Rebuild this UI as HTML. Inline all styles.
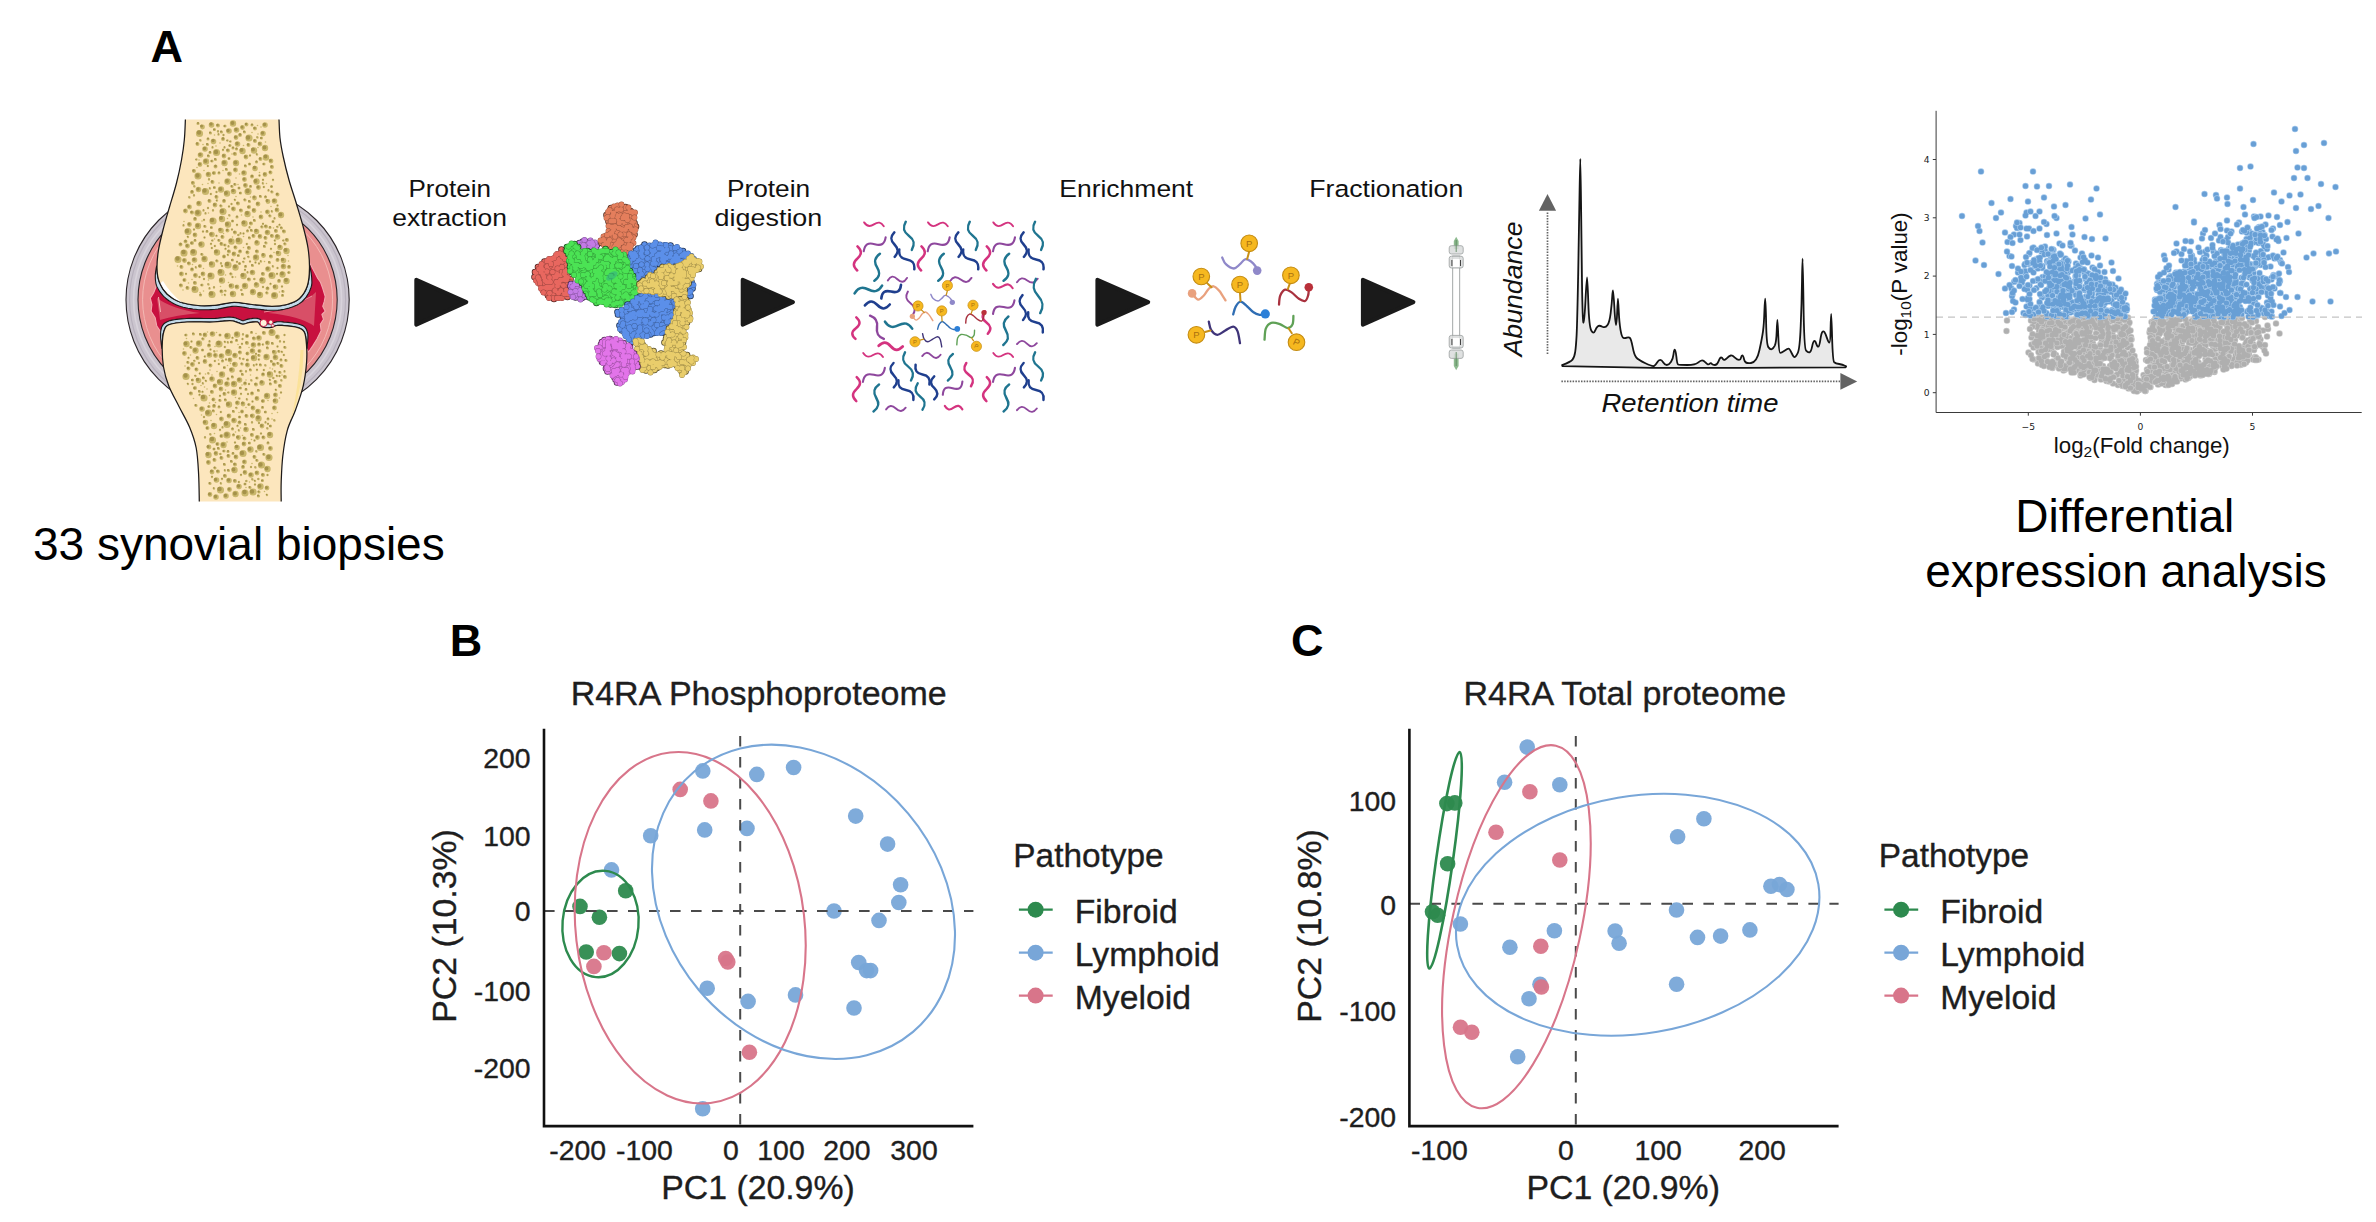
<!DOCTYPE html>
<html lang="en"><head><meta charset="utf-8"><title>Figure</title>
<style>
html,body{margin:0;padding:0;background:#fff;}
body{width:2376px;height:1222px;overflow:hidden;}
svg{display:block;}
svg text{font-family:"Liberation Sans",sans-serif;}
</style></head><body>
<svg width="2376" height="1222" viewBox="0 0 2376 1222">
<rect width="2376" height="1222" fill="#fff"/>
<g id="joint">
<ellipse cx="237.6" cy="299.8" rx="111.6" ry="112.5" fill="#cbc5cf" stroke="#2a2428" stroke-width="1.1"/>
<ellipse cx="237.6" cy="299.8" rx="108" ry="109" fill="none" stroke="#b9b2be" stroke-width="1.2"/>
<ellipse cx="237.6" cy="299.8" rx="104" ry="105" fill="none" stroke="#d8d3db" stroke-width="1.6"/>
<ellipse cx="237.6" cy="299.8" rx="99.6" ry="100.5" fill="#e98f8f" stroke="#2a2428" stroke-width="1.1"/>
<ellipse cx="237.6" cy="299.8" rx="95" ry="96" fill="none" stroke="#f3b9b4" stroke-width="1.0"/>
<path d="M160,281 L158,283 L156.8,285 L153.5,293.2 L150.3,298.1 L151.9,304.7 L151.1,311.2 L155.2,317.8 L156.8,326 L160,330.8 L161.7,339 L163,343 L170,330 L300,330 L306,346 L308,352 L309.6,350.5 L312.9,345.6 L317,339 L321.1,330.8 L320.3,324.3 L323.5,319.4 L321.9,314.5 L325.2,311.2 L322.7,306.3 L324.3,301.4 L325.2,296.5 L322.7,288.3 L320.3,281.8 L317.8,278.5 L314.5,272 L308,259.7 L306,258 L300,282 L170,282 Z" fill="#c8113f" stroke="#f3a9ae" stroke-width="1.1" stroke-linejoin="round"/>
<path d="M157,298 Q172,309 200,313 Q176,315 160,320 Z" fill="#d9566b" opacity="0.9"/>
<path d="M316,292 Q300,308 268,313 Q300,316 314,326 Z" fill="#d9566b" opacity="0.9"/>
<path d="M158.5,297 L160.5,312" fill="none" stroke="#f4b4b4" stroke-width="1.0"/>
<path d="M264,312 Q290,309 312,296" fill="none" stroke="#f0a0a8" stroke-width="0.9"/>
<path d="M157.0,266.0 L157.0,268.0 L157.1,270.0 L157.2,271.8 L157.3,273.6 L157.6,275.4 L157.9,277.1 L158.3,278.7 L158.7,280.4 L159.3,282.0 L160.0,283.6 L160.7,285.2 L161.6,286.8 L162.5,288.4 L163.5,289.9 L164.6,291.3 L165.7,292.7 L167.0,294.0 L168.3,295.2 L169.8,296.4 L171.3,297.5 L172.9,298.5 L174.5,299.5 L176.3,300.4 L178.1,301.2 L180.0,302.0 L182.0,302.7 L184.2,303.3 L186.4,303.8 L188.8,304.3 L191.1,304.7 L193.5,305.0 L195.8,305.3 L198.0,305.5 L200.2,305.7 L202.3,305.8 L204.4,305.8 L206.4,305.8 L208.5,305.7 L210.6,305.6 L212.8,305.5 L215.0,305.3 L217.3,305.0 L219.6,304.6 L222.0,304.2 L224.4,303.6 L226.9,303.2 L229.3,302.8 L231.7,302.4 L234.0,302.3 L236.3,302.3 L238.5,302.5 L240.7,302.8 L242.9,303.1 L245.1,303.5 L247.4,303.9 L249.7,304.2 L252.0,304.5 L254.4,304.8 L257.0,305.1 L259.6,305.4 L262.2,305.7 L264.8,305.9 L267.3,306.1 L269.7,306.2 L272.0,306.3 L274.1,306.3 L276.2,306.2 L278.1,306.1 L280.0,305.9 L281.8,305.6 L283.5,305.3 L285.3,305.0 L287.0,304.5 L288.7,304.0 L290.4,303.4 L292.1,302.8 L293.7,302.2 L295.3,301.4 L296.8,300.6 L298.2,299.6 L299.5,298.5 L300.7,297.3 L301.9,296.0 L303.0,294.5 L304.0,293.0 L305.0,291.4 L305.9,289.7 L306.6,287.9 L307.3,286.0 L307.9,284.0 L308.3,281.9 L308.7,279.7 L309.0,277.5 L309.2,275.1 L309.3,272.8 L309.4,270.4 L309.5,268.0 L309.5,265.6 L309.8,265.6 L310.3,268.0 L310.7,270.4 L311.1,272.9 L311.4,275.3 L311.7,277.8 L311.8,280.2 L311.9,282.6 L311.7,285.0 L311.1,287.2 L310.3,289.3 L309.5,291.4 L308.5,293.3 L307.4,295.1 L306.3,296.9 L305.0,298.5 L303.6,300.0 L302.2,301.5 L300.6,302.8 L298.9,303.9 L297.1,305.0 L295.3,305.8 L293.5,306.6 L291.7,307.2 L289.9,307.8 L288.1,308.4 L286.2,308.8 L284.3,309.3 L282.4,309.6 L280.4,309.9 L278.4,310.1 L276.4,310.2 L274.2,310.3 L272.0,310.3 L269.6,310.2 L267.0,310.1 L264.4,309.9 L261.8,309.6 L259.1,309.3 L256.5,309.0 L254.0,308.7 L251.5,308.5 L249.1,308.2 L246.7,307.8 L244.5,307.4 L242.3,307.0 L240.2,306.7 L238.1,306.5 L236.1,306.3 L234.1,306.3 L232.0,306.4 L229.9,306.7 L227.6,307.1 L225.2,307.6 L222.8,308.1 L220.4,308.6 L217.9,309.0 L215.4,309.3 L213.1,309.5 L210.9,309.6 L208.7,309.7 L206.5,309.8 L204.3,309.8 L202.1,309.8 L199.9,309.7 L197.6,309.5 L195.3,309.2 L192.9,309.0 L190.5,308.6 L188.0,308.2 L185.6,307.7 L183.2,307.2 L180.8,306.5 L178.6,305.8 L176.5,304.9 L174.5,304.0 L172.6,303.0 L170.8,301.9 L169.0,300.8 L167.3,299.5 L165.7,298.2 L164.2,296.9 L162.8,295.4 L161.5,293.8 L160.2,292.2 L159.1,290.5 L158.1,288.8 L157.1,287.0 L156.4,285.2 L155.9,283.3 L155.6,281.4 L155.4,279.5 L155.3,277.6 L155.3,275.7 L155.4,273.8 L155.6,271.9 L155.9,270.0 L156.2,268.0 L156.6,266.0 Z" fill="#c3dbea" stroke="#1d1a1a" stroke-width="1.1" stroke-linejoin="round"/>
<path d="M162.2,348.4 L162.2,346.0 L162.3,343.8 L162.3,341.6 L162.5,339.6 L162.7,337.6 L162.9,335.7 L163.2,334.0 L163.6,332.4 L164.0,331.0 L164.4,329.8 L164.8,328.7 L165.3,327.8 L165.8,327.0 L166.4,326.3 L167.2,325.6 L168.2,325.1 L169.5,324.5 L171.1,324.0 L172.8,323.5 L174.8,323.2 L177.0,322.8 L179.3,322.6 L181.7,322.4 L184.3,322.2 L187.0,322.0 L189.9,321.9 L193.1,321.9 L196.5,321.9 L200.0,321.9 L203.5,322.0 L206.9,322.0 L210.1,322.0 L213.0,322.0 L215.6,321.9 L218.1,321.7 L220.4,321.4 L222.6,321.2 L224.7,320.9 L226.6,320.7 L228.4,320.6 L230.0,320.6 L231.5,320.7 L232.7,320.9 L233.8,321.1 L234.8,321.4 L235.6,321.7 L236.4,322.0 L237.2,322.3 L238.0,322.6 L238.8,322.8 L239.4,323.1 L240.0,323.4 L240.6,323.6 L241.1,323.9 L241.7,324.1 L242.3,324.2 L243.0,324.2 L243.8,324.1 L244.6,323.9 L245.5,323.7 L246.3,323.4 L247.3,323.0 L248.2,322.7 L249.1,322.5 L250.0,322.3 L250.9,322.2 L251.9,322.0 L253.0,321.9 L254.0,321.8 L255.0,321.8 L255.9,321.8 L256.8,321.8 L257.5,322.0 L258.1,322.3 L258.6,322.6 L258.9,323.1 L259.2,323.6 L259.5,324.1 L259.8,324.7 L260.1,325.1 L260.5,325.5 L260.9,325.8 L261.2,326.1 L261.6,326.4 L262.0,326.6 L262.4,326.8 L262.8,327.0 L263.4,327.2 L264.0,327.3 L264.8,327.4 L265.7,327.5 L266.7,327.5 L267.7,327.5 L268.7,327.5 L269.7,327.5 L270.7,327.4 L271.5,327.3 L272.2,327.2 L272.8,327.0 L273.3,326.7 L273.8,326.5 L274.3,326.2 L274.8,326.0 L275.4,325.8 L276.0,325.6 L276.6,325.5 L277.2,325.4 L277.7,325.3 L278.3,325.3 L279.0,325.2 L279.8,325.2 L280.8,325.3 L282.0,325.4 L283.6,325.5 L285.5,325.7 L287.7,325.9 L290.0,326.2 L292.3,326.5 L294.4,326.8 L296.4,327.2 L298.0,327.6 L299.3,328.0 L300.4,328.5 L301.3,328.9 L302.1,329.4 L302.8,330.0 L303.4,330.7 L304.0,331.5 L304.5,332.5 L305.0,333.7 L305.4,335.0 L305.7,336.4 L305.9,338.0 L306.1,339.6 L306.2,341.4 L306.4,343.2 L306.5,345.0 L306.6,346.9 L306.7,348.8 L306.9,348.8 L307.1,346.8 L307.3,344.9 L307.5,343.1 L307.7,341.3 L307.8,339.5 L307.9,337.7 L307.9,336.0 L307.8,334.4 L307.6,332.8 L307.1,331.3 L306.6,329.9 L306.0,328.7 L305.2,327.6 L304.2,326.6 L303.0,325.8 L301.8,325.2 L300.5,324.7 L299.0,324.2 L297.1,323.8 L295.0,323.4 L292.7,323.0 L290.4,322.7 L288.0,322.4 L285.9,322.2 L283.9,322.1 L282.3,321.9 L281.0,321.8 L279.9,321.7 L278.9,321.7 L278.1,321.8 L277.3,321.8 L276.6,321.9 L276.0,322.0 L275.3,322.2 L274.4,322.4 L273.5,322.7 L272.8,323.1 L272.2,323.4 L271.8,323.6 L271.6,323.7 L271.3,323.8 L271.0,323.8 L270.4,323.9 L269.5,324.0 L268.6,324.0 L267.7,324.0 L266.7,324.0 L265.9,324.0 L265.1,323.9 L264.6,323.8 L264.2,323.8 L264.0,323.7 L263.8,323.7 L263.7,323.6 L263.6,323.5 L263.4,323.4 L263.1,323.1 L262.9,322.9 L262.9,322.9 L262.8,322.8 L262.6,322.5 L262.3,321.9 L261.8,321.1 L261.0,320.2 L259.9,319.3 L258.6,318.7 L257.3,318.4 L256.1,318.3 L254.9,318.3 L253.8,318.3 L252.6,318.4 L251.5,318.6 L250.5,318.7 L249.4,318.9 L248.3,319.1 L247.1,319.4 L246.1,319.7 L245.2,320.1 L244.4,320.3 L243.7,320.6 L243.2,320.7 L242.9,320.7 L242.7,320.7 L242.5,320.7 L242.3,320.6 L242.0,320.4 L241.5,320.2 L240.8,319.9 L239.9,319.6 L239.1,319.3 L238.4,319.0 L237.7,318.8 L236.9,318.5 L235.9,318.1 L234.7,317.7 L233.3,317.4 L231.8,317.2 L230.1,317.1 L228.2,317.1 L226.3,317.3 L224.3,317.5 L222.2,317.7 L220.1,317.9 L217.8,318.2 L215.4,318.4 L212.9,318.5 L210.1,318.5 L207.0,318.5 L203.6,318.5 L200.1,318.4 L196.6,318.4 L193.1,318.4 L189.8,318.4 L186.8,318.5 L184.1,318.7 L181.5,318.9 L178.9,319.1 L176.5,319.4 L174.2,319.7 L172.1,320.1 L170.1,320.6 L168.3,321.2 L166.7,321.9 L165.3,322.7 L164.0,323.7 L163.0,324.9 L162.2,326.1 L161.6,327.3 L161.3,328.6 L161.0,330.0 L160.7,331.7 L160.6,333.5 L160.6,335.4 L160.6,337.4 L160.8,339.4 L161.0,341.6 L161.2,343.7 L161.5,346.0 L161.9,348.4 Z" fill="#c3dbea" stroke="#1d1a1a" stroke-width="1.1" stroke-linejoin="round"/>
<path d="M185.4,119.5 C185.2,122.9 185.0,133.2 184.3,140.0 C183.7,146.8 182.8,152.8 181.5,160.0 C180.2,167.2 178.5,175.2 176.5,183.0 C174.5,190.8 171.8,199.2 169.5,207.0 C167.2,214.8 164.8,222.8 163.0,230.0 C161.2,237.2 159.5,243.7 158.5,250.0 C157.5,256.3 156.9,262.7 157.0,268.0 C157.1,273.3 157.6,277.7 159.3,282.0 C161.0,286.3 163.6,290.7 167.0,294.0 C170.4,297.3 174.8,300.1 180.0,302.0 C185.2,303.9 192.2,304.9 198.0,305.5 C203.8,306.1 209.0,305.8 215.0,305.3 C221.0,304.8 227.8,302.4 234.0,302.3 C240.2,302.2 245.7,303.8 252.0,304.5 C258.3,305.2 266.2,306.3 272.0,306.3 C277.8,306.3 282.4,305.8 287.0,304.5 C291.6,303.2 296.1,301.6 299.5,298.5 C302.9,295.4 305.6,291.1 307.3,286.0 C309.0,280.9 309.4,274.3 309.5,268.0 C309.6,261.7 309.0,254.7 308.0,248.0 C307.0,241.3 305.4,235.3 303.5,228.0 C301.6,220.7 298.9,212.0 296.5,204.0 C294.1,196.0 291.2,187.8 289.0,180.0 C286.8,172.2 284.8,164.0 283.3,157.0 C281.8,150.0 280.7,144.2 280.0,138.0 C279.3,131.8 279.2,122.6 279.0,119.5" fill="#fce6bd" stroke="#1d1a1a" stroke-width="1.25" stroke-linejoin="round"/>
<path d="M199.3,501.5 C199.2,496.9 199.1,482.9 198.6,474.0 C198.1,465.1 197.7,455.8 196.2,448.0 C194.7,440.2 192.4,433.9 189.5,427.0 C186.6,420.1 182.4,413.3 179.0,406.5 C175.6,399.7 171.4,392.6 168.8,386.0 C166.2,379.4 164.6,373.7 163.5,367.0 C162.4,360.3 162.1,352.0 162.2,346.0 C162.3,340.0 162.8,334.6 164.0,331.0 C165.2,327.4 165.7,326.0 169.5,324.5 C173.3,323.0 179.8,322.4 187.0,322.0 C194.2,321.6 205.8,322.2 213.0,322.0 C220.2,321.8 225.8,320.5 230.0,320.6 C234.2,320.7 235.8,322.0 238.0,322.6 C240.2,323.2 241.0,324.2 243.0,324.2 C245.0,324.1 247.6,322.7 250.0,322.3 C252.4,321.9 255.8,321.5 257.5,322.0 C259.2,322.5 259.4,324.6 260.5,325.5 C261.6,326.4 262.2,327.0 264.0,327.3 C265.8,327.6 269.5,327.6 271.5,327.3 C273.5,327.0 274.2,325.9 276.0,325.6 C277.8,325.3 278.3,325.1 282.0,325.4 C285.7,325.7 294.2,326.4 298.0,327.6 C301.8,328.8 303.1,329.6 304.5,332.5 C305.9,335.4 306.1,340.1 306.5,345.0 C306.9,349.9 307.1,355.2 306.6,362.0 C306.1,368.8 305.1,377.7 303.3,385.6 C301.5,393.6 298.3,402.2 295.6,409.7 C292.9,417.1 289.4,422.6 287.3,430.3 C285.2,438.0 283.8,447.4 282.8,456.0 C281.8,464.6 281.5,474.2 281.2,481.8 C280.9,489.4 281.2,498.2 281.2,501.5" fill="#fce6bd" stroke="#1d1a1a" stroke-width="1.25" stroke-linejoin="round"/>
<path d="M160.5,283 Q166,296 182,302.5 Q170,293 163,281 Z" fill="#fff"/>
<circle cx="263.6" cy="323" r="3.6" fill="#fdf3dc" stroke="#c8113f" stroke-width="0.9"/>
<circle cx="270.8" cy="322.2" r="2.2" fill="#fdf3dc" stroke="#c8113f" stroke-width="0.9"/>
<circle cx="272.8" cy="325.6" r="1.4" fill="#fdf3dc" stroke="#c8113f" stroke-width="0.7"/>
<path d="M303.5,350 Q303.5,385 291,420 Q299,385 300.5,350 Z" fill="#fbe08a" opacity="0.7"/>
<g transform="translate(150,118) scale(0.5)" fill="none" stroke-linecap="round">
<path d="M216 32h0M176 133h0M187 55h0M138 130h0M105 133h0M104 206h0M107 301h0M146 105h0M187 259h0M219 109h0M155 201h0M276 275h0M108 105h0M172 120h0M222 18h0M84 323h0M259 348h0M215 15h0M117 190h0M100 349h0M85 293h0M233 131h0M94 99h0M107 346h0M68 207h0M242 177h0M151 314h0M147 231h0M77 330h0M171 318h0M157 329h0M248 269h0M172 157h0M164 72h0M222 188h0M55 296h0M229 287h0M129 242h0M183 194h0M247 220h0M141 337h0M66 344h0M201 158h0M116 131h0M106 53h0M129 34h0M132 56h0M165 238h0M231 48h0M179 112h0M204 29h0M140 50h0M98 84h0M277 286h0M206 198h0M187 237h0M117 324h0M216 59h0M144 354h0M81 474h0M171 628h0M87 561h0M155 495h0M199 728h0M192 579h0M171 559h0M102 535h0M134 507h0M73 441h0M111 512h0M124 514h0M119 570h0M255 589h0M264 514h0M114 542h0M259 560h0M178 589h0M122 605h0M198 459h0M244 591h0M130 457h0M115 428h0M229 747h0M181 620h0M192 524h0M244 602h0M236 565h0M201 514h0M70 496h0M245 502h0M133 429h0M240 500h0M192 739h0M120 504h0M185 635h0M184 534h0M103 594h0M131 569h0M133 593h0M154 648h0M151 544h0M67 462h0M203 643h0M134 466h0M129 631h0M119 555h0M204 691h0M109 538h0M212 431h0M176 453h0M137 484h0M161 491h0" stroke="#c9b76c" stroke-width="3.2"/>
<path d="M147 34h0M144 296h0M133 148h0M158 177h0M89 137h0M222 287h0M255 175h0M88 155h0M189 281h0M194 252h0M249 201h0M255 300h0M219 115h0M226 338h0M119 341h0M264 337h0M125 59h0M187 231h0M126 185h0M161 47h0M128 339h0M218 291h0M118 123h0M111 191h0M106 227h0M156 274h0M200 75h0M134 165h0M108 322h0M159 195h0M170 164h0M137 33h0M92 299h0M72 312h0M109 239h0M214 73h0M122 152h0M151 346h0M174 214h0M187 288h0M246 124h0M165 318h0M79 159h0M226 124h0M108 204h0M99 318h0M122 252h0M155 45h0M183 344h0M151 262h0M124 260h0M149 59h0M116 180h0M209 322h0M120 141h0M116 96h0M241 332h0M107 185h0M67 215h0M117 333h0M259 214h0M200 287h0M244 187h0M146 64h0M150 354h0M164 223h0M242 262h0M88 223h0M157 257h0M181 231h0M93 83h0M255 218h0M226 212h0M174 288h0M101 45h0M190 304h0M228 138h0M250 252h0M76 238h0M195 309h0M163 172h0M177 234h0M267 245h0M130 256h0M133 236h0M197 278h0M125 245h0M254 312h0M237 145h0M211 289h0M199 219h0M250 245h0M215 39h0M226 131h0M246 297h0M136 27h0M142 291h0M222 631h0M112 526h0M205 567h0M203 525h0M235 621h0M150 705h0M231 495h0M198 532h0M269 434h0M268 474h0M210 733h0M121 633h0M180 481h0M175 616h0M138 492h0M250 507h0M184 452h0M142 731h0M106 531h0M77 480h0M213 493h0M193 726h0M269 507h0M187 482h0M228 504h0M182 714h0M210 726h0M100 511h0M142 588h0M260 447h0M192 507h0M218 483h0M182 552h0M85 532h0M129 467h0M217 722h0M130 486h0M202 698h0M128 741h0M110 639h0M231 609h0M262 549h0M209 645h0M194 563h0M156 449h0M140 624h0M173 580h0M214 504h0M259 516h0M252 544h0M247 520h0M110 477h0M263 525h0M145 619h0M99 554h0M98 490h0M179 561h0M211 699h0M236 612h0M108 598h0M105 548h0M150 448h0M170 649h0M157 549h0M249 605h0M83 447h0M144 722h0M226 453h0M205 723h0M234 754h0M150 458h0M121 463h0M204 609h0M76 532h0M240 524h0M89 486h0M152 483h0M185 442h0M186 433h0M141 672h0M91 516h0M264 468h0M254 516h0M218 610h0M124 718h0M178 728h0M178 625h0M212 472h0M196 552h0M255 457h0M208 495h0M268 448h0M119 447h0M165 440h0M117 511h0M213 667h0M140 556h0M235 714h0" stroke="#c9b76c" stroke-width="4.8"/>
<path d="M147 34h0M144 296h0M133 148h0M158 177h0M88 136h0M221 286h0M255 175h0M88 154h0M188 281h0M193 252h0M249 200h0M255 300h0M219 115h0M226 338h0M119 340h0M264 337h0M125 58h0M187 231h0M126 184h0M160 47h0M128 338h0M218 291h0M118 122h0M111 190h0M106 227h0M155 273h0M200 75h0M133 165h0M108 322h0M158 194h0M169 163h0M137 32h0M91 298h0M72 311h0M109 239h0M213 72h0M121 152h0M150 345h0M174 213h0M186 287h0M246 123h0M165 318h0M78 158h0M226 123h0M108 203h0M99 318h0M122 251h0M154 45h0M182 344h0M151 261h0M123 260h0M149 58h0M116 180h0M208 322h0M119 140h0M115 96h0M241 331h0M107 184h0M67 214h0M116 332h0M259 213h0M200 287h0M243 186h0M146 63h0M149 353h0M164 223h0M242 261h0M88 223h0M157 256h0M181 230h0M92 83h0M254 217h0M226 211h0M174 287h0M100 44h0M190 303h0M227 138h0M250 252h0M75 237h0M195 308h0M163 172h0M176 234h0M266 245h0M129 256h0M133 235h0M196 277h0M124 245h0M254 311h0M237 144h0M211 289h0M199 218h0M249 245h0M214 38h0M225 130h0M245 296h0M136 26h0M142 290h0M222 631h0M111 525h0M205 567h0M202 524h0M234 620h0M149 704h0M230 494h0M198 532h0M269 434h0M267 474h0M210 733h0M120 632h0M179 480h0M175 615h0M137 492h0M249 506h0M184 451h0M141 730h0M105 530h0M77 479h0M213 493h0M192 726h0M269 506h0M186 482h0M227 504h0M182 713h0M209 725h0M99 511h0M141 588h0M260 446h0M192 506h0M217 483h0M182 551h0M85 532h0M128 466h0M216 722h0M129 486h0M202 698h0M127 740h0M110 638h0M231 608h0M262 549h0M209 645h0M193 562h0M155 448h0M140 623h0M172 579h0M214 503h0M259 516h0M251 543h0M246 520h0M109 477h0M262 524h0M145 618h0M99 553h0M98 490h0M178 561h0M210 698h0M236 611h0M108 598h0M105 547h0M149 447h0M170 649h0M156 549h0M248 604h0M83 447h0M144 721h0M225 453h0M204 722h0M233 753h0M149 458h0M121 463h0M204 608h0M75 531h0M239 523h0M88 485h0M152 483h0M185 442h0M186 432h0M140 672h0M90 515h0M263 467h0M253 515h0M218 610h0M124 717h0M177 728h0M177 624h0M212 471h0M196 552h0M255 457h0M207 494h0M268 447h0M119 446h0M165 439h0M116 510h0M212 666h0M140 555h0M235 714h0" stroke="#a5924a" stroke-width="3.0"/>
<path d="M231 158h0M199 167h0M270 252h0M124 86h0M191 96h0M150 16h0M104 273h0M234 350h0M232 250h0M153 103h0M116 42h0M178 140h0M204 14h0M129 139h0M263 220h0M203 225h0M134 286h0M199 240h0M181 150h0M246 207h0M243 137h0M240 196h0M121 30h0M96 11h0M158 81h0M165 206h0M162 312h0M278 309h0M90 245h0M138 110h0M120 69h0M165 284h0M174 198h0M239 289h0M228 92h0M164 137h0M138 245h0M224 218h0M213 88h0M101 354h0M244 148h0M179 291h0M143 28h0M189 28h0M205 295h0M229 257h0M150 254h0M142 176h0M115 53h0M123 219h0M221 157h0M209 205h0M173 62h0M265 355h0M160 55h0M199 92h0M201 137h0M190 164h0M177 275h0M223 40h0M170 133h0M240 219h0M104 334h0M195 226h0M117 76h0M166 60h0M185 353h0M266 347h0M131 83h0M110 217h0M129 23h0M114 227h0M191 297h0M270 459h0M225 579h0M241 532h0M214 685h0M258 467h0M245 451h0M87 432h0M241 616h0M243 487h0M272 485h0M101 433h0M256 491h0M127 586h0M149 693h0M76 489h0M179 598h0M217 756h0M128 662h0M191 613h0M236 602h0M201 504h0M106 442h0M82 459h0M140 565h0M182 506h0M137 661h0M217 545h0M236 650h0M207 623h0M190 732h0M165 518h0M192 543h0M163 687h0M260 509h0M72 434h0M218 748h0M167 587h0M165 622h0M228 673h0M85 524h0M130 700h0M214 520h0M173 445h0M166 671h0M235 460h0M200 739h0M149 499h0M199 650h0M181 540h0M218 475h0M180 459h0M163 448h0M151 564h0M92 575h0M185 513h0M262 484h0M167 634h0M99 547h0M157 705h0M198 573h0M231 588h0M203 429h0M105 464h0M138 578h0M156 667h0M140 434h0M145 486h0M195 484h0M148 666h0M156 522h0M225 725h0M184 492h0M221 494h0M120 731h0M107 520h0M118 577h0" stroke="#c9b76c" stroke-width="6.4"/>
<path d="M231 157h0M198 166h0M269 251h0M123 86h0M190 95h0M149 16h0M103 272h0M233 349h0M231 249h0M152 102h0M116 41h0M178 140h0M204 13h0M128 139h0M262 219h0M202 224h0M133 285h0M198 239h0M180 150h0M246 207h0M243 137h0M239 195h0M120 29h0M96 10h0M158 81h0M165 206h0M161 311h0M277 309h0M90 244h0M138 109h0M120 68h0M164 284h0M174 197h0M238 288h0M227 92h0M163 136h0M137 244h0M223 217h0M213 87h0M101 353h0M243 147h0M179 291h0M142 27h0M188 27h0M204 294h0M228 256h0M149 254h0M141 175h0M114 52h0M122 219h0M220 156h0M208 204h0M173 61h0M265 354h0M159 55h0M199 92h0M201 136h0M189 163h0M176 275h0M222 40h0M169 132h0M240 218h0M103 334h0M195 225h0M116 75h0M166 59h0M184 352h0M265 346h0M130 82h0M109 216h0M128 23h0M114 226h0M191 296h0M269 458h0M225 578h0M240 531h0M213 684h0M257 466h0M244 450h0M86 431h0M240 616h0M242 486h0M271 484h0M100 432h0M255 490h0M126 585h0M148 692h0M75 488h0M179 598h0M216 755h0M128 662h0M190 612h0M236 601h0M200 503h0M105 441h0M81 458h0M139 564h0M181 506h0M136 660h0M216 544h0M236 649h0M206 622h0M190 732h0M164 517h0M192 542h0M162 686h0M259 508h0M71 434h0M217 747h0M166 586h0M165 621h0M227 672h0M84 524h0M129 699h0M213 520h0M173 444h0M166 670h0M234 459h0M199 738h0M148 499h0M198 650h0M180 540h0M217 474h0M180 458h0M162 448h0M150 563h0M91 574h0M184 512h0M262 483h0M167 633h0M98 546h0M156 704h0M197 573h0M230 588h0M203 428h0M105 464h0M138 577h0M156 666h0M140 434h0M145 485h0M194 484h0M147 666h0M156 521h0M224 725h0M183 491h0M220 493h0M119 730h0M106 519h0M117 577h0" stroke="#a5924a" stroke-width="4.0"/>
<path d="M202 211h0M86 130h0M235 341h0M198 323h0M258 326h0M75 340h0M170 72h0M156 65h0M176 171h0M255 153h0M84 148h0M131 97h0M145 238h0M146 42h0M158 267h0M90 202h0M210 21h0M148 277h0M268 227h0M197 54h0M170 229h0M195 269h0M155 225h0M71 247h0M136 15h0M143 252h0M180 267h0M100 296h0M204 117h0M255 284h0M61 253h0M63 298h0M95 52h0M180 34h0M119 166h0M231 240h0M84 303h0M244 98h0M62 335h0M232 217h0M143 347h0M214 267h0M182 185h0M274 244h0M69 324h0M221 82h0M90 330h0M252 226h0M242 277h0M210 46h0M88 106h0M193 13h0M198 260h0M128 110h0M84 250h0M171 259h0M84 189h0M226 312h0M133 158h0M278 298h0M244 236h0M207 236h0M198 178h0M148 166h0M125 128h0M241 109h0M78 291h0M136 707h0M219 466h0M204 551h0M195 471h0M209 678h0M118 455h0M190 531h0M149 552h0M260 536h0M180 469h0M124 548h0M186 698h0M226 714h0M157 676h0M189 641h0M208 441h0M95 480h0M143 636h0M184 587h0M93 503h0M226 566h0M170 726h0M179 609h0M128 576h0M212 533h0M193 596h0M127 563h0M251 528h0M77 501h0M121 495h0M194 450h0M204 634h0M82 551h0M129 684h0M170 693h0M135 652h0M194 436h0M263 496h0M248 493h0M228 430h0M150 716h0M115 620h0M270 518h0M226 513h0M143 680h0M227 639h0M218 453h0M90 540h0" stroke="#c9b76c" stroke-width="8.0"/>
<path d="M201 210h0M85 129h0M235 340h0M197 322h0M258 325h0M74 339h0M169 71h0M155 64h0M175 170h0M254 152h0M84 147h0M131 96h0M144 237h0M146 41h0M157 266h0M90 201h0M209 20h0M148 277h0M267 226h0M196 53h0M169 228h0M194 268h0M154 224h0M71 246h0M135 14h0M142 251h0M180 266h0M99 296h0M204 116h0M255 283h0M61 252h0M62 297h0M94 51h0M180 33h0M118 165h0M230 239h0M84 302h0M243 97h0M61 334h0M231 216h0M142 346h0M213 266h0M181 184h0M273 243h0M68 324h0M220 81h0M89 329h0M251 225h0M241 276h0M209 45h0M87 105h0M192 12h0M197 259h0M127 110h0M83 250h0M170 258h0M83 188h0M225 311h0M132 157h0M278 297h0M243 235h0M206 235h0M197 178h0M148 165h0M124 127h0M240 108h0M77 290h0M135 706h0M218 466h0M204 550h0M194 471h0M208 677h0M118 454h0M190 530h0M148 551h0M259 535h0M179 468h0M123 547h0M186 697h0M225 713h0M156 675h0M188 640h0M207 440h0M94 479h0M142 636h0M184 587h0M92 502h0M225 566h0M169 725h0M179 608h0M128 575h0M211 532h0M192 595h0M126 563h0M250 527h0M76 500h0M120 494h0M193 449h0M203 633h0M81 550h0M128 683h0M169 692h0M134 652h0M194 436h0M262 495h0M247 492h0M227 429h0M149 715h0M114 620h0M269 517h0M226 512h0M142 679h0M226 638h0M218 452h0M89 540h0" stroke="#a5924a" stroke-width="5.0"/>
<path d="M217 139h0M227 275h0M79 178h0M235 188h0M185 19h0M100 93h0M189 123h0M208 185h0M236 167h0M130 174h0M79 213h0M254 184h0M105 18h0M69 285h0M209 160h0M216 172h0M159 112h0M167 182h0M171 104h0M230 113h0M220 52h0M90 234h0M191 135h0M148 76h0M222 198h0M63 312h0M174 338h0M106 312h0M91 315h0M192 78h0M220 237h0M168 272h0M75 256h0M71 186h0M242 86h0M172 39h0M158 596h0M177 639h0M190 709h0M132 671h0M255 438h0M118 658h0M234 740h0M195 494h0M235 450h0M249 469h0M85 493h0M215 639h0M172 678h0M175 570h0M214 561h0M224 616h0M160 484h0M143 602h0M159 743h0M251 554h0M130 536h0M110 487h0M189 688h0M117 689h0M206 580h0M120 753h0M205 596h0M188 652h0M214 710h0M124 708h0M186 572h0M110 434h0M142 542h0M249 580h0M241 661h0M131 475h0M69 471h0" stroke="#c9b76c" stroke-width="9.6"/>
<path d="M216 138h0M226 273h0M78 177h0M234 187h0M184 18h0M99 92h0M188 122h0M207 184h0M234 165h0M129 173h0M78 212h0M253 183h0M103 16h0M68 284h0M208 158h0M215 171h0M158 111h0M166 181h0M170 103h0M229 112h0M219 51h0M89 233h0M190 134h0M147 75h0M221 197h0M62 311h0M173 337h0M105 311h0M90 314h0M191 77h0M219 236h0M167 271h0M74 255h0M70 185h0M241 85h0M171 38h0M157 595h0M175 638h0M189 708h0M131 670h0M254 437h0M116 657h0M233 739h0M194 493h0M234 449h0M247 467h0M84 492h0M214 638h0M171 677h0M174 569h0M213 560h0M223 615h0M159 483h0M142 601h0M158 742h0M250 553h0M129 535h0M109 486h0M188 687h0M116 688h0M205 579h0M119 752h0M203 595h0M187 651h0M213 709h0M123 706h0M185 570h0M109 433h0M141 541h0M248 579h0M240 660h0M130 474h0M68 470h0" stroke="#a5924a" stroke-width="6.0"/>
<path d="M110 62h0M226 31h0M97 143h0M163 336h0M255 238h0M213 227h0M249 166h0M117 113h0M210 101h0M142 225h0M173 24h0M236 302h0M214 250h0M235 229h0M257 271h0M124 233h0M127 47h0M230 14h0M175 52h0M213 334h0M101 74h0M267 297h0M251 338h0M188 110h0M205 309h0M123 14h0M267 285h0M89 284h0M98 171h0M167 147h0M158 26h0M260 259h0M216 587h0M207 454h0M164 504h0M179 524h0M132 758h0M124 522h0M133 724h0M178 737h0M205 466h0M192 623h0M111 609h0M168 605h0M143 476h0M104 582h0M170 475h0M224 530h0M218 440h0M152 756h0M251 566h0M170 493h0M154 532h0M158 725h0M97 525h0M202 714h0M251 479h0M125 432h0M119 474h0M174 659h0" stroke="#c9b76c" stroke-width="11.2"/>
<path d="M109 61h0M225 30h0M96 142h0M161 335h0M254 236h0M212 225h0M248 165h0M116 112h0M209 99h0M140 223h0M172 23h0M235 301h0M213 248h0M234 228h0M255 269h0M122 232h0M126 45h0M229 13h0M174 51h0M212 332h0M100 73h0M266 296h0M249 337h0M187 109h0M204 308h0M122 12h0M265 283h0M88 283h0M97 170h0M166 145h0M156 25h0M259 257h0M215 586h0M206 453h0M162 503h0M178 523h0M131 757h0M123 521h0M131 723h0M177 736h0M204 465h0M191 622h0M109 608h0M167 604h0M142 475h0M103 581h0M169 474h0M223 528h0M217 439h0M151 755h0M249 565h0M168 492h0M153 531h0M157 724h0M95 523h0M201 713h0M250 478h0M124 431h0M118 473h0M173 657h0" stroke="#a5924a" stroke-width="6.9"/>
<path d="M195 192h0M220 354h0M187 316h0M265 313h0M262 194h0M112 87h0M225 325h0M190 336h0M166 352h0M144 325h0M171 299h0M166 11h0M163 247h0M232 79h0M273 266h0M172 90h0M189 211h0M124 293h0M103 253h0M185 66h0M213 127h0M144 202h0M230 60h0M142 143h0M206 348h0M273 326h0M109 282h0M134 269h0M154 151h0M155 127h0M208 65h0M212 279h0M149 90h0M156 213h0M96 216h0M158 573h0M98 451h0M240 513h0M169 704h0M168 532h0M155 436h0M128 616h0M217 601h0M174 433h0M171 752h0M117 674h0M144 513h0M208 480h0M235 702h0M240 634h0M221 737h0M234 556h0M147 654h0M140 528h0M201 663h0M91 465h0M73 452h0M233 478h0M168 549h0" stroke="#c9b76c" stroke-width="12.8"/>
<path d="M194 190h0M219 352h0M185 314h0M264 311h0M261 193h0M111 86h0M223 323h0M189 335h0M164 351h0M142 324h0M170 297h0M165 10h0M161 245h0M231 77h0M271 264h0M171 89h0M187 209h0M122 291h0M101 252h0M183 64h0M211 126h0M142 200h0M229 59h0M141 142h0M205 347h0M272 324h0M108 281h0M132 267h0M152 150h0M154 126h0M206 63h0M211 278h0M148 89h0M154 212h0M95 215h0M156 572h0M97 450h0M238 511h0M167 703h0M167 531h0M153 435h0M127 614h0M216 599h0M173 432h0M170 751h0M115 672h0M143 512h0M206 479h0M233 701h0M239 632h0M219 736h0M233 555h0M146 653h0M138 527h0M199 662h0M90 464h0M71 451h0M232 477h0M167 548h0" stroke="#a5924a" stroke-width="7.9"/>
<path d="M76 227h0M196 147h0M122 316h0M126 206h0M90 343h0M156 294h0M178 246h0M249 355h0M87 269h0M111 147h0M96 116h0M142 309h0M96 190h0M56 283h0M99 31h0M68 270h0M124 353h0M198 40h0M146 187h0M133 69h0M244 315h0M154 613h0M72 517h0M186 671h0M223 694h0M154 634h0M141 744h0M238 679h0M125 644h0M108 560h0M138 452h0M157 469h0M206 748h0M221 659h0M190 750h0M117 590h0M244 429h0" stroke="#c9b76c" stroke-width="14.4"/>
<path d="M74 226h0M195 146h0M120 314h0M124 204h0M88 341h0M154 292h0M176 244h0M248 354h0M86 267h0M109 145h0M95 115h0M140 307h0M95 189h0M55 281h0M98 29h0M67 268h0M122 351h0M196 39h0M144 186h0M132 68h0M242 314h0M152 611h0M71 515h0M184 670h0M221 693h0M153 633h0M139 742h0M237 678h0M124 642h0M106 558h0M137 450h0M156 467h0M204 747h0M219 658h0M189 748h0M115 589h0M243 427h0" stroke="#a5924a" stroke-width="8.9"/>
</g>
</g>
<g id="protein">
<g transform="translate(520,190) scale(0.5)" fill="none" stroke-linecap="round">
<path d="M63 168h0M88 158h0M55 169h0M57 149h0M91 151h0M38 168h0M34 169h0M94 148h0M93 125h0M83 148h0M95 214h0M71 206h0M70 149h0M67 154h0M99 163h0M60 154h0M79 165h0M90 143h0M55 181h0M29 174h0M75 211h0M50 200h0M93 197h0M84 207h0M44 190h0M87 211h0M56 211h0M101 178h0M82 191h0M68 181h0M49 165h0M49 143h0M83 119h0M68 218h0M30 164h0M62 158h0M50 149h0M61 191h0M77 130h0M85 176h0M49 187h0M89 149h0M50 169h0M82 213h0M69 212h0M48 153h0M51 191h0M36 154h0M83 186h0M63 214h0M35 162h0M76 202h0M54 174h0M64 201h0M83 195h0" stroke="#532522" stroke-width="13.2"/>
<path d="M63 168h0M88 158h0M55 169h0M57 149h0M91 151h0M38 168h0M34 169h0M94 148h0M93 125h0M83 148h0M95 214h0M71 206h0M70 149h0M67 154h0M99 163h0M60 154h0M79 165h0M90 143h0M55 181h0M29 174h0M75 211h0M50 200h0M93 197h0M84 207h0M44 190h0M87 211h0M56 211h0M101 178h0M82 191h0M68 181h0M49 165h0M49 143h0M83 119h0M68 218h0M30 164h0M62 158h0M50 149h0M61 191h0M77 130h0M85 176h0M49 187h0M89 149h0M50 169h0M82 213h0M69 212h0M48 153h0M51 191h0M36 154h0M83 186h0M63 214h0M35 162h0M76 202h0M54 174h0M64 201h0M83 195h0" stroke="#e8675f" stroke-width="10.0"/>
<path d="M82 157h0M84 216h0M84 163h0M61 162h0M52 206h0M67 187h0M77 197h0M91 184h0M66 174h0M36 186h0M72 143h0M58 190h0M78 216h0M77 174h0M55 158h0M93 192h0M93 168h0M60 195h0M81 137h0M74 169h0M96 195h0M68 191h0M67 206h0M77 179h0M67 196h0M71 152h0M64 180h0M74 138h0M98 184h0M32 181h0M86 200h0M73 175h0M70 170h0M78 153h0M90 130h0M54 153h0M46 179h0M100 189h0M58 202h0M81 171h0M52 195h0M73 162h0M72 197h0M74 216h0M42 197h0M75 149h0M42 173h0M45 201h0M46 197h0M40 189h0M67 143h0M85 143h0M79 143h0M68 159h0M50 160h0" stroke="#9d4640" stroke-width="11.6"/>
<path d="M82 157h0M84 216h0M84 163h0M61 162h0M52 206h0M67 187h0M77 197h0M91 184h0M66 174h0M36 186h0M72 143h0M58 190h0M78 216h0M77 174h0M55 158h0M93 192h0M93 168h0M60 195h0M81 137h0M74 169h0M96 195h0M68 191h0M67 206h0M77 179h0M67 196h0M71 152h0M64 180h0M74 138h0M98 184h0M32 181h0M86 200h0M73 175h0M70 170h0M78 153h0M90 130h0M54 153h0M46 179h0M100 189h0M58 202h0M81 171h0M52 195h0M73 162h0M72 197h0M74 216h0M42 197h0M75 149h0M42 173h0M45 201h0M46 197h0M40 189h0M67 143h0M85 143h0M79 143h0M68 159h0M50 160h0" stroke="#e8675f" stroke-width="10.0"/>
<path d="M102 185h0M59 175h0M63 138h0M45 159h0M92 175h0M77 206h0M43 148h0M95 175h0M97 208h0M58 216h0M75 157h0M87 191h0M38 158h0M89 168h0M70 201h0M78 187h0M61 184h0M59 206h0M90 121h0M42 164h0M94 160h0M90 138h0M36 175h0M82 201h0M54 142h0M85 133h0M88 179h0M42 152h0M74 128h0M58 141h0M75 192h0M73 184h0M47 205h0M93 180h0M68 136h0M40 186h0M72 130h0M90 163h0M102 201h0M89 208h0M38 179h0M58 138h0M93 200h0M46 169h0M48 174h0M54 163h0M80 127h0M81 180h0M50 181h0M89 127h0M84 154h0M62 148h0M65 164h0M54 184h0" stroke="#9d4640" stroke-width="11.6"/>
<path d="M102 185h0M59 175h0M63 138h0M45 159h0M92 175h0M77 206h0M43 148h0M95 175h0M97 208h0M58 216h0M75 157h0M87 191h0M38 158h0M89 168h0M70 201h0M78 187h0M61 184h0M59 206h0M90 121h0M42 164h0M94 160h0M90 138h0M36 175h0M82 201h0M54 142h0M85 133h0M88 179h0M42 152h0M74 128h0M58 141h0M75 192h0M73 184h0M47 205h0M93 180h0M68 136h0M40 186h0M72 130h0M90 163h0M102 201h0M89 208h0M38 179h0M58 138h0M93 200h0M46 169h0M48 174h0M54 163h0M80 127h0M81 180h0M50 181h0M89 127h0M84 154h0M62 148h0M65 164h0M54 184h0" stroke="#e8675f" stroke-width="10.0"/>
<path d="M131 103h0M154 110h0M136 121h0M151 116h0M126 103h0M119 106h0M146 115h0" stroke="#462c52" stroke-width="13.2"/>
<path d="M131 103h0M154 110h0M136 121h0M151 116h0M126 103h0M119 106h0M146 115h0" stroke="#c37be6" stroke-width="10.0"/>
<path d="M150 105h0M136 109h0M129 100h0M124 109h0M141 101h0M134 116h0M141 109h0" stroke="#84539c" stroke-width="11.6"/>
<path d="M150 105h0M136 109h0M129 100h0M124 109h0M141 101h0M134 116h0M141 109h0" stroke="#c37be6" stroke-width="10.0"/>
<path d="M139 115h0M146 109h0M141 122h0M139 106h0M128 116h0M144 105h0M127 110h0" stroke="#84539c" stroke-width="11.6"/>
<path d="M139 115h0M146 109h0M141 122h0M139 106h0M128 116h0M144 105h0M127 110h0" stroke="#c37be6" stroke-width="10.0"/>
<path d="M123 205h0M102 188h0M124 216h0M128 200h0M117 192h0M101 192h0M111 215h0M134 210h0M132 213h0M118 215h0M107 198h0" stroke="#462c52" stroke-width="13.2"/>
<path d="M123 205h0M102 188h0M124 216h0M128 200h0M117 192h0M101 192h0M111 215h0M134 210h0M132 213h0M118 215h0M107 198h0" stroke="#c37be6" stroke-width="10.0"/>
<path d="M114 192h0M114 208h0M127 209h0M104 203h0M109 211h0M104 211h0M103 199h0M125 193h0M117 204h0M116 200h0" stroke="#84539c" stroke-width="11.6"/>
<path d="M114 192h0M114 208h0M127 209h0M104 203h0M109 211h0M104 211h0M103 199h0M125 193h0M117 204h0M116 200h0" stroke="#c37be6" stroke-width="10.0"/>
<path d="M121 219h0M121 200h0M111 202h0M132 205h0M106 214h0M105 193h0M120 208h0M110 187h0M114 188h0M101 204h0" stroke="#84539c" stroke-width="11.6"/>
<path d="M121 219h0M121 200h0M111 202h0M132 205h0M106 214h0M105 193h0M120 208h0M110 187h0M114 188h0M101 204h0" stroke="#c37be6" stroke-width="10.0"/>
<path d="M216 39h0M221 42h0M183 103h0M206 45h0M204 110h0M174 101h0M209 40h0M196 62h0M215 83h0M206 122h0M196 73h0M191 101h0M177 63h0M204 34h0M229 89h0M182 36h0M232 73h0M209 93h0M203 72h0M206 99h0M207 71h0M213 125h0M229 66h0M186 55h0M211 34h0M214 104h0M198 57h0M224 58h0M193 88h0M208 105h0M207 60h0M224 87h0M191 42h0M163 106h0M227 74h0M220 51h0M179 58h0M207 66h0M216 67h0M216 77h0M216 93h0M189 106h0M188 100h0M182 39h0M217 58h0M192 45h0M200 44h0M217 120h0M173 50h0M193 66h0M211 111h0M212 55h0M212 121h0" stroke="#522d21" stroke-width="13.2"/>
<path d="M216 39h0M221 42h0M183 103h0M206 45h0M204 110h0M174 101h0M209 40h0M196 62h0M215 83h0M206 122h0M196 73h0M191 101h0M177 63h0M204 34h0M229 89h0M182 36h0M232 73h0M209 93h0M203 72h0M206 99h0M207 71h0M213 125h0M229 66h0M186 55h0M211 34h0M214 104h0M198 57h0M224 58h0M193 88h0M208 105h0M207 60h0M224 87h0M191 42h0M163 106h0M227 74h0M220 51h0M179 58h0M207 66h0M216 67h0M216 77h0M216 93h0M189 106h0M188 100h0M182 39h0M217 58h0M192 45h0M200 44h0M217 120h0M173 50h0M193 66h0M211 111h0M212 55h0M212 121h0" stroke="#e47e5c" stroke-width="10.0"/>
<path d="M227 63h0M205 88h0M194 57h0M210 66h0M185 90h0M219 125h0M219 105h0M181 109h0M201 63h0M192 50h0M188 33h0M224 100h0M195 31h0M220 83h0M211 46h0M201 83h0M217 35h0M224 44h0M192 77h0M177 52h0M201 51h0M212 88h0M182 114h0M228 49h0M167 93h0M224 68h0M198 66h0M230 45h0M185 93h0M227 106h0M172 114h0M196 93h0M173 56h0M191 83h0M187 68h0M219 61h0M186 111h0M195 114h0M201 36h0M195 84h0M201 114h0M227 95h0M195 52h0M207 85h0M170 92h0M219 44h0M179 68h0M181 45h0M182 77h0M194 34h0M202 92h0M177 94h0M177 82h0" stroke="#9b553e" stroke-width="11.6"/>
<path d="M227 63h0M205 88h0M194 57h0M210 66h0M185 90h0M219 125h0M219 105h0M181 109h0M201 63h0M192 50h0M188 33h0M224 100h0M195 31h0M220 83h0M211 46h0M201 83h0M217 35h0M224 44h0M192 77h0M177 52h0M201 51h0M212 88h0M182 114h0M228 49h0M167 93h0M224 68h0M198 66h0M230 45h0M185 93h0M227 106h0M172 114h0M196 93h0M173 56h0M191 83h0M187 68h0M219 61h0M186 111h0M195 114h0M201 36h0M195 84h0M201 114h0M227 95h0M195 52h0M207 85h0M170 92h0M219 44h0M179 68h0M181 45h0M182 77h0M194 34h0M202 92h0M177 94h0M177 82h0" stroke="#e47e5c" stroke-width="10.0"/>
<path d="M229 83h0M198 101h0M214 52h0M176 44h0M188 62h0M168 110h0M203 29h0M215 115h0M215 60h0M214 74h0M161 101h0M174 90h0M187 79h0M181 87h0M190 93h0M190 73h0M220 73h0M229 55h0M206 56h0M208 115h0M184 85h0M172 106h0M209 51h0M185 52h0M189 114h0M197 104h0M202 39h0M220 117h0M197 111h0M194 39h0M182 62h0M222 111h0M176 105h0M179 40h0M198 76h0M187 46h0M218 110h0M177 72h0M192 109h0M179 100h0M201 89h0M184 74h0M204 79h0M223 79h0M231 79h0M211 79h0M217 100h0M203 105h0M213 100h0M221 94h0M218 89h0M175 110h0M167 99h0" stroke="#9b553e" stroke-width="11.6"/>
<path d="M229 83h0M198 101h0M214 52h0M176 44h0M188 62h0M168 110h0M203 29h0M215 115h0M215 60h0M214 74h0M161 101h0M174 90h0M187 79h0M181 87h0M190 93h0M190 73h0M220 73h0M229 55h0M206 56h0M208 115h0M184 85h0M172 106h0M209 51h0M185 52h0M189 114h0M197 104h0M202 39h0M220 117h0M197 111h0M194 39h0M182 62h0M222 111h0M176 105h0M179 40h0M198 76h0M187 46h0M218 110h0M177 72h0M192 109h0M179 100h0M201 89h0M184 74h0M204 79h0M223 79h0M231 79h0M211 79h0M217 100h0M203 105h0M213 100h0M221 94h0M218 89h0M175 110h0M167 99h0" stroke="#e47e5c" stroke-width="10.0"/>
<path d="M306 131h0M330 142h0M243 175h0M326 122h0M284 148h0M301 166h0M249 109h0M258 119h0M327 170h0M236 117h0M226 143h0M301 111h0M290 116h0M256 153h0M341 212h0M261 146h0M327 160h0M309 158h0M299 120h0M348 144h0M299 159h0M293 126h0M302 143h0M259 158h0M230 168h0M249 120h0M328 204h0M243 165h0M292 144h0M328 214h0M249 170h0M257 132h0M239 120h0M279 148h0M247 159h0M339 177h0M342 174h0M263 142h0M334 213h0M237 149h0M224 147h0M251 132h0M318 163h0M256 142h0M305 153h0M274 109h0M247 127h0M322 179h0M250 165h0M339 144h0M312 121h0M243 179h0M322 148h0M232 121h0M261 164h0M293 132h0M283 153h0M261 125h0M283 143h0M270 143h0M305 161h0M345 197h0M308 121h0M341 159h0M343 184h0M225 154h0M335 201h0M251 142h0M269 153h0M324 198h0M223 159h0M277 136h0M232 141h0M249 136h0M322 190h0M298 128h0M336 191h0M221 133h0M239 164h0M246 114h0M336 182h0M320 196h0M324 152h0M297 170h0M319 153h0M303 136h0M251 174h0" stroke="#203353" stroke-width="13.2"/>
<path d="M306 131h0M330 142h0M243 175h0M326 122h0M284 148h0M301 166h0M249 109h0M258 119h0M327 170h0M236 117h0M226 143h0M301 111h0M290 116h0M256 153h0M341 212h0M261 146h0M327 160h0M309 158h0M299 120h0M348 144h0M299 159h0M293 126h0M302 143h0M259 158h0M230 168h0M249 120h0M328 204h0M243 165h0M292 144h0M328 214h0M249 170h0M257 132h0M239 120h0M279 148h0M247 159h0M339 177h0M342 174h0M263 142h0M334 213h0M237 149h0M224 147h0M251 132h0M318 163h0M256 142h0M305 153h0M274 109h0M247 127h0M322 179h0M250 165h0M339 144h0M312 121h0M243 179h0M322 148h0M232 121h0M261 164h0M293 132h0M283 153h0M261 125h0M283 143h0M270 143h0M305 161h0M345 197h0M308 121h0M341 159h0M343 184h0M225 154h0M335 201h0M251 142h0M269 153h0M324 198h0M223 159h0M277 136h0M232 141h0M249 136h0M322 190h0M298 128h0M336 191h0M221 133h0M239 164h0M246 114h0M336 182h0M320 196h0M324 152h0M297 170h0M319 153h0M303 136h0M251 174h0" stroke="#5b8fe9" stroke-width="10.0"/>
<path d="M333 137h0M321 126h0M338 196h0M243 137h0M303 117h0M289 155h0M225 163h0M327 138h0M269 132h0M240 155h0M219 153h0M344 144h0M230 174h0M325 177h0M313 165h0M237 127h0M339 186h0M337 165h0M330 185h0M223 169h0M250 154h0M235 160h0M294 154h0M221 138h0M258 136h0M323 159h0M218 148h0M274 141h0M333 147h0M299 137h0M283 119h0M324 137h0M315 179h0M308 147h0M265 115h0M337 153h0M313 187h0M244 141h0M268 159h0M236 137h0M289 110h0M343 132h0M268 120h0M261 133h0M298 116h0M336 170h0M246 147h0M309 171h0M317 128h0M273 138h0M263 120h0M317 130h0M298 150h0M243 153h0M329 192h0M327 184h0M316 190h0M319 120h0M348 138h0M329 154h0M310 127h0M291 159h0M258 163h0M237 141h0M318 142h0M293 148h0M239 133h0M323 170h0M316 158h0M334 160h0M274 121h0M280 109h0M266 126h0M315 171h0M307 164h0M306 174h0M273 127h0M233 165h0M259 111h0M308 179h0M337 131h0M301 154h0M258 115h0M231 147h0M262 154h0M273 116h0M228 160h0" stroke="#3d619e" stroke-width="11.6"/>
<path d="M333 137h0M321 126h0M338 196h0M243 137h0M303 117h0M289 155h0M225 163h0M327 138h0M269 132h0M240 155h0M219 153h0M344 144h0M230 174h0M325 177h0M313 165h0M237 127h0M339 186h0M337 165h0M330 185h0M223 169h0M250 154h0M235 160h0M294 154h0M221 138h0M258 136h0M323 159h0M218 148h0M274 141h0M333 147h0M299 137h0M283 119h0M324 137h0M315 179h0M308 147h0M265 115h0M337 153h0M313 187h0M244 141h0M268 159h0M236 137h0M289 110h0M343 132h0M268 120h0M261 133h0M298 116h0M336 170h0M246 147h0M309 171h0M317 128h0M273 138h0M263 120h0M317 130h0M298 150h0M243 153h0M329 192h0M327 184h0M316 190h0M319 120h0M348 138h0M329 154h0M310 127h0M291 159h0M258 163h0M237 141h0M318 142h0M293 148h0M239 133h0M323 170h0M316 158h0M334 160h0M274 121h0M280 109h0M266 126h0M315 171h0M307 164h0M306 174h0M273 127h0M233 165h0M259 111h0M308 179h0M337 131h0M301 154h0M258 115h0M231 147h0M262 154h0M273 116h0M228 160h0" stroke="#5b8fe9" stroke-width="10.0"/>
<path d="M243 149h0M244 121h0M227 137h0M337 206h0M254 115h0M300 133h0M331 174h0M271 147h0M329 148h0M339 136h0M303 169h0M326 164h0M309 137h0M292 110h0M341 203h0M255 169h0M332 218h0M293 164h0M302 149h0M278 116h0M319 174h0M336 127h0M283 157h0M270 109h0M278 128h0M311 152h0M255 158h0M287 122h0M243 168h0M329 127h0M232 132h0M232 152h0M255 137h0M347 190h0M254 149h0M339 170h0M330 206h0M266 147h0M265 111h0M283 131h0M242 127h0M314 176h0M324 131h0M292 136h0M330 163h0M321 188h0M225 133h0M242 115h0M312 131h0M317 149h0M314 114h0M301 176h0M333 195h0M342 179h0M287 133h0M268 138h0M305 142h0M237 175h0M302 127h0M294 119h0M339 146h0M260 170h0M284 117h0M245 133h0M271 105h0M348 150h0M240 160h0M220 143h0M285 139h0M229 127h0M254 125h0M323 143h0M226 173h0M329 179h0M222 127h0M340 191h0M284 127h0M310 116h0M235 171h0M344 155h0M322 201h0M274 131h0M314 143h0M332 133h0M325 208h0M316 136h0M287 143h0" stroke="#3d619e" stroke-width="11.6"/>
<path d="M243 149h0M244 121h0M227 137h0M337 206h0M254 115h0M300 133h0M331 174h0M271 147h0M329 148h0M339 136h0M303 169h0M326 164h0M309 137h0M292 110h0M341 203h0M255 169h0M332 218h0M293 164h0M302 149h0M278 116h0M319 174h0M336 127h0M283 157h0M270 109h0M278 128h0M311 152h0M255 158h0M287 122h0M243 168h0M329 127h0M232 132h0M232 152h0M255 137h0M347 190h0M254 149h0M339 170h0M330 206h0M266 147h0M265 111h0M283 131h0M242 127h0M314 176h0M324 131h0M292 136h0M330 163h0M321 188h0M225 133h0M242 115h0M312 131h0M317 149h0M314 114h0M301 176h0M333 195h0M342 179h0M287 133h0M268 138h0M305 142h0M237 175h0M302 127h0M294 119h0M339 146h0M260 170h0M284 117h0M245 133h0M271 105h0M348 150h0M240 160h0M220 143h0M285 139h0M229 127h0M254 125h0M323 143h0M226 173h0M329 179h0M222 127h0M340 191h0M284 127h0M310 116h0M235 171h0M344 155h0M322 201h0M274 131h0M314 143h0M332 133h0M325 208h0M316 136h0M287 143h0" stroke="#5b8fe9" stroke-width="10.0"/>
<path d="M223 209h0M112 132h0M219 204h0M171 118h0M145 214h0M225 194h0M147 133h0M193 157h0M131 178h0M177 213h0M161 145h0M184 205h0M234 188h0M132 202h0M129 193h0M135 146h0M205 145h0M93 122h0M187 149h0M194 160h0M129 155h0M118 145h0M155 221h0M153 226h0M218 210h0M192 133h0M211 188h0M226 172h0M204 133h0M107 111h0M107 130h0M148 199h0M166 135h0M134 160h0M197 146h0M145 181h0M109 108h0M99 143h0M207 150h0M173 155h0M216 187h0M135 122h0M185 167h0M110 117h0M144 124h0M170 151h0M215 198h0M191 200h0M163 139h0M145 149h0M176 204h0M196 170h0M228 200h0M171 182h0M219 165h0M145 160h0M192 208h0M104 118h0M100 154h0M122 162h0M117 154h0M103 134h0M178 124h0M117 167h0M159 214h0M200 164h0M128 161h0M211 222h0M184 216h0M160 127h0M113 122h0M139 215h0M185 124h0M142 166h0M124 176h0M165 191h0M148 154h0M168 208h0M190 193h0M220 162h0M194 140h0M181 208h0M97 128h0M139 172h0M181 229h0M187 132h0M116 114h0M124 186h0M204 165h0M199 176h0M205 188h0M132 181h0M200 154h0M121 127h0M184 198h0M159 189h0M101 148h0M136 134h0M134 129h0M134 173h0M191 219h0M105 165h0M175 188h0M174 208h0M171 159h0M96 116h0M107 161h0M186 189h0M212 178h0M155 146h0M170 130h0M136 209h0M165 213h0M148 166h0M109 139h0M184 130h0M180 145h0M144 132h0M193 143h0M100 122h0M193 188h0M144 127h0M178 166h0M200 160h0M94 114h0M191 230h0M151 203h0" stroke="#1b511e" stroke-width="13.2"/>
<path d="M223 209h0M112 132h0M219 204h0M171 118h0M145 214h0M225 194h0M147 133h0M193 157h0M131 178h0M177 213h0M161 145h0M184 205h0M234 188h0M132 202h0M129 193h0M135 146h0M205 145h0M93 122h0M187 149h0M194 160h0M129 155h0M118 145h0M155 221h0M153 226h0M218 210h0M192 133h0M211 188h0M226 172h0M204 133h0M107 111h0M107 130h0M148 199h0M166 135h0M134 160h0M197 146h0M145 181h0M109 108h0M99 143h0M207 150h0M173 155h0M216 187h0M135 122h0M185 167h0M110 117h0M144 124h0M170 151h0M215 198h0M191 200h0M163 139h0M145 149h0M176 204h0M196 170h0M228 200h0M171 182h0M219 165h0M145 160h0M192 208h0M104 118h0M100 154h0M122 162h0M117 154h0M103 134h0M178 124h0M117 167h0M159 214h0M200 164h0M128 161h0M211 222h0M184 216h0M160 127h0M113 122h0M139 215h0M185 124h0M142 166h0M124 176h0M165 191h0M148 154h0M168 208h0M190 193h0M220 162h0M194 140h0M181 208h0M97 128h0M139 172h0M181 229h0M187 132h0M116 114h0M124 186h0M204 165h0M199 176h0M205 188h0M132 181h0M200 154h0M121 127h0M184 198h0M159 189h0M101 148h0M136 134h0M134 129h0M134 173h0M191 219h0M105 165h0M175 188h0M174 208h0M171 159h0M96 116h0M107 161h0M186 189h0M212 178h0M155 146h0M170 130h0M136 209h0M165 213h0M148 166h0M109 139h0M184 130h0M180 145h0M144 132h0M193 143h0M100 122h0M193 188h0M144 127h0M178 166h0M200 160h0M94 114h0M191 230h0M151 203h0" stroke="#4be354" stroke-width="10.0"/>
<path d="M222 166h0M177 193h0M112 164h0M117 176h0M111 113h0M131 135h0M168 154h0M204 219h0M232 192h0M200 222h0M218 178h0M174 200h0M167 167h0M173 145h0M185 209h0M202 182h0M125 144h0M202 204h0M230 209h0M160 198h0M172 216h0M168 189h0M205 207h0M169 204h0M152 127h0M146 138h0M153 154h0M129 197h0M205 178h0M132 188h0M200 230h0M165 151h0M115 116h0M152 149h0M221 214h0M191 119h0M137 198h0M179 154h0M184 193h0M188 173h0M117 124h0M125 156h0M181 188h0M215 172h0M119 171h0M126 123h0M130 165h0M153 181h0M156 137h0M222 188h0M227 178h0M114 159h0M140 202h0M176 173h0M208 129h0M165 160h0M179 133h0M175 184h0M147 188h0M205 200h0M134 139h0M98 141h0M156 195h0M139 192h0M156 181h0M114 139h0M146 170h0M141 161h0M163 172h0M107 123h0M112 144h0M211 166h0M185 177h0M207 183h0M115 171h0M121 141h0M215 150h0M214 203h0M188 226h0M203 154h0M190 213h0M141 187h0M187 157h0M213 194h0M181 225h0M209 134h0M210 154h0M176 129h0M208 225h0M141 177h0M160 151h0M186 220h0M212 146h0M166 146h0M171 172h0M156 176h0M105 154h0M151 215h0M168 176h0M165 205h0M193 122h0M125 167h0M212 197h0M200 195h0M115 181h0M189 127h0M202 216h0M207 203h0M156 210h0M178 151h0M222 200h0M202 140h0M174 175h0M209 173h0M182 181h0M195 127h0M164 128h0M153 193h0M170 224h0M178 140h0M127 183h0M167 218h0M154 189h0M155 199h0M100 162h0M180 176h0" stroke="#339a39" stroke-width="11.6"/>
<path d="M222 166h0M177 193h0M112 164h0M117 176h0M111 113h0M131 135h0M168 154h0M204 219h0M232 192h0M200 222h0M218 178h0M174 200h0M167 167h0M173 145h0M185 209h0M202 182h0M125 144h0M202 204h0M230 209h0M160 198h0M172 216h0M168 189h0M205 207h0M169 204h0M152 127h0M146 138h0M153 154h0M129 197h0M205 178h0M132 188h0M200 230h0M165 151h0M115 116h0M152 149h0M221 214h0M191 119h0M137 198h0M179 154h0M184 193h0M188 173h0M117 124h0M125 156h0M181 188h0M215 172h0M119 171h0M126 123h0M130 165h0M153 181h0M156 137h0M222 188h0M227 178h0M114 159h0M140 202h0M176 173h0M208 129h0M165 160h0M179 133h0M175 184h0M147 188h0M205 200h0M134 139h0M98 141h0M156 195h0M139 192h0M156 181h0M114 139h0M146 170h0M141 161h0M163 172h0M107 123h0M112 144h0M211 166h0M185 177h0M207 183h0M115 171h0M121 141h0M215 150h0M214 203h0M188 226h0M203 154h0M190 213h0M141 187h0M187 157h0M213 194h0M181 225h0M209 134h0M210 154h0M176 129h0M208 225h0M141 177h0M160 151h0M186 220h0M212 146h0M166 146h0M171 172h0M156 176h0M105 154h0M151 215h0M168 176h0M165 205h0M193 122h0M125 167h0M212 197h0M200 195h0M115 181h0M189 127h0M202 216h0M207 203h0M156 210h0M178 151h0M222 200h0M202 140h0M174 175h0M209 173h0M182 181h0M195 127h0M164 128h0M153 193h0M170 224h0M178 140h0M127 183h0M167 218h0M154 189h0M155 199h0M100 162h0M180 176h0" stroke="#4be354" stroke-width="10.0"/>
<path d="M150 162h0M136 188h0M196 182h0M156 132h0M186 144h0M200 134h0M125 135h0M219 183h0M231 205h0M215 156h0M169 199h0M237 203h0M108 170h0M154 167h0M174 122h0M188 181h0M122 183h0M181 139h0M174 166h0M212 209h0M159 173h0M166 122h0M114 150h0M217 221h0M172 138h0M171 192h0M212 140h0M142 154h0M100 134h0M140 128h0M152 171h0M148 221h0M135 168h0M144 192h0M162 155h0M160 123h0M111 157h0M142 208h0M128 150h0M137 177h0M162 181h0M161 175h0M212 184h0M130 122h0M103 107h0M197 125h0M118 134h0M132 151h0M191 175h0M183 161h0M115 127h0M225 215h0M161 134h0M188 203h0M207 213h0M126 139h0M103 141h0M194 226h0M158 159h0M225 181h0M199 198h0M103 143h0M213 162h0M129 145h0M194 204h0M179 221h0M160 210h0M236 198h0M140 183h0M220 172h0M148 121h0M152 140h0M202 130h0M199 188h0M161 222h0M214 224h0M193 166h0M182 172h0M177 162h0M147 178h0M162 167h0M153 124h0M195 151h0M148 208h0M144 219h0M184 152h0M187 229h0M209 139h0M158 203h0M97 113h0M137 156h0M198 208h0M147 146h0M173 229h0M215 214h0M103 127h0M126 127h0M144 145h0M190 138h0M206 194h0M209 161h0M122 152h0M126 170h0M138 150h0M175 134h0M195 215h0M201 173h0M200 151h0M141 198h0M188 162h0M218 192h0M140 139h0M109 150h0M179 197h0M165 224h0M193 192h0M227 205h0M221 178h0M158 224h0M144 204h0M215 144h0M133 192h0M174 221h0M202 225h0M178 224h0M230 186h0" stroke="#339a39" stroke-width="11.6"/>
<path d="M150 162h0M136 188h0M196 182h0M156 132h0M186 144h0M200 134h0M125 135h0M219 183h0M231 205h0M215 156h0M169 199h0M237 203h0M108 170h0M154 167h0M174 122h0M188 181h0M122 183h0M181 139h0M174 166h0M212 209h0M159 173h0M166 122h0M114 150h0M217 221h0M172 138h0M171 192h0M212 140h0M142 154h0M100 134h0M140 128h0M152 171h0M148 221h0M135 168h0M144 192h0M162 155h0M160 123h0M111 157h0M142 208h0M128 150h0M137 177h0M162 181h0M161 175h0M212 184h0M130 122h0M103 107h0M197 125h0M118 134h0M132 151h0M191 175h0M183 161h0M115 127h0M225 215h0M161 134h0M188 203h0M207 213h0M126 139h0M103 141h0M194 226h0M158 159h0M225 181h0M199 198h0M103 143h0M213 162h0M129 145h0M194 204h0M179 221h0M160 210h0M236 198h0M140 183h0M220 172h0M148 121h0M152 140h0M202 130h0M199 188h0M161 222h0M214 224h0M193 166h0M182 172h0M177 162h0M147 178h0M162 167h0M153 124h0M195 151h0M148 208h0M144 219h0M184 152h0M187 229h0M209 139h0M158 203h0M97 113h0M137 156h0M198 208h0M147 146h0M173 229h0M215 214h0M103 127h0M126 127h0M144 145h0M190 138h0M206 194h0M209 161h0M122 152h0M126 170h0M138 150h0M175 134h0M195 215h0M201 173h0M200 151h0M141 198h0M188 162h0M218 192h0M140 139h0M109 150h0M179 197h0M165 224h0M193 192h0M227 205h0M221 178h0M158 224h0M144 204h0M215 144h0M133 192h0M174 221h0M202 225h0M178 224h0M230 186h0" stroke="#4be354" stroke-width="10.0"/>
<path d="M243 277h0M214 278h0M195 244h0M292 278h0M292 218h0M277 226h0M275 277h0M289 286h0M305 256h0M219 287h0M277 232h0M266 283h0M202 246h0M286 223h0M204 281h0M196 249h0M209 272h0M234 237h0M261 262h0M238 233h0M282 265h0M215 229h0M218 281h0M268 227h0M295 272h0M256 277h0M261 289h0M299 245h0M298 261h0M267 269h0M219 244h0M302 275h0M226 233h0M256 265h0M217 273h0M229 239h0M258 281h0M260 270h0M229 249h0M220 275h0M240 213h0M249 239h0M252 275h0M306 231h0M304 239h0M248 281h0M237 223h0M209 248h0M304 227h0M199 271h0M206 255h0M235 273h0M300 223h0M291 270h0M223 228h0M248 270h0M230 294h0M224 261h0M262 228h0M269 221h0M245 267h0M285 250h0M268 243h0M224 304h0M212 260h0M263 213h0M287 259h0M222 283h0M270 254h0M268 212h0M256 211h0M268 286h0M233 264h0M224 277h0M238 286h0M215 242h0M288 265h0M299 264h0M295 245h0M223 270h0M262 277h0M253 269h0M308 240h0M296 237h0M228 280h0" stroke="#203353" stroke-width="13.2"/>
<path d="M243 277h0M214 278h0M195 244h0M292 278h0M292 218h0M277 226h0M275 277h0M289 286h0M305 256h0M219 287h0M277 232h0M266 283h0M202 246h0M286 223h0M204 281h0M196 249h0M209 272h0M234 237h0M261 262h0M238 233h0M282 265h0M215 229h0M218 281h0M268 227h0M295 272h0M256 277h0M261 289h0M299 245h0M298 261h0M267 269h0M219 244h0M302 275h0M226 233h0M256 265h0M217 273h0M229 239h0M258 281h0M260 270h0M229 249h0M220 275h0M240 213h0M249 239h0M252 275h0M306 231h0M304 239h0M248 281h0M237 223h0M209 248h0M304 227h0M199 271h0M206 255h0M235 273h0M300 223h0M291 270h0M223 228h0M248 270h0M230 294h0M224 261h0M262 228h0M269 221h0M245 267h0M285 250h0M268 243h0M224 304h0M212 260h0M263 213h0M287 259h0M222 283h0M270 254h0M268 212h0M256 211h0M268 286h0M233 264h0M224 277h0M238 286h0M215 242h0M288 265h0M299 264h0M295 245h0M223 270h0M262 277h0M253 269h0M308 240h0M296 237h0M228 280h0" stroke="#5b8fe9" stroke-width="10.0"/>
<path d="M210 240h0M290 250h0M248 291h0M200 278h0M262 245h0M302 256h0M241 260h0M259 248h0M278 217h0M262 254h0M214 265h0M241 239h0M245 211h0M222 292h0M305 245h0M257 253h0M202 264h0M282 286h0M240 254h0M234 227h0M290 239h0M269 275h0M249 254h0M285 270h0M241 291h0M245 253h0M264 234h0M283 244h0M299 249h0M227 298h0M254 238h0M220 264h0M215 249h0M205 262h0M273 281h0M227 260h0M289 281h0M249 230h0M227 267h0M257 234h0M251 242h0M288 244h0M276 243h0M233 286h0M271 215h0M267 217h0M251 289h0M257 289h0M275 264h0M261 222h0M240 229h0M266 207h0M243 296h0M292 261h0M271 266h0M235 262h0M228 288h0M244 288h0M267 233h0M217 237h0M274 261h0M237 267h0M282 256h0M256 221h0M255 216h0M241 273h0M297 228h0M276 221h0M308 224h0M303 270h0M208 276h0M250 221h0M218 232h0M231 276h0M260 219h0M223 240h0M266 237h0M275 253h0M279 259h0M278 248h0M233 246h0M286 283h0M313 234h0M208 243h0M278 270h0" stroke="#3d619e" stroke-width="11.6"/>
<path d="M210 240h0M290 250h0M248 291h0M200 278h0M262 245h0M302 256h0M241 260h0M259 248h0M278 217h0M262 254h0M214 265h0M241 239h0M245 211h0M222 292h0M305 245h0M257 253h0M202 264h0M282 286h0M240 254h0M234 227h0M290 239h0M269 275h0M249 254h0M285 270h0M241 291h0M245 253h0M264 234h0M283 244h0M299 249h0M227 298h0M254 238h0M220 264h0M215 249h0M205 262h0M273 281h0M227 260h0M289 281h0M249 230h0M227 267h0M257 234h0M251 242h0M288 244h0M276 243h0M233 286h0M271 215h0M267 217h0M251 289h0M257 289h0M275 264h0M261 222h0M240 229h0M266 207h0M243 296h0M292 261h0M271 266h0M235 262h0M228 288h0M244 288h0M267 233h0M217 237h0M274 261h0M237 267h0M282 256h0M256 221h0M255 216h0M241 273h0M297 228h0M276 221h0M308 224h0M303 270h0M208 276h0M250 221h0M218 232h0M231 276h0M260 219h0M223 240h0M266 237h0M275 253h0M279 259h0M278 248h0M233 246h0M286 283h0M313 234h0M208 243h0M278 270h0" stroke="#5b8fe9" stroke-width="10.0"/>
<path d="M221 249h0M267 260h0M274 210h0M311 251h0M237 283h0M240 250h0M232 224h0M220 256h0M300 234h0M273 249h0M229 272h0M236 248h0M245 233h0M281 210h0M254 292h0M211 292h0M226 223h0M259 244h0M206 267h0M254 250h0M280 235h0M272 237h0M244 244h0M313 245h0M203 240h0M251 265h0M289 276h0M252 261h0M214 287h0M274 226h0M249 250h0M288 255h0M311 227h0M218 299h0M299 216h0M229 228h0M284 238h0M303 262h0M284 227h0M265 249h0M286 212h0M294 232h0M214 253h0M246 217h0M226 254h0M215 294h0M260 238h0M213 234h0M244 223h0M209 287h0M286 234h0M277 281h0M274 270h0M285 217h0M215 259h0M234 216h0M249 261h0M283 223h0M240 281h0M290 226h0M295 255h0M230 255h0M205 271h0M204 249h0M240 275h0M232 299h0M294 264h0M235 292h0M209 281h0M277 240h0M238 245h0M295 224h0M251 212h0M238 298h0M227 246h0M274 286h0M281 278h0M251 232h0M253 281h0M253 227h0M261 267h0M240 218h0M233 234h0M315 240h0M303 251h0" stroke="#3d619e" stroke-width="11.6"/>
<path d="M221 249h0M267 260h0M274 210h0M311 251h0M237 283h0M240 250h0M232 224h0M220 256h0M300 234h0M273 249h0M229 272h0M236 248h0M245 233h0M281 210h0M254 292h0M211 292h0M226 223h0M259 244h0M206 267h0M254 250h0M280 235h0M272 237h0M244 244h0M313 245h0M203 240h0M251 265h0M289 276h0M252 261h0M214 287h0M274 226h0M249 250h0M288 255h0M311 227h0M218 299h0M299 216h0M229 228h0M284 238h0M303 262h0M284 227h0M265 249h0M286 212h0M294 232h0M214 253h0M246 217h0M226 254h0M215 294h0M260 238h0M213 234h0M244 223h0M209 287h0M286 234h0M277 281h0M274 270h0M285 217h0M215 259h0M234 216h0M249 261h0M283 223h0M240 281h0M290 226h0M295 255h0M230 255h0M205 271h0M204 249h0M240 275h0M232 299h0M294 264h0M235 292h0M209 281h0M277 240h0M238 245h0M295 224h0M251 212h0M238 298h0M227 246h0M274 286h0M281 278h0M251 232h0M253 281h0M253 227h0M261 267h0M240 218h0M233 234h0M315 240h0M303 251h0" stroke="#5b8fe9" stroke-width="10.0"/>
<path d="M282 197h0M319 197h0M337 187h0M310 207h0M342 144h0M292 185h0M268 185h0M296 192h0M310 182h0M308 172h0M358 158h0M311 154h0M290 191h0M289 182h0M286 208h0M329 201h0M313 212h0M262 197h0M285 154h0M285 177h0M239 188h0M300 166h0M243 185h0M332 153h0M286 196h0M253 182h0M329 197h0M272 180h0M313 160h0M335 174h0M346 148h0M342 154h0M299 177h0M252 190h0M256 196h0M331 186h0M263 174h0M269 197h0M279 182h0M262 187h0M256 175h0M307 177h0M297 213h0M338 156h0M322 201h0M248 191h0M353 150h0M283 202h0M275 174h0M250 195h0M323 176h0M333 161h0M338 181h0M310 197h0M293 208h0M274 165h0M339 147h0M310 193h0M247 181h0M326 197h0" stroke="#534926" stroke-width="13.2"/>
<path d="M282 197h0M319 197h0M337 187h0M310 207h0M342 144h0M292 185h0M268 185h0M296 192h0M310 182h0M308 172h0M358 158h0M311 154h0M290 191h0M289 182h0M286 208h0M329 201h0M313 212h0M262 197h0M285 154h0M285 177h0M239 188h0M300 166h0M243 185h0M332 153h0M286 196h0M253 182h0M329 197h0M272 180h0M313 160h0M335 174h0M346 148h0M342 154h0M299 177h0M252 190h0M256 196h0M331 186h0M263 174h0M269 197h0M279 182h0M262 187h0M256 175h0M307 177h0M297 213h0M338 156h0M322 201h0M248 191h0M353 150h0M283 202h0M275 174h0M250 195h0M323 176h0M333 161h0M338 181h0M310 197h0M293 208h0M274 165h0M339 147h0M310 193h0M247 181h0M326 197h0" stroke="#e9cd6b" stroke-width="10.0"/>
<path d="M284 192h0M297 181h0M309 161h0M329 175h0M290 203h0M355 142h0M269 175h0M324 154h0M322 213h0M359 143h0M335 170h0M240 201h0M327 147h0M358 149h0M311 164h0M303 204h0M307 209h0M304 158h0M296 170h0M338 170h0M348 144h0M347 139h0M302 193h0M260 170h0M280 165h0M362 153h0M343 177h0M240 191h0M283 181h0M260 202h0M285 164h0M347 154h0M338 165h0M277 192h0M291 169h0M261 181h0M327 193h0M281 208h0M248 202h0M338 143h0M257 186h0M304 155h0M298 152h0M329 213h0M333 149h0M293 163h0M266 204h0M318 186h0M338 137h0M307 203h0M289 160h0M326 158h0M272 171h0M343 133h0M302 211h0M280 188h0M307 166h0M331 144h0M334 190h0M313 191h0" stroke="#9e8b48" stroke-width="11.6"/>
<path d="M284 192h0M297 181h0M309 161h0M329 175h0M290 203h0M355 142h0M269 175h0M324 154h0M322 213h0M359 143h0M335 170h0M240 201h0M327 147h0M358 149h0M311 164h0M303 204h0M307 209h0M304 158h0M296 170h0M338 170h0M348 144h0M347 139h0M302 193h0M260 170h0M280 165h0M362 153h0M343 177h0M240 191h0M283 181h0M260 202h0M285 164h0M347 154h0M338 165h0M277 192h0M291 169h0M261 181h0M327 193h0M281 208h0M248 202h0M338 143h0M257 186h0M304 155h0M298 152h0M329 213h0M333 149h0M293 163h0M266 204h0M318 186h0M338 137h0M307 203h0M289 160h0M326 158h0M272 171h0M343 133h0M302 211h0M280 188h0M307 166h0M331 144h0M334 190h0M313 191h0" stroke="#e9cd6b" stroke-width="10.0"/>
<path d="M321 159h0M321 179h0M285 160h0M279 160h0M272 202h0M314 179h0M282 174h0M321 171h0M258 191h0M321 150h0M311 186h0M242 197h0M325 185h0M347 164h0M298 196h0M342 164h0M279 203h0M316 177h0M313 202h0M273 187h0M308 212h0M294 176h0M288 186h0M270 191h0M306 198h0M250 187h0M265 190h0M295 198h0M353 160h0M279 168h0M297 202h0M253 202h0M346 159h0M283 170h0M313 171h0M325 165h0M316 152h0M324 210h0M340 158h0M313 177h0M327 181h0M304 186h0M266 172h0M356 155h0M318 209h0M330 207h0M321 193h0M264 183h0M346 170h0M297 160h0M292 154h0M335 182h0M299 187h0M298 207h0M328 171h0M316 163h0M275 196h0M301 182h0M328 165h0M303 171h0" stroke="#9e8b48" stroke-width="11.6"/>
<path d="M321 159h0M321 179h0M285 160h0M279 160h0M272 202h0M314 179h0M282 174h0M321 171h0M258 191h0M321 150h0M311 186h0M242 197h0M325 185h0M347 164h0M298 196h0M342 164h0M279 203h0M316 177h0M313 202h0M273 187h0M308 212h0M294 176h0M288 186h0M270 191h0M306 198h0M250 187h0M265 190h0M295 198h0M353 160h0M279 168h0M297 202h0M253 202h0M346 159h0M283 170h0M313 171h0M325 165h0M316 152h0M324 210h0M340 158h0M313 177h0M327 181h0M304 186h0M266 172h0M356 155h0M318 209h0M330 207h0M321 193h0M264 183h0M346 170h0M297 160h0M292 154h0M335 182h0M299 187h0M298 207h0M328 171h0M316 163h0M275 196h0M301 182h0M328 165h0M303 171h0" stroke="#e9cd6b" stroke-width="10.0"/>
<path d="M304 279h0M289 305h0M324 258h0M329 223h0M334 265h0M317 322h0M292 298h0M303 316h0M325 247h0M306 309h0M316 299h0M293 294h0M306 320h0M320 219h0M301 295h0M313 317h0M319 284h0M302 305h0M329 235h0M319 250h0M303 300h0M325 273h0M321 228h0M308 314h0M328 276h0M312 298h0M332 220h0M332 260h0M322 278h0M338 252h0M326 218h0M326 305h0M330 266h0M298 277h0M333 240h0M322 321h0M315 293h0M312 305h0M313 241h0" stroke="#534926" stroke-width="13.2"/>
<path d="M304 279h0M289 305h0M324 258h0M329 223h0M334 265h0M317 322h0M292 298h0M303 316h0M325 247h0M306 309h0M316 299h0M293 294h0M306 320h0M320 219h0M301 295h0M313 317h0M319 284h0M302 305h0M329 235h0M319 250h0M303 300h0M325 273h0M321 228h0M308 314h0M328 276h0M312 298h0M332 220h0M332 260h0M322 278h0M338 252h0M326 218h0M326 305h0M330 266h0M298 277h0M333 240h0M322 321h0M315 293h0M312 305h0M313 241h0" stroke="#e9cd6b" stroke-width="10.0"/>
<path d="M329 214h0M323 234h0M318 269h0M320 315h0M307 263h0M338 240h0M316 235h0M294 309h0M310 310h0M340 246h0M313 327h0M320 273h0M313 261h0M328 314h0M312 288h0M301 284h0M312 245h0M319 288h0M313 251h0M322 298h0M329 258h0M311 255h0M340 260h0M333 274h0M314 272h0M334 228h0M331 289h0M334 255h0M307 295h0M336 225h0M298 323h0M326 295h0M308 284h0M324 289h0M331 295h0M318 223h0M341 257h0M320 263h0M306 269h0" stroke="#9e8b48" stroke-width="11.6"/>
<path d="M329 214h0M323 234h0M318 269h0M320 315h0M307 263h0M338 240h0M316 235h0M294 309h0M310 310h0M340 246h0M313 327h0M320 273h0M313 261h0M328 314h0M312 288h0M301 284h0M312 245h0M319 288h0M313 251h0M322 298h0M329 258h0M311 255h0M340 260h0M333 274h0M314 272h0M334 228h0M331 289h0M334 255h0M307 295h0M336 225h0M298 323h0M326 295h0M308 284h0M324 289h0M331 295h0M318 223h0M341 257h0M320 263h0M306 269h0" stroke="#e9cd6b" stroke-width="10.0"/>
<path d="M329 244h0M310 266h0M298 301h0M300 310h0M316 311h0M307 327h0M321 293h0M313 219h0M312 276h0M320 306h0M312 321h0M294 315h0M324 226h0M327 241h0M314 282h0M322 309h0M315 228h0M295 284h0M327 250h0M336 235h0M307 273h0M316 246h0M305 289h0M334 251h0M325 231h0M318 256h0M327 283h0M293 320h0M296 306h0M319 279h0M325 260h0M328 300h0M298 290h0M325 266h0M321 239h0M335 247h0M303 273h0M308 305h0" stroke="#9e8b48" stroke-width="11.6"/>
<path d="M329 244h0M310 266h0M298 301h0M300 310h0M316 311h0M307 327h0M321 293h0M313 219h0M312 276h0M320 306h0M312 321h0M294 315h0M324 226h0M327 241h0M314 282h0M322 309h0M315 228h0M295 284h0M327 250h0M336 235h0M307 273h0M316 246h0M305 289h0M334 251h0M325 231h0M318 256h0M327 283h0M293 320h0M296 306h0M319 279h0M325 260h0M328 300h0M298 290h0M325 266h0M321 239h0M335 247h0M303 273h0M308 305h0" stroke="#e9cd6b" stroke-width="10.0"/>
<path d="M244 317h0M320 338h0M252 361h0M319 352h0M259 327h0M256 360h0M263 361h0M313 350h0M335 347h0M331 363h0M296 351h0M326 362h0M257 351h0M291 333h0M263 341h0M245 309h0M303 340h0M328 335h0M255 356h0M335 333h0M282 327h0M333 349h0M240 307h0M321 335h0M269 360h0M278 334h0M326 338h0M273 334h0M243 355h0M289 350h0M267 322h0M274 356h0M277 340h0M324 365h0M327 349h0M249 333h0M237 351h0M258 340h0M308 340h0M334 330h0M233 329h0M331 340h0M317 345h0M247 323h0M237 312h0" stroke="#534926" stroke-width="13.2"/>
<path d="M244 317h0M320 338h0M252 361h0M319 352h0M259 327h0M256 360h0M263 361h0M313 350h0M335 347h0M331 363h0M296 351h0M326 362h0M257 351h0M291 333h0M263 341h0M245 309h0M303 340h0M328 335h0M255 356h0M335 333h0M282 327h0M333 349h0M240 307h0M321 335h0M269 360h0M278 334h0M326 338h0M273 334h0M243 355h0M289 350h0M267 322h0M274 356h0M277 340h0M324 365h0M327 349h0M249 333h0M237 351h0M258 340h0M308 340h0M334 330h0M233 329h0M331 340h0M317 345h0M247 323h0M237 312h0" stroke="#e9cd6b" stroke-width="10.0"/>
<path d="M259 356h0M292 344h0M265 350h0M244 303h0M263 327h0M324 344h0M267 333h0M258 318h0M346 346h0M327 327h0M319 330h0M314 339h0M284 341h0M236 345h0M242 323h0M234 340h0M246 328h0M262 333h0M249 343h0M236 325h0M311 333h0M352 338h0M346 335h0M278 349h0M252 338h0M260 322h0M245 360h0M270 340h0M330 356h0M295 341h0M288 339h0M309 344h0M255 322h0M240 318h0M283 351h0M237 333h0M256 335h0M320 360h0M237 301h0M337 351h0M269 330h0M243 344h0M248 356h0M331 345h0M344 340h0" stroke="#9e8b48" stroke-width="11.6"/>
<path d="M259 356h0M292 344h0M265 350h0M244 303h0M263 327h0M324 344h0M267 333h0M258 318h0M346 346h0M327 327h0M319 330h0M314 339h0M284 341h0M236 345h0M242 323h0M234 340h0M246 328h0M262 333h0M249 343h0M236 325h0M311 333h0M352 338h0M346 335h0M278 349h0M252 338h0M260 322h0M245 360h0M270 340h0M330 356h0M295 341h0M288 339h0M309 344h0M255 322h0M240 318h0M283 351h0M237 333h0M256 335h0M320 360h0M237 301h0M337 351h0M269 330h0M243 344h0M248 356h0M331 345h0M344 340h0" stroke="#e9cd6b" stroke-width="10.0"/>
<path d="M244 340h0M299 345h0M285 346h0M318 334h0M239 327h0M338 339h0M324 356h0M336 357h0M306 329h0M305 344h0M277 329h0M315 330h0M266 343h0M232 307h0M250 349h0M343 336h0M272 349h0M309 348h0M296 327h0M299 333h0M304 335h0M301 350h0M242 334h0M234 318h0M343 343h0M250 313h0M261 346h0M261 365h0M251 318h0M280 345h0M324 370h0M252 327h0M231 302h0M246 349h0M287 329h0M238 339h0M266 354h0M274 346h0M279 354h0M328 365h0M254 343h0M300 328h0M285 335h0M244 314h0M315 356h0" stroke="#9e8b48" stroke-width="11.6"/>
<path d="M244 340h0M299 345h0M285 346h0M318 334h0M239 327h0M338 339h0M324 356h0M336 357h0M306 329h0M305 344h0M277 329h0M315 330h0M266 343h0M232 307h0M250 349h0M343 336h0M272 349h0M309 348h0M296 327h0M299 333h0M304 335h0M301 350h0M242 334h0M234 318h0M343 343h0M250 313h0M261 346h0M261 365h0M251 318h0M280 345h0M324 370h0M252 327h0M231 302h0M246 349h0M287 329h0M238 339h0M266 354h0M274 346h0M279 354h0M328 365h0M254 343h0M300 328h0M285 335h0M244 314h0M315 356h0" stroke="#e9cd6b" stroke-width="10.0"/>
<path d="M214 337h0M206 352h0M164 322h0M206 363h0M200 343h0M195 344h0M180 353h0M172 357h0M235 353h0M164 304h0M201 381h0M171 315h0M194 385h0M199 352h0M201 332h0M210 354h0M185 337h0M208 316h0M173 347h0M198 309h0M233 347h0M208 370h0M207 306h0M166 316h0M170 332h0M201 347h0M182 363h0M180 298h0M220 346h0M220 314h0M214 347h0M188 354h0M175 363h0M169 300h0M161 328h0M199 364h0M184 346h0M193 322h0M196 369h0M169 341h0M228 336h0M188 347h0M211 312h0M181 331h0M164 344h0M187 321h0M191 379h0M228 327h0M189 375h0M229 354h0M162 309h0M172 338h0M180 319h0" stroke="#512953" stroke-width="13.2"/>
<path d="M214 337h0M206 352h0M164 322h0M206 363h0M200 343h0M195 344h0M180 353h0M172 357h0M235 353h0M164 304h0M201 381h0M171 315h0M194 385h0M199 352h0M201 332h0M210 354h0M185 337h0M208 316h0M173 347h0M198 309h0M233 347h0M208 370h0M207 306h0M166 316h0M170 332h0M201 347h0M182 363h0M180 298h0M220 346h0M220 314h0M214 347h0M188 354h0M175 363h0M169 300h0M161 328h0M199 364h0M184 346h0M193 322h0M196 369h0M169 341h0M228 336h0M188 347h0M211 312h0M181 331h0M164 344h0M187 321h0M191 379h0M228 327h0M189 375h0M229 354h0M162 309h0M172 338h0M180 319h0" stroke="#e274e9" stroke-width="10.0"/>
<path d="M214 328h0M170 304h0M185 300h0M176 298h0M223 335h0M159 315h0M185 327h0M189 336h0M203 314h0M170 322h0M229 343h0M212 321h0M210 379h0M217 311h0M189 357h0M192 374h0M166 336h0M167 326h0M219 355h0M204 384h0M174 341h0M195 349h0M222 357h0M170 310h0M173 333h0M192 354h0M159 338h0M162 332h0M202 335h0M184 315h0M208 327h0M184 360h0M218 342h0M218 322h0M182 343h0M181 311h0M204 375h0M199 374h0M166 346h0M234 337h0M200 301h0M154 316h0M204 358h0M225 331h0M219 363h0M196 325h0M203 327h0M216 316h0M226 348h0M223 322h0M188 330h0M197 305h0M223 328h0" stroke="#994e9e" stroke-width="11.6"/>
<path d="M214 328h0M170 304h0M185 300h0M176 298h0M223 335h0M159 315h0M185 327h0M189 336h0M203 314h0M170 322h0M229 343h0M212 321h0M210 379h0M217 311h0M189 357h0M192 374h0M166 336h0M167 326h0M219 355h0M204 384h0M174 341h0M195 349h0M222 357h0M170 310h0M173 333h0M192 354h0M159 338h0M162 332h0M202 335h0M184 315h0M208 327h0M184 360h0M218 342h0M218 322h0M182 343h0M181 311h0M204 375h0M199 374h0M166 346h0M234 337h0M200 301h0M154 316h0M204 358h0M225 331h0M219 363h0M196 325h0M203 327h0M216 316h0M226 348h0M223 322h0M188 330h0M197 305h0M223 328h0" stroke="#e274e9" stroke-width="10.0"/>
<path d="M200 319h0M157 333h0M211 374h0M190 368h0M208 349h0M177 327h0M210 336h0M206 341h0M189 327h0M187 341h0M207 360h0M176 358h0M213 368h0M210 342h0M192 298h0M193 366h0M175 320h0M178 316h0M184 303h0M177 337h0M174 355h0M213 360h0M197 314h0M202 306h0M195 360h0M176 312h0M213 365h0M170 327h0M179 346h0M207 323h0M202 369h0M197 338h0M206 332h0M176 305h0M185 371h0M232 333h0M193 309h0M218 333h0M194 330h0M224 343h0M195 380h0M189 305h0M156 322h0M226 358h0M225 363h0M200 387h0M206 312h0M225 352h0M189 314h0M188 362h0M213 333h0M188 309h0" stroke="#994e9e" stroke-width="11.6"/>
<path d="M200 319h0M157 333h0M211 374h0M190 368h0M208 349h0M177 327h0M210 336h0M206 341h0M189 327h0M187 341h0M207 360h0M176 358h0M213 368h0M210 342h0M192 298h0M193 366h0M175 320h0M178 316h0M184 303h0M177 337h0M174 355h0M213 360h0M197 314h0M202 306h0M195 360h0M176 312h0M213 365h0M170 327h0M179 346h0M207 323h0M202 369h0M197 338h0M206 332h0M176 305h0M185 371h0M232 333h0M193 309h0M218 333h0M194 330h0M224 343h0M195 380h0M189 305h0M156 322h0M226 358h0M225 363h0M200 387h0M206 312h0M225 352h0M189 314h0M188 362h0M213 333h0M188 309h0" stroke="#e274e9" stroke-width="10.0"/>
</g>
<ellipse cx="611.9" cy="275.9" rx="6.5" ry="3.6" fill="#2ea889" opacity="0.5" transform="rotate(-35 611.9 275.9)"/>
</g>
<g id="peptides">
<g fill="none" stroke-linecap="round">
<path d="M864.1,222.4 C866.9,226.6 869.7,227.2 873.9,224.4 C878.2,221.5 881.0,222.1 883.8,226.3" stroke="#d4337f" stroke-width="1.90"/>
<path d="M905.8,221.7 C902.4,227.7 903.3,231.7 908.8,235.8 C914.4,239.9 915.2,243.8 911.8,249.9" stroke="#1f7590" stroke-width="2.40"/>
<path d="M863.7,251.3 C864.9,244.3 867.9,242.3 874.7,244.2 C881.5,246.1 884.6,244.1 885.7,237.2" stroke="#8e479d" stroke-width="2.10"/>
<path d="M894.3,232.3 C890.1,236.8 890.2,240.2 894.5,244.5 C898.8,248.9 898.8,252.3 894.7,256.8" stroke="#1f3f8e" stroke-width="2.50"/>
<path d="M857.5,246.4 C862.0,250.8 862.0,254.2 857.4,258.5 C852.7,262.7 852.7,266.1 857.2,270.5" stroke="#d4337f" stroke-width="2.50"/>
<path d="M899.3,249.5 C898.6,255.7 900.7,258.4 906.8,259.4 C912.9,260.4 914.9,263.2 914.3,269.3" stroke="#1f3f8e" stroke-width="2.50"/>
<path d="M879.9,253.8 C874.4,257.8 873.6,261.6 877.1,267.3 C880.6,273.1 879.8,276.9 874.4,280.8" stroke="#1f7590" stroke-width="2.50"/>
<path d="M928.0,222.4 C930.9,226.6 933.6,227.2 937.9,224.4 C942.1,221.5 944.9,222.1 947.8,226.3" stroke="#d4337f" stroke-width="1.90"/>
<path d="M969.8,221.7 C966.4,227.7 967.2,231.7 972.8,235.8 C978.3,239.9 979.2,243.8 975.8,249.9" stroke="#1f7590" stroke-width="2.40"/>
<path d="M927.7,251.3 C928.8,244.3 931.9,242.3 938.7,244.2 C945.4,246.1 948.5,244.1 949.7,237.2" stroke="#8e479d" stroke-width="2.10"/>
<path d="M958.3,232.3 C954.1,236.8 954.1,240.2 958.4,244.5 C962.7,248.9 962.8,252.3 958.6,256.8" stroke="#1f3f8e" stroke-width="2.50"/>
<path d="M921.5,246.4 C926.0,250.8 925.9,254.2 921.3,258.5 C916.7,262.7 916.6,266.1 921.1,270.5" stroke="#d4337f" stroke-width="2.50"/>
<path d="M963.2,249.5 C962.5,255.7 964.6,258.4 970.7,259.4 C976.8,260.4 978.9,263.2 978.2,269.3" stroke="#1f3f8e" stroke-width="2.50"/>
<path d="M943.8,253.8 C938.3,257.8 937.6,261.6 941.1,267.3 C944.6,273.1 943.8,276.9 938.3,280.8" stroke="#1f7590" stroke-width="2.50"/>
<path d="M993.3,222.4 C996.2,226.6 998.9,227.2 1003.2,224.4 C1007.5,221.5 1010.2,222.1 1013.1,226.3" stroke="#d4337f" stroke-width="1.90"/>
<path d="M1035.1,221.7 C1031.7,227.7 1032.5,231.7 1038.1,235.8 C1043.6,239.9 1044.5,243.8 1041.1,249.9" stroke="#1f7590" stroke-width="2.40"/>
<path d="M993.0,251.3 C994.1,244.3 997.2,242.3 1004.0,244.2 C1010.8,246.1 1013.8,244.1 1015.0,237.2" stroke="#8e479d" stroke-width="2.10"/>
<path d="M1023.6,232.3 C1019.4,236.8 1019.4,240.2 1023.7,244.5 C1028.0,248.9 1028.1,252.3 1023.9,256.8" stroke="#1f3f8e" stroke-width="2.50"/>
<path d="M986.8,246.4 C991.3,250.8 991.2,254.2 986.6,258.5 C982.0,262.7 981.9,266.1 986.4,270.5" stroke="#d4337f" stroke-width="2.50"/>
<path d="M1028.6,249.5 C1027.9,255.7 1030.0,258.4 1036.0,259.4 C1042.1,260.4 1044.2,263.2 1043.5,269.3" stroke="#1f3f8e" stroke-width="2.50"/>
<path d="M1009.1,253.8 C1003.7,257.8 1002.9,261.6 1006.4,267.3 C1009.9,273.1 1009.1,276.9 1003.6,280.8" stroke="#1f7590" stroke-width="2.50"/>
<path d="M863.2,353.0 C866.1,357.2 868.8,357.8 873.1,355.0 C877.3,352.2 880.1,352.7 883.0,357.0" stroke="#d4337f" stroke-width="1.90"/>
<path d="M905.0,352.3 C901.6,358.3 902.4,362.3 908.0,366.4 C913.5,370.5 914.4,374.5 911.0,380.5" stroke="#1f7590" stroke-width="2.40"/>
<path d="M862.9,381.9 C864.0,374.9 867.1,373.0 873.9,374.8 C880.6,376.7 883.7,374.7 884.9,367.8" stroke="#8e479d" stroke-width="2.10"/>
<path d="M893.5,363.0 C889.3,367.4 889.3,370.8 893.6,375.2 C897.9,379.5 898.0,382.9 893.8,387.4" stroke="#1f3f8e" stroke-width="2.50"/>
<path d="M856.7,377.1 C861.2,381.5 861.1,384.8 856.5,389.1 C851.9,393.4 851.8,396.7 856.3,401.1" stroke="#d4337f" stroke-width="2.50"/>
<path d="M898.4,380.2 C897.7,386.3 899.8,389.0 905.9,390.0 C912.0,391.0 914.1,393.8 913.4,399.9" stroke="#1f3f8e" stroke-width="2.50"/>
<path d="M879.0,384.5 C873.5,388.4 872.8,392.2 876.3,398.0 C879.8,403.7 879.0,407.5 873.5,411.4" stroke="#1f7590" stroke-width="2.50"/>
<path d="M993.3,353.0 C996.2,357.2 998.9,357.8 1003.2,355.0 C1007.5,352.2 1010.2,352.7 1013.1,357.0" stroke="#d4337f" stroke-width="1.90"/>
<path d="M1035.1,352.3 C1031.7,358.3 1032.5,362.3 1038.1,366.4 C1043.6,370.5 1044.5,374.5 1041.1,380.5" stroke="#1f7590" stroke-width="2.40"/>
<path d="M993.0,381.9 C994.1,374.9 997.2,373.0 1004.0,374.8 C1010.8,376.7 1013.8,374.7 1015.0,367.8" stroke="#8e479d" stroke-width="2.10"/>
<path d="M1023.6,363.0 C1019.4,367.4 1019.4,370.8 1023.7,375.2 C1028.0,379.5 1028.1,382.9 1023.9,387.4" stroke="#1f3f8e" stroke-width="2.50"/>
<path d="M986.8,377.1 C991.3,381.5 991.2,384.8 986.6,389.1 C982.0,393.4 981.9,396.7 986.4,401.1" stroke="#d4337f" stroke-width="2.50"/>
<path d="M1028.6,380.2 C1027.9,386.3 1030.0,389.0 1036.0,390.0 C1042.1,391.0 1044.2,393.8 1043.5,399.9" stroke="#1f3f8e" stroke-width="2.50"/>
<path d="M1009.1,384.5 C1003.7,388.4 1002.9,392.2 1006.4,398.0 C1009.9,403.7 1009.1,407.5 1003.6,411.4" stroke="#1f7590" stroke-width="2.50"/>
<path d="M854.6,293.4 C858.2,287.3 862.1,286.2 868.4,289.5 C874.6,292.8 878.5,291.7 882.1,285.6" stroke="#1f7590" stroke-width="2.60"/>
<path d="M881.3,298.5 C882.0,292.0 884.8,290.1 891.1,291.6 C897.5,293.2 900.3,291.3 901.0,284.8" stroke="#1f3f8e" stroke-width="2.60"/>
<path d="M864.9,305.4 C869.2,300.3 872.7,300.2 877.4,305.0 C882.0,309.7 885.5,309.6 889.8,304.5" stroke="#1f3f8e" stroke-width="2.60"/>
<path d="M887.8,280.5 C890.7,275.8 893.4,275.4 897.4,279.2 C901.4,282.9 904.1,282.6 907.0,277.9" stroke="#8e479d" stroke-width="1.90"/>
<path d="M856.3,317.4 C860.7,321.5 860.6,324.5 855.9,328.2 C851.2,331.9 851.1,334.9 855.5,338.9" stroke="#d4337f" stroke-width="2.50"/>
<path d="M870.1,315.7 C875.9,317.9 877.9,321.1 877.0,327.3 C876.1,333.5 878.0,336.7 883.8,338.9" stroke="#8e479d" stroke-width="2.50"/>
<path d="M885.0,321.7 C888.8,327.4 892.6,328.4 898.6,325.2 C904.6,322.0 908.4,322.9 912.2,328.6" stroke="#1f7590" stroke-width="2.60"/>
<path d="M878.7,345.8 C883.2,341.4 886.5,341.5 890.7,346.2 C894.9,350.9 898.2,351.1 902.7,346.6" stroke="#d4337f" stroke-width="2.80"/>
<path d="M907.9,291.6 C905.0,296.7 905.7,299.9 910.5,303.2 C915.2,306.6 915.9,309.8 913.0,314.8" stroke="#8e479d" stroke-width="2.00"/>
<path d="M993.0,283.9 C995.8,288.2 998.5,288.8 1002.9,286.1 C1007.2,283.3 1009.9,283.9 1012.7,288.2" stroke="#d4337f" stroke-width="2.10"/>
<path d="M1017.0,282.2 C1020.1,277.7 1023.0,277.2 1027.3,280.5 C1031.7,283.7 1034.6,283.2 1037.7,278.8" stroke="#8e479d" stroke-width="1.90"/>
<path d="M1035.9,278.8 C1032.2,285.5 1032.8,290.3 1038.1,295.9 C1043.4,301.6 1044.0,306.4 1040.2,313.1" stroke="#1f7590" stroke-width="2.40"/>
<path d="M993.0,314.0 C994.0,307.1 997.0,305.2 1003.7,307.1 C1010.4,309.0 1013.4,307.1 1014.5,300.2" stroke="#8e479d" stroke-width="2.10"/>
<path d="M1022.5,295.1 C1018.4,299.7 1018.5,303.1 1022.8,307.5 C1027.1,311.9 1027.2,315.4 1023.1,320.0" stroke="#1f3f8e" stroke-width="2.50"/>
<path d="M1028.2,312.3 C1027.4,318.4 1029.4,321.2 1035.5,322.3 C1041.6,323.4 1043.6,326.3 1042.8,332.4" stroke="#1f3f8e" stroke-width="2.50"/>
<path d="M1008.4,316.6 C1003.0,320.9 1002.3,324.8 1005.9,330.7 C1009.4,336.7 1008.7,340.6 1003.3,344.9" stroke="#1f7590" stroke-width="2.50"/>
<path d="M985.2,311.4 C981.5,315.9 981.8,319.0 986.5,322.6 C991.2,326.1 991.6,329.2 987.8,333.8" stroke="#d4337f" stroke-width="2.50"/>
<path d="M1017.0,344.1 C1020.4,340.0 1023.2,339.9 1026.9,343.6 C1030.6,347.4 1033.4,347.3 1036.8,343.2" stroke="#8e479d" stroke-width="1.90"/>
<path d="M922.2,356.1 C925.2,351.9 927.8,351.8 931.4,355.4 C935.0,359.1 937.5,358.9 940.6,354.7" stroke="#8e479d" stroke-width="1.90"/>
<path d="M952.9,354.0 C947.5,358.0 946.8,361.7 950.4,367.3 C954.0,372.9 953.3,376.6 947.9,380.5" stroke="#1f7590" stroke-width="2.40"/>
<path d="M966.3,363.0 C963.0,368.0 963.7,371.2 968.7,374.6 C973.7,377.9 974.3,381.2 971.0,386.2" stroke="#d4337f" stroke-width="2.50"/>
<path d="M915.6,364.7 C914.6,370.7 916.5,373.4 922.5,374.6 C928.5,375.7 930.4,378.5 929.4,384.5" stroke="#1f3f8e" stroke-width="2.50"/>
<path d="M934.2,376.4 C929.9,380.5 929.9,383.8 934.2,387.9 C938.4,392.0 938.4,395.3 934.2,399.4" stroke="#1f3f8e" stroke-width="2.50"/>
<path d="M917.7,383.3 C914.1,388.8 914.7,392.5 920.1,396.5 C925.5,400.4 926.1,404.1 922.5,409.7" stroke="#1f7590" stroke-width="2.40"/>
<path d="M942.8,394.8 C943.4,388.1 946.1,386.2 952.6,388.2 C959.0,390.1 961.8,388.2 962.4,381.5" stroke="#8e479d" stroke-width="2.10"/>
<path d="M944.8,405.9 C947.3,410.1 949.8,410.6 953.6,407.7 C957.5,404.8 959.9,405.2 962.4,409.4" stroke="#d4337f" stroke-width="2.10"/>
<path d="M886.1,409.4 C889.2,405.2 892.0,404.9 895.9,408.5 C899.7,412.1 902.5,411.9 905.7,407.7" stroke="#8e479d" stroke-width="1.90"/>
<path d="M1017.0,410.2 C1020.3,406.0 1023.0,405.8 1026.9,409.4 C1030.8,413.0 1033.6,412.7 1036.8,408.5" stroke="#8e479d" stroke-width="1.90"/>
<path d="M950.0,281.3 C953.2,276.5 956.2,276.0 960.7,279.6 C965.3,283.2 968.3,282.7 971.5,277.9" stroke="#8e479d" stroke-width="1.90"/>
</g>
<g transform="translate(0.0,0.0) scale(1)"><path d="M1222.2,257.5 C1222.8,258.6 1223.9,262.4 1225.9,264.2 C1227.8,266.0 1231.5,268.5 1233.9,268.5 C1236.2,268.5 1238.1,265.7 1240.0,264.2 C1241.9,262.7 1243.3,259.7 1245.1,259.3 C1247.0,258.8 1249.3,260.4 1251.0,261.5 C1252.7,262.6 1254.4,264.7 1255.3,266.0 C1256.3,267.4 1256.7,269.1 1256.9,269.7" stroke="#8f88c9" stroke-width="2.3" fill="none" stroke-linecap="round" stroke-linejoin="round"/><circle cx="1257.2" cy="270.6" r="4.3" fill="#8f88c9"/><path d="M1249.2,251.3 C1248.9,252.6 1247.5,257.8 1247.1,259.0" stroke="#c99016" stroke-width="2.0" fill="none" stroke-linecap="round" stroke-linejoin="round"/><path d="M1192.7,294.3 C1193.6,295.2 1196.4,299.4 1198.2,299.6 C1200.1,299.8 1202.0,297.3 1203.8,295.5 C1205.5,293.7 1207.0,290.3 1208.7,288.8 C1210.3,287.2 1211.9,286.0 1213.6,286.3 C1215.3,286.6 1217.6,289.0 1219.1,290.6 C1220.7,292.2 1221.7,294.5 1222.8,296.1 C1223.9,297.8 1225.1,299.7 1225.5,300.4" stroke="#e9a17e" stroke-width="2.3" fill="none" stroke-linecap="round" stroke-linejoin="round"/><circle cx="1192.1" cy="293.4" r="4.3" fill="#e9a17e"/><path d="M1206.6,282.6 C1207.4,283.4 1210.7,286.5 1211.5,287.3" stroke="#c99016" stroke-width="2.0" fill="none" stroke-linecap="round" stroke-linejoin="round"/><path d="M1233.2,314.3 C1233.6,313.0 1234.5,308.7 1235.7,306.6 C1236.9,304.5 1238.8,301.8 1240.6,301.7 C1242.4,301.6 1244.6,304.2 1246.7,306.0 C1248.9,307.7 1251.3,310.9 1253.5,312.3 C1255.6,313.8 1257.8,314.5 1259.6,314.8 C1261.5,315.1 1263.7,314.4 1264.5,314.3" stroke="#2f6db3" stroke-width="2.3" fill="none" stroke-linecap="round" stroke-linejoin="round"/><circle cx="1265.3" cy="313.9" r="4.6" fill="#2c80d8"/><path d="M1240.0,293.1 C1240.1,294.4 1240.4,299.7 1240.5,301.0" stroke="#c99016" stroke-width="2.0" fill="none" stroke-linecap="round" stroke-linejoin="round"/><path d="M1279.0,304.5 C1279.2,303.0 1279.2,298.0 1280.3,295.5 C1281.3,293.1 1283.3,290.3 1285.2,289.7 C1287.1,289.2 1289.3,290.9 1291.6,292.4 C1293.9,294.0 1296.7,297.4 1298.9,298.8 C1301.2,300.3 1303.5,301.6 1305.1,301.0 C1306.6,300.5 1307.5,297.6 1308.1,295.5 C1308.8,293.5 1308.7,289.9 1308.8,288.8" stroke="#a9323f" stroke-width="2.3" fill="none" stroke-linecap="round" stroke-linejoin="round"/><circle cx="1308.8" cy="287.3" r="4.3" fill="#b9303a"/><path d="M1289.7,283.9 C1289.4,284.7 1288.2,288.1 1287.9,289.0" stroke="#c99016" stroke-width="2.0" fill="none" stroke-linecap="round" stroke-linejoin="round"/><path d="M1208.8,321.7 C1209.2,323.0 1209.7,327.7 1211.1,329.9 C1212.5,332.1 1214.9,334.7 1217.3,334.8 C1219.6,334.9 1222.6,331.9 1225.3,330.5 C1227.9,329.1 1231.2,326.5 1233.2,326.6 C1235.3,326.7 1236.4,328.4 1237.5,331.1 C1238.7,333.9 1239.6,341.2 1240.0,343.2" stroke="#3f3479" stroke-width="2.3" fill="none" stroke-linecap="round" stroke-linejoin="round"/><path d="M1205.0,332.0 C1205.9,331.7 1209.6,330.8 1210.5,330.5" stroke="#c99016" stroke-width="2.0" fill="none" stroke-linecap="round" stroke-linejoin="round"/><path d="M1264.5,339.7 C1264.8,337.9 1264.7,331.5 1265.8,328.7 C1266.9,325.9 1268.9,323.7 1271.3,322.9 C1273.7,322.1 1277.2,323.3 1279.9,324.1 C1282.6,325.0 1285.5,328.0 1287.6,328.1 C1289.7,328.1 1291.6,326.4 1292.5,324.4 C1293.5,322.4 1293.3,317.4 1293.4,316.0" stroke="#5fa156" stroke-width="2.3" fill="none" stroke-linecap="round" stroke-linejoin="round"/><path d="M1291.8,333.2 C1291.3,332.4 1289.0,329.1 1288.5,328.3" stroke="#c99016" stroke-width="2.0" fill="none" stroke-linecap="round" stroke-linejoin="round"/><circle cx="1249.2" cy="243.3" r="8.3" fill="#f6b81f" stroke="#c48c12" stroke-width="1.1"/><text x="1249.2" y="246.7" font-size="9.5" text-anchor="middle" fill="#a9700f" transform="rotate(0 1249.2 243.3)">P</text><circle cx="1201.3" cy="276.5" r="8.3" fill="#f6b81f" stroke="#c48c12" stroke-width="1.1"/><text x="1201.3" y="279.9" font-size="9.5" text-anchor="middle" fill="#a9700f" transform="rotate(0 1201.3 276.5)">P</text><circle cx="1240.0" cy="284.5" r="8.3" fill="#f6b81f" stroke="#c48c12" stroke-width="1.1"/><text x="1240.0" y="287.9" font-size="9.5" text-anchor="middle" fill="#a9700f" transform="rotate(0 1240.0 284.5)">P</text><circle cx="1290.9" cy="275.3" r="8.3" fill="#f6b81f" stroke="#c48c12" stroke-width="1.1"/><text x="1290.9" y="278.7" font-size="9.5" text-anchor="middle" fill="#a9700f" transform="rotate(0 1290.9 275.3)">P</text><circle cx="1196.4" cy="334.8" r="8.3" fill="#f6b81f" stroke="#c48c12" stroke-width="1.1"/><text x="1196.4" y="338.2" font-size="9.5" text-anchor="middle" fill="#a9700f" transform="rotate(0 1196.4 334.8)">P</text><circle cx="1296.5" cy="342.2" r="8.3" fill="#f6b81f" stroke="#c48c12" stroke-width="1.1"/><text x="1296.5" y="345.6" font-size="9.5" text-anchor="middle" fill="#a9700f" transform="rotate(25 1296.5 342.2)">P</text></g>
<g transform="translate(180.4,136.2) scale(0.614)"><path d="M1222.2,257.5 C1222.8,258.6 1223.9,262.4 1225.9,264.2 C1227.8,266.0 1231.5,268.5 1233.9,268.5 C1236.2,268.5 1238.1,265.7 1240.0,264.2 C1241.9,262.7 1243.3,259.7 1245.1,259.3 C1247.0,258.8 1249.3,260.4 1251.0,261.5 C1252.7,262.6 1254.4,264.7 1255.3,266.0 C1256.3,267.4 1256.7,269.1 1256.9,269.7" stroke="#8f88c9" stroke-width="2.3" fill="none" stroke-linecap="round" stroke-linejoin="round"/><circle cx="1257.2" cy="270.6" r="4.3" fill="#8f88c9"/><path d="M1249.2,251.3 C1248.9,252.6 1247.5,257.8 1247.1,259.0" stroke="#c99016" stroke-width="2.0" fill="none" stroke-linecap="round" stroke-linejoin="round"/><path d="M1192.7,294.3 C1193.6,295.2 1196.4,299.4 1198.2,299.6 C1200.1,299.8 1202.0,297.3 1203.8,295.5 C1205.5,293.7 1207.0,290.3 1208.7,288.8 C1210.3,287.2 1211.9,286.0 1213.6,286.3 C1215.3,286.6 1217.6,289.0 1219.1,290.6 C1220.7,292.2 1221.7,294.5 1222.8,296.1 C1223.9,297.8 1225.1,299.7 1225.5,300.4" stroke="#e9a17e" stroke-width="2.3" fill="none" stroke-linecap="round" stroke-linejoin="round"/><circle cx="1192.1" cy="293.4" r="4.3" fill="#e9a17e"/><path d="M1206.6,282.6 C1207.4,283.4 1210.7,286.5 1211.5,287.3" stroke="#c99016" stroke-width="2.0" fill="none" stroke-linecap="round" stroke-linejoin="round"/><path d="M1233.2,314.3 C1233.6,313.0 1234.5,308.7 1235.7,306.6 C1236.9,304.5 1238.8,301.8 1240.6,301.7 C1242.4,301.6 1244.6,304.2 1246.7,306.0 C1248.9,307.7 1251.3,310.9 1253.5,312.3 C1255.6,313.8 1257.8,314.5 1259.6,314.8 C1261.5,315.1 1263.7,314.4 1264.5,314.3" stroke="#2f6db3" stroke-width="2.3" fill="none" stroke-linecap="round" stroke-linejoin="round"/><circle cx="1265.3" cy="313.9" r="4.6" fill="#2c80d8"/><path d="M1240.0,293.1 C1240.1,294.4 1240.4,299.7 1240.5,301.0" stroke="#c99016" stroke-width="2.0" fill="none" stroke-linecap="round" stroke-linejoin="round"/><path d="M1279.0,304.5 C1279.2,303.0 1279.2,298.0 1280.3,295.5 C1281.3,293.1 1283.3,290.3 1285.2,289.7 C1287.1,289.2 1289.3,290.9 1291.6,292.4 C1293.9,294.0 1296.7,297.4 1298.9,298.8 C1301.2,300.3 1303.5,301.6 1305.1,301.0 C1306.6,300.5 1307.5,297.6 1308.1,295.5 C1308.8,293.5 1308.7,289.9 1308.8,288.8" stroke="#a9323f" stroke-width="2.3" fill="none" stroke-linecap="round" stroke-linejoin="round"/><circle cx="1308.8" cy="287.3" r="4.3" fill="#b9303a"/><path d="M1289.7,283.9 C1289.4,284.7 1288.2,288.1 1287.9,289.0" stroke="#c99016" stroke-width="2.0" fill="none" stroke-linecap="round" stroke-linejoin="round"/><path d="M1208.8,321.7 C1209.2,323.0 1209.7,327.7 1211.1,329.9 C1212.5,332.1 1214.9,334.7 1217.3,334.8 C1219.6,334.9 1222.6,331.9 1225.3,330.5 C1227.9,329.1 1231.2,326.5 1233.2,326.6 C1235.3,326.7 1236.4,328.4 1237.5,331.1 C1238.7,333.9 1239.6,341.2 1240.0,343.2" stroke="#3f3479" stroke-width="2.3" fill="none" stroke-linecap="round" stroke-linejoin="round"/><path d="M1205.0,332.0 C1205.9,331.7 1209.6,330.8 1210.5,330.5" stroke="#c99016" stroke-width="2.0" fill="none" stroke-linecap="round" stroke-linejoin="round"/><path d="M1264.5,339.7 C1264.8,337.9 1264.7,331.5 1265.8,328.7 C1266.9,325.9 1268.9,323.7 1271.3,322.9 C1273.7,322.1 1277.2,323.3 1279.9,324.1 C1282.6,325.0 1285.5,328.0 1287.6,328.1 C1289.7,328.1 1291.6,326.4 1292.5,324.4 C1293.5,322.4 1293.3,317.4 1293.4,316.0" stroke="#5fa156" stroke-width="2.3" fill="none" stroke-linecap="round" stroke-linejoin="round"/><path d="M1291.8,333.2 C1291.3,332.4 1289.0,329.1 1288.5,328.3" stroke="#c99016" stroke-width="2.0" fill="none" stroke-linecap="round" stroke-linejoin="round"/><circle cx="1249.2" cy="243.3" r="8.3" fill="#f6b81f" stroke="#c48c12" stroke-width="1.1"/><text x="1249.2" y="246.7" font-size="9.5" text-anchor="middle" fill="#a9700f" transform="rotate(0 1249.2 243.3)">P</text><circle cx="1201.3" cy="276.5" r="8.3" fill="#f6b81f" stroke="#c48c12" stroke-width="1.1"/><text x="1201.3" y="279.9" font-size="9.5" text-anchor="middle" fill="#a9700f" transform="rotate(0 1201.3 276.5)">P</text><circle cx="1240.0" cy="284.5" r="8.3" fill="#f6b81f" stroke="#c48c12" stroke-width="1.1"/><text x="1240.0" y="287.9" font-size="9.5" text-anchor="middle" fill="#a9700f" transform="rotate(0 1240.0 284.5)">P</text><circle cx="1290.9" cy="275.3" r="8.3" fill="#f6b81f" stroke="#c48c12" stroke-width="1.1"/><text x="1290.9" y="278.7" font-size="9.5" text-anchor="middle" fill="#a9700f" transform="rotate(0 1290.9 275.3)">P</text><circle cx="1196.4" cy="334.8" r="8.3" fill="#f6b81f" stroke="#c48c12" stroke-width="1.1"/><text x="1196.4" y="338.2" font-size="9.5" text-anchor="middle" fill="#a9700f" transform="rotate(0 1196.4 334.8)">P</text><circle cx="1296.5" cy="342.2" r="8.3" fill="#f6b81f" stroke="#c48c12" stroke-width="1.1"/><text x="1296.5" y="345.6" font-size="9.5" text-anchor="middle" fill="#a9700f" transform="rotate(25 1296.5 342.2)">P</text></g>
</g>
<g id="arrows">
<path d="M416.3,279.8 L466.3,302.20000000000005 L416.3,324.6 Z" fill="#1a1a1a" stroke="#1a1a1a" stroke-width="4.0" stroke-linejoin="round"/>
<path d="M742.7,279.8 L792.9,302.20000000000005 L742.7,324.6 Z" fill="#1a1a1a" stroke="#1a1a1a" stroke-width="4.0" stroke-linejoin="round"/>
<path d="M1097.4,279.8 L1148.2,302.20000000000005 L1097.4,324.6 Z" fill="#1a1a1a" stroke="#1a1a1a" stroke-width="4.0" stroke-linejoin="round"/>
<path d="M1362.9,279.8 L1413.4,302.20000000000005 L1362.9,324.6 Z" fill="#1a1a1a" stroke="#1a1a1a" stroke-width="4.0" stroke-linejoin="round"/>
</g>
<g id="column">
<path d="M1456.2,236.7 L1458.6000000000001,241 L1458.6000000000001,249 L1453.8,249 L1453.8,241 Z" fill="#8dba8f"/>
<path d="M1456.2,370.2 L1458.6000000000001,366 L1458.6000000000001,353.5 L1453.8,353.5 L1453.8,366 Z" fill="#8dba8f"/>
<rect x="1452.7" y="256" width="7" height="92" fill="#fff" stroke="#9a9f9f" stroke-width="0.9"/>
<rect x="1449.2" y="245.7" width="14" height="8.3" rx="2.2" fill="#d9dcdc" fill-opacity="0.85" stroke="#9a9f9f" stroke-width="0.8"/>
<rect x="1449.2" y="256.2" width="14" height="11.8" rx="2.2" fill="#d9dcdc" fill-opacity="0.85" stroke="#9a9f9f" stroke-width="0.8"/>
<rect x="1449.2" y="335.4" width="14" height="12.6" rx="2.2" fill="#d9dcdc" fill-opacity="0.85" stroke="#9a9f9f" stroke-width="0.8"/>
<rect x="1449.2" y="350" width="14" height="8.4" rx="2.2" fill="#d9dcdc" fill-opacity="0.85" stroke="#9a9f9f" stroke-width="0.8"/>
<rect x="1452.9" y="259" width="6.6" height="8" fill="#fff"/>
<path d="M1451.9,260 v6 M1460.5,260 v6" stroke="#444" stroke-width="1"/>
<rect x="1452.9" y="338" width="6.6" height="8" fill="#fff"/>
<path d="M1451.9,339 v6 M1460.5,339 v6" stroke="#444" stroke-width="1"/>
<path d="M1456.2,240 v12 M1456.2,352 v14" stroke="#5d8a60" stroke-width="0.9"/>
</g>
<g id="chrom">
<path d="M1562.1,365.0 Q1570.7,362.0 1572.5,359.6 Q1574.4,357.3 1575.2,351.9 Q1576.0,346.6 1576.6,335.4 Q1577.2,324.1 1578.2,273.0 Q1579.1,221.8 1579.6,190.3 Q1580.1,158.8 1580.3,158.8 Q1580.5,158.8 1581.0,200.6 Q1581.5,242.3 1582.0,282.7 Q1582.6,323.1 1583.5,322.6 Q1584.4,322.1 1585.5,299.8 Q1586.6,277.5 1587.1,277.5 Q1587.5,277.5 1588.3,302.3 Q1589.1,327.2 1591.4,330.8 Q1593.6,334.4 1595.0,330.8 Q1596.5,327.2 1597.9,326.2 Q1599.3,325.1 1602.4,326.7 Q1605.5,328.2 1607.5,325.1 Q1609.6,322.1 1610.7,312.9 Q1611.8,303.7 1612.2,297.0 Q1612.6,290.4 1613.0,290.4 Q1613.4,290.4 1614.4,307.8 Q1615.3,325.1 1616.0,325.1 Q1616.7,325.1 1617.2,311.8 Q1617.7,298.6 1617.9,298.6 Q1618.2,298.6 1618.7,310.3 Q1619.2,322.1 1620.5,329.8 Q1621.8,337.4 1623.4,337.9 Q1624.9,338.4 1626.9,337.6 Q1629.0,336.8 1630.1,338.1 Q1631.2,339.5 1632.7,347.1 Q1634.1,354.8 1636.2,357.4 Q1638.2,359.9 1645.4,363.3 Q1652.5,366.7 1654.1,365.9 Q1655.6,365.0 1657.1,362.5 Q1658.7,359.9 1660.2,359.9 Q1661.7,359.9 1663.3,362.5 Q1664.8,365.0 1666.8,365.0 Q1668.9,365.0 1670.9,362.0 Q1673.0,358.9 1673.5,354.3 Q1674.0,349.7 1674.8,349.7 Q1675.6,349.7 1676.4,356.9 Q1677.1,364.0 1678.1,364.5 Q1679.1,365.0 1687.3,365.0 Q1695.5,365.0 1698.0,362.7 Q1700.6,360.3 1702.1,360.3 Q1703.7,360.3 1705.2,362.2 Q1706.7,364.0 1707.8,364.3 Q1708.8,364.6 1709.8,363.6 Q1710.8,362.6 1711.8,363.8 Q1712.9,365.0 1714.9,365.0 Q1717.0,365.0 1718.5,361.3 Q1720.0,357.5 1721.1,357.5 Q1722.1,357.5 1723.1,359.2 Q1724.1,360.9 1726.7,358.4 Q1729.2,355.8 1730.8,355.5 Q1732.3,355.2 1734.9,357.6 Q1737.4,359.9 1739.0,359.9 Q1740.5,359.9 1741.0,357.7 Q1741.5,355.4 1742.3,355.4 Q1743.2,355.4 1744.2,359.7 Q1745.2,364.0 1751.0,363.0 Q1756.9,362.0 1759.4,350.2 Q1762.0,338.4 1763.0,331.3 Q1764.0,324.1 1764.4,311.3 Q1764.8,298.6 1765.2,298.6 Q1765.7,298.6 1766.1,321.6 Q1766.5,344.6 1768.3,347.1 Q1770.2,349.7 1771.7,349.2 Q1773.2,348.7 1774.8,345.6 Q1776.3,342.5 1776.7,331.3 Q1777.1,320.0 1777.4,320.0 Q1777.7,320.0 1778.3,336.4 Q1779.0,352.8 1780.2,352.8 Q1781.4,352.8 1784.5,350.7 Q1787.5,348.7 1788.6,348.7 Q1789.6,348.7 1791.6,353.0 Q1793.7,357.3 1794.7,357.1 Q1795.7,356.9 1797.8,352.8 Q1799.8,348.7 1800.7,326.2 Q1801.7,303.7 1802.0,281.2 Q1802.3,258.7 1802.6,258.7 Q1802.9,258.7 1803.5,303.7 Q1804.1,348.7 1806.1,350.7 Q1808.0,352.8 1809.5,352.3 Q1811.1,351.7 1812.1,346.6 Q1813.1,341.5 1814.1,341.0 Q1815.2,340.5 1816.2,343.6 Q1817.2,346.6 1818.2,346.6 Q1819.3,346.6 1820.3,340.0 Q1821.3,333.3 1822.3,332.0 Q1823.3,330.7 1824.4,332.0 Q1825.4,333.3 1826.9,337.9 Q1828.5,342.5 1829.4,342.5 Q1830.3,342.5 1830.6,328.2 Q1830.9,313.9 1831.2,313.9 Q1831.5,313.9 1832.1,337.4 Q1832.8,360.9 1834.2,362.2 Q1835.6,363.4 1839.2,364.0 Q1842.8,364.6 1844.4,365.5 L1846.1,366.3 L1845.6,367.3 L1744.6,367.9 L1652.5,367.9 L1562.5,366.1 Z" fill="#e9e9e9" stroke="#151515" stroke-width="1.8" stroke-linejoin="round"/>
<path d="M1547.5,353.9 V211" stroke="#636363" stroke-width="1.7" stroke-dasharray="1.5 1.3" fill="none"/>
<path d="M1547.5,193.9 L1556.1,210.7 L1538.9,210.7 Z" fill="#636363"/>
<path d="M1561.4,381.4 H1840" stroke="#636363" stroke-width="1.7" stroke-dasharray="1.5 1.3" fill="none"/>
<path d="M1857.2,381.4 L1840.4,389.8 L1840.4,373 Z" fill="#636363"/>
</g>
<g id="volcano">
<g transform="translate(1936,100) scale(0.5)" fill="none" stroke-linecap="round">
<path d="M453 517h0M549 506h0M290 528h0M224 483h0M451 553h0M575 441h0M499 519h0M517 474h0M418 558h0M207 505h0M501 443h0M504 541h0M308 459h0M206 434h0M574 470h0M276 480h0M638 460h0M320 515h0M620 495h0M429 574h0M625 487h0M233 536h0M236 451h0M481 468h0M262 491h0M526 495h0M317 531h0M316 530h0M531 436h0M289 460h0M525 504h0M266 521h0M216 492h0M351 483h0M506 527h0M634 519h0M589 450h0M532 475h0M557 544h0M270 476h0M272 442h0M484 451h0M529 437h0M474 545h0M561 456h0M367 532h0M292 491h0M462 498h0M475 561h0M469 503h0M542 436h0M527 454h0M215 503h0M237 446h0M349 497h0M242 476h0M448 449h0M505 556h0M437 458h0M246 472h0M399 521h0M395 580h0M534 549h0M587 473h0M350 457h0M542 469h0M406 580h0M590 485h0M268 447h0M198 435h0M289 551h0M350 547h0M437 442h0M227 455h0M352 437h0M430 467h0M372 461h0M431 555h0M654 494h0M654 461h0M345 435h0M582 486h0M236 468h0M605 504h0M373 479h0M649 489h0M450 541h0M573 506h0M476 489h0M524 541h0M586 479h0M530 486h0M293 498h0M343 437h0M504 526h0M366 480h0M460 546h0M436 441h0M418 578h0M257 540h0M216 462h0M608 510h0M287 458h0M382 484h0M554 492h0M526 464h0M566 468h0M255 440h0M629 478h0M618 491h0M294 458h0M390 561h0M319 442h0M563 496h0M222 454h0M389 553h0M216 452h0M415 550h0M349 508h0M314 527h0M284 516h0M385 448h0M589 502h0M626 508h0M325 509h0M430 483h0M507 522h0M371 470h0M352 436h0M331 478h0M247 471h0M514 474h0M393 542h0M431 444h0M450 490h0M489 517h0M395 574h0M515 448h0M268 527h0M222 490h0M487 521h0M506 527h0M530 436h0M329 488h0M348 538h0M440 545h0M487 510h0M279 447h0M227 490h0M381 486h0M497 551h0M361 436h0M327 534h0M387 525h0M444 569h0M567 489h0M330 515h0M571 484h0M247 443h0M306 454h0M528 444h0M199 443h0M348 475h0M638 514h0M487 483h0M498 521h0M425 572h0M225 494h0M321 457h0M317 494h0M398 534h0M278 485h0M619 488h0M363 459h0M280 519h0M349 509h0M615 453h0M337 515h0M295 446h0M260 443h0M236 531h0M467 561h0M519 488h0M511 442h0M562 532h0M233 488h0M473 512h0M353 509h0M573 517h0M256 448h0M617 504h0M511 522h0M476 469h0M290 440h0M560 510h0M365 448h0M441 535h0M480 505h0M221 512h0M343 458h0M341 562h0M480 454h0M537 475h0M304 537h0M525 525h0M629 489h0M612 528h0M250 492h0M294 452h0M281 479h0M570 518h0M317 557h0M558 498h0M215 459h0M561 519h0M454 483h0M391 572h0M389 491h0M369 465h0M543 501h0M613 520h0M369 464h0M312 444h0M284 440h0M216 512h0M298 510h0M432 542h0M509 539h0M300 469h0M344 494h0M466 441h0M598 459h0M508 553h0M578 435h0M525 485h0M518 465h0M546 452h0M494 518h0M389 530h0M597 521h0M601 519h0M468 557h0M524 546h0M434 523h0M266 442h0M578 503h0M444 452h0M443 450h0M571 447h0M570 491h0M227 468h0M615 516h0M459 533h0M480 460h0M460 551h0M521 507h0M531 492h0M378 509h0M472 555h0M224 468h0M324 545h0M379 557h0M583 458h0M618 522h0M617 508h0M245 530h0M231 499h0M337 504h0M475 514h0M255 541h0M551 544h0M221 510h0M392 553h0M446 522h0M459 570h0M316 440h0M215 498h0M350 548h0M487 499h0M466 497h0M378 464h0M354 567h0M609 530h0M644 454h0M375 519h0M436 475h0M419 582h0M296 498h0M455 541h0M390 474h0M455 519h0M440 453h0M548 466h0M208 464h0M473 559h0M491 499h0M374 561h0M501 529h0M373 572h0M560 518h0M445 569h0M447 566h0M434 450h0M462 570h0M500 513h0M484 468h0M290 542h0M383 495h0M601 496h0M456 457h0M595 519h0M485 490h0M218 517h0M509 455h0M554 490h0M465 503h0M296 447h0M446 533h0M557 491h0M373 560h0M227 482h0M648 461h0M364 570h0M214 492h0M664 458h0M367 442h0M435 464h0M540 546h0M577 440h0M399 546h0M565 497h0M233 481h0M202 490h0M460 453h0M484 478h0M311 545h0M561 478h0M394 546h0M418 571h0M473 444h0M450 532h0M459 540h0M441 495h0M649 479h0M680 447h0M317 535h0M288 442h0M378 533h0M584 495h0M588 436h0M427 465h0M441 440h0M575 538h0M249 525h0M367 448h0M592 472h0M599 471h0M208 524h0M645 519h0M524 528h0M451 489h0M450 487h0M494 494h0M276 476h0M420 520h0M503 514h0M621 482h0M432 537h0M387 508h0M524 531h0M348 532h0M624 449h0M314 497h0M524 524h0M459 508h0M444 459h0M503 524h0M320 551h0M432 507h0M534 534h0M358 525h0M287 522h0M640 442h0M456 562h0M490 498h0M324 504h0M547 464h0M476 534h0M493 474h0M362 448h0M361 504h0M322 437h0M489 557h0M394 577h0M317 475h0M561 511h0M433 461h0M472 499h0M544 438h0M461 478h0M202 454h0M214 499h0M382 449h0M286 451h0M423 571h0M467 513h0M485 459h0M237 463h0M514 479h0M599 437h0M501 499h0M577 479h0M446 515h0M512 519h0M272 523h0M415 560h0M596 497h0M308 460h0M331 518h0M508 499h0M358 456h0M387 512h0M476 552h0M228 490h0M288 525h0M378 469h0M309 556h0M505 475h0M213 467h0M460 547h0M395 564h0M552 505h0M317 453h0M356 454h0M255 455h0M239 487h0M517 442h0M288 521h0M205 448h0M483 540h0M442 495h0M595 497h0M588 502h0M457 517h0M478 475h0M223 528h0M268 482h0M544 437h0M453 447h0M474 489h0M518 444h0M191 475h0M347 480h0M222 435h0M311 529h0M439 546h0M436 456h0M331 437h0M405 561h0M314 487h0M288 488h0M259 496h0M376 485h0M622 481h0M330 559h0M624 454h0M480 473h0M614 498h0M588 483h0M444 557h0M518 443h0M232 486h0M317 511h0M344 546h0M627 457h0M486 457h0M629 466h0M509 515h0M342 514h0M368 567h0M506 471h0M506 515h0M425 571h0M393 538h0M305 492h0M374 521h0M476 489h0M449 488h0M312 476h0M535 497h0M376 516h0M546 548h0M462 556h0M492 518h0M599 510h0M530 459h0M595 474h0M253 457h0M249 536h0M604 450h0M582 451h0M442 511h0M363 538h0M206 462h0M439 452h0M466 450h0M594 467h0M526 488h0M382 483h0M208 461h0M333 512h0M262 517h0M651 491h0M374 462h0M372 464h0M273 446h0M240 466h0M499 559h0M508 507h0M460 534h0M476 488h0M351 498h0M571 505h0M580 465h0M294 451h0M612 475h0M300 547h0M399 555h0M503 537h0M463 514h0M223 447h0M477 475h0M579 534h0M357 493h0M627 461h0M370 567h0M540 464h0M506 532h0M196 519h0M499 439h0M550 458h0M324 526h0M255 442h0M222 482h0M292 440h0M556 462h0M375 515h0M481 496h0M592 484h0M447 511h0M500 526h0M470 485h0M453 492h0M321 456h0M502 479h0M489 492h0M243 494h0M227 450h0M255 478h0M454 524h0M422 539h0M318 548h0M567 455h0M305 449h0M529 551h0M433 547h0M587 489h0M687 467h0M304 475h0M427 509h0M477 527h0M456 504h0M460 507h0M527 436h0M342 470h0M267 518h0M572 438h0M330 501h0M535 481h0M496 501h0M513 476h0M587 462h0" stroke="#c9c9c9" stroke-width="13"/>
<path d="M453 517h0M549 506h0M290 528h0M224 483h0M451 553h0M575 441h0M499 519h0M517 474h0M418 558h0M207 505h0M501 443h0M504 541h0M308 459h0M206 434h0M574 470h0M276 480h0M638 460h0M320 515h0M620 495h0M429 574h0M625 487h0M233 536h0M236 451h0M481 468h0M262 491h0M526 495h0M317 531h0M316 530h0M531 436h0M289 460h0M525 504h0M266 521h0M216 492h0M351 483h0M506 527h0M634 519h0M589 450h0M532 475h0M557 544h0M270 476h0M272 442h0M484 451h0M529 437h0M474 545h0M561 456h0M367 532h0M292 491h0M462 498h0M475 561h0M469 503h0M542 436h0M527 454h0M215 503h0M237 446h0M349 497h0M242 476h0M448 449h0M505 556h0M437 458h0M246 472h0M399 521h0M395 580h0M534 549h0M587 473h0M350 457h0M542 469h0M406 580h0M590 485h0M268 447h0M198 435h0M289 551h0M350 547h0M437 442h0M227 455h0M352 437h0M430 467h0M372 461h0M431 555h0M654 494h0M654 461h0M345 435h0M582 486h0M236 468h0M605 504h0M373 479h0M649 489h0M450 541h0M573 506h0M476 489h0M524 541h0M586 479h0M530 486h0M293 498h0M343 437h0M504 526h0M366 480h0M460 546h0M436 441h0M418 578h0M257 540h0M216 462h0M608 510h0M287 458h0M382 484h0M554 492h0M526 464h0M566 468h0M255 440h0M629 478h0M618 491h0M294 458h0M390 561h0M319 442h0M563 496h0M222 454h0M389 553h0M216 452h0M415 550h0M349 508h0M314 527h0M284 516h0M385 448h0M589 502h0M626 508h0M325 509h0M430 483h0M507 522h0M371 470h0M352 436h0M331 478h0M247 471h0M514 474h0M393 542h0M431 444h0M450 490h0M489 517h0M395 574h0M515 448h0M268 527h0M222 490h0M487 521h0M506 527h0M530 436h0M329 488h0M348 538h0M440 545h0M487 510h0M279 447h0M227 490h0M381 486h0M497 551h0M361 436h0M327 534h0M387 525h0M444 569h0M567 489h0M330 515h0M571 484h0M247 443h0M306 454h0M528 444h0M199 443h0M348 475h0M638 514h0M487 483h0M498 521h0M425 572h0M225 494h0M321 457h0M317 494h0M398 534h0M278 485h0M619 488h0M363 459h0M280 519h0M349 509h0M615 453h0M337 515h0M295 446h0M260 443h0M236 531h0M467 561h0M519 488h0M511 442h0M562 532h0M233 488h0M473 512h0M353 509h0M573 517h0M256 448h0M617 504h0M511 522h0M476 469h0M290 440h0M560 510h0M365 448h0M441 535h0M480 505h0M221 512h0M343 458h0M341 562h0M480 454h0M537 475h0M304 537h0M525 525h0M629 489h0M612 528h0M250 492h0M294 452h0M281 479h0M570 518h0M317 557h0M558 498h0M215 459h0M561 519h0M454 483h0M391 572h0M389 491h0M369 465h0M543 501h0M613 520h0M369 464h0M312 444h0M284 440h0M216 512h0M298 510h0M432 542h0M509 539h0M300 469h0M344 494h0M466 441h0M598 459h0M508 553h0M578 435h0M525 485h0M518 465h0M546 452h0M494 518h0M389 530h0M597 521h0M601 519h0M468 557h0M524 546h0M434 523h0M266 442h0M578 503h0M444 452h0M443 450h0M571 447h0M570 491h0M227 468h0M615 516h0M459 533h0M480 460h0M460 551h0M521 507h0M531 492h0M378 509h0M472 555h0M224 468h0M324 545h0M379 557h0M583 458h0M618 522h0M617 508h0M245 530h0M231 499h0M337 504h0M475 514h0M255 541h0M551 544h0M221 510h0M392 553h0M446 522h0M459 570h0M316 440h0M215 498h0M350 548h0M487 499h0M466 497h0M378 464h0M354 567h0M609 530h0M644 454h0M375 519h0M436 475h0M419 582h0M296 498h0M455 541h0M390 474h0M455 519h0M440 453h0M548 466h0M208 464h0M473 559h0M491 499h0M374 561h0M501 529h0M373 572h0M560 518h0M445 569h0M447 566h0M434 450h0M462 570h0M500 513h0M484 468h0M290 542h0M383 495h0M601 496h0M456 457h0M595 519h0M485 490h0M218 517h0M509 455h0M554 490h0M465 503h0M296 447h0M446 533h0M557 491h0M373 560h0M227 482h0M648 461h0M364 570h0M214 492h0M664 458h0M367 442h0M435 464h0M540 546h0M577 440h0M399 546h0M565 497h0M233 481h0M202 490h0M460 453h0M484 478h0M311 545h0M561 478h0M394 546h0M418 571h0M473 444h0M450 532h0M459 540h0M441 495h0M649 479h0M680 447h0M317 535h0M288 442h0M378 533h0M584 495h0M588 436h0M427 465h0M441 440h0M575 538h0M249 525h0M367 448h0M592 472h0M599 471h0M208 524h0M645 519h0M524 528h0M451 489h0M450 487h0M494 494h0M276 476h0M420 520h0M503 514h0M621 482h0M432 537h0M387 508h0M524 531h0M348 532h0M624 449h0M314 497h0M524 524h0M459 508h0M444 459h0M503 524h0M320 551h0M432 507h0M534 534h0M358 525h0M287 522h0M640 442h0M456 562h0M490 498h0M324 504h0M547 464h0M476 534h0M493 474h0M362 448h0M361 504h0M322 437h0M489 557h0M394 577h0M317 475h0M561 511h0M433 461h0M472 499h0M544 438h0M461 478h0M202 454h0M214 499h0M382 449h0M286 451h0M423 571h0M467 513h0M485 459h0M237 463h0M514 479h0M599 437h0M501 499h0M577 479h0M446 515h0M512 519h0M272 523h0M415 560h0M596 497h0M308 460h0M331 518h0M508 499h0M358 456h0M387 512h0M476 552h0M228 490h0M288 525h0M378 469h0M309 556h0M505 475h0M213 467h0M460 547h0M395 564h0M552 505h0M317 453h0M356 454h0M255 455h0M239 487h0M517 442h0M288 521h0M205 448h0M483 540h0M442 495h0M595 497h0M588 502h0M457 517h0M478 475h0M223 528h0M268 482h0M544 437h0M453 447h0M474 489h0M518 444h0M191 475h0M347 480h0M222 435h0M311 529h0M439 546h0M436 456h0M331 437h0M405 561h0M314 487h0M288 488h0M259 496h0M376 485h0M622 481h0M330 559h0M624 454h0M480 473h0M614 498h0M588 483h0M444 557h0M518 443h0M232 486h0M317 511h0M344 546h0M627 457h0M486 457h0M629 466h0M509 515h0M342 514h0M368 567h0M506 471h0M506 515h0M425 571h0M393 538h0M305 492h0M374 521h0M476 489h0M449 488h0M312 476h0M535 497h0M376 516h0M546 548h0M462 556h0M492 518h0M599 510h0M530 459h0M595 474h0M253 457h0M249 536h0M604 450h0M582 451h0M442 511h0M363 538h0M206 462h0M439 452h0M466 450h0M594 467h0M526 488h0M382 483h0M208 461h0M333 512h0M262 517h0M651 491h0M374 462h0M372 464h0M273 446h0M240 466h0M499 559h0M508 507h0M460 534h0M476 488h0M351 498h0M571 505h0M580 465h0M294 451h0M612 475h0M300 547h0M399 555h0M503 537h0M463 514h0M223 447h0M477 475h0M579 534h0M357 493h0M627 461h0M370 567h0M540 464h0M506 532h0M196 519h0M499 439h0M550 458h0M324 526h0M255 442h0M222 482h0M292 440h0M556 462h0M375 515h0M481 496h0M592 484h0M447 511h0M500 526h0M470 485h0M453 492h0M321 456h0M502 479h0M489 492h0M243 494h0M227 450h0M255 478h0M454 524h0M422 539h0M318 548h0M567 455h0M305 449h0M529 551h0M433 547h0M587 489h0M687 467h0M304 475h0M427 509h0M477 527h0M456 504h0M460 507h0M527 436h0M342 470h0M267 518h0M572 438h0M330 501h0M535 481h0M496 501h0M513 476h0M587 462h0" stroke="#afafaf" stroke-width="10.4"/>
<path d="M543 535h0M231 486h0M554 452h0M528 534h0M318 542h0M584 446h0M574 530h0M432 552h0M544 509h0M618 523h0M424 556h0M556 531h0M468 438h0M434 480h0M540 478h0M281 451h0M510 521h0M620 525h0M332 441h0M246 537h0M592 481h0M334 532h0M481 486h0M288 448h0M369 509h0M451 503h0M503 548h0M385 459h0M557 539h0M585 480h0M460 563h0M563 460h0M255 442h0M358 552h0M249 444h0M621 466h0M501 546h0M335 449h0M598 461h0M214 435h0M214 500h0M210 436h0M536 495h0M276 464h0M362 549h0M335 434h0M425 553h0M216 468h0M505 517h0M429 508h0M391 537h0M453 505h0M448 466h0M281 514h0M385 463h0M377 440h0M434 563h0M574 446h0M478 554h0M373 475h0M303 478h0M464 563h0M358 476h0M468 471h0M585 485h0M510 545h0M316 517h0M525 448h0M448 538h0M536 452h0M483 522h0M450 491h0M472 551h0M490 509h0M593 437h0M551 478h0M206 472h0M402 583h0M278 528h0M265 526h0M523 480h0M364 497h0M460 515h0M185 505h0M484 492h0M386 559h0M348 443h0M240 510h0M358 492h0M460 513h0M596 447h0M299 439h0M317 560h0M391 522h0M564 464h0M531 543h0M197 490h0M372 540h0M626 457h0M447 468h0M591 497h0M225 451h0M478 491h0M446 550h0M310 544h0M378 532h0M214 477h0M285 441h0M454 490h0M385 576h0M607 508h0M612 436h0M283 528h0M611 529h0M541 544h0M587 474h0M270 485h0M508 450h0M246 443h0M280 493h0M287 491h0M320 449h0M597 450h0M198 486h0M490 554h0M483 459h0M290 548h0M380 467h0M406 568h0M630 464h0M594 455h0M576 502h0M256 531h0M445 469h0M536 542h0M565 448h0M446 458h0M506 486h0M306 506h0M241 514h0M528 475h0M291 465h0M453 505h0M548 535h0M238 528h0M549 522h0M211 508h0M417 556h0M626 500h0M588 440h0M327 542h0M388 539h0M559 535h0M393 525h0M272 541h0M253 444h0M544 547h0M565 529h0M505 456h0M522 479h0M277 538h0M578 486h0M251 483h0M577 520h0M491 477h0M585 517h0M464 462h0M603 508h0M560 522h0M209 473h0M255 510h0M400 541h0M596 456h0M245 486h0M235 480h0M196 443h0M226 529h0M451 557h0M396 514h0M367 520h0M193 453h0M548 538h0M537 537h0M190 441h0M566 454h0M393 501h0M478 455h0M503 511h0M286 439h0M274 543h0M411 571h0M369 543h0M610 527h0M458 501h0M354 524h0M490 548h0M348 471h0M507 538h0M534 491h0M296 539h0M287 441h0M306 515h0M605 518h0M141 462h0M438 557h0M472 530h0M282 448h0M564 462h0M564 449h0M549 543h0M604 462h0M283 454h0M277 538h0M494 452h0M242 449h0M486 529h0M325 510h0M462 490h0M423 504h0M594 482h0M494 499h0M483 494h0M457 511h0M256 441h0M573 524h0M213 465h0M385 577h0M510 472h0M253 481h0M513 486h0M325 447h0M439 547h0M603 525h0M537 440h0M423 569h0M545 472h0M341 555h0M205 504h0M466 491h0M488 505h0M377 466h0M602 504h0M506 473h0M293 464h0M276 467h0M525 507h0M605 445h0M279 439h0M402 579h0M559 469h0M284 523h0M493 547h0M272 453h0M288 528h0M639 493h0M546 460h0M636 500h0M280 541h0M518 458h0M347 516h0M204 476h0M358 489h0M519 496h0M377 539h0M439 531h0M545 438h0M338 484h0M454 537h0M603 471h0M610 496h0M556 442h0M550 439h0M437 461h0M333 539h0M295 549h0M375 528h0M556 490h0M557 542h0M387 445h0M213 459h0M236 435h0M378 476h0M428 561h0M306 453h0M320 467h0M503 497h0M634 488h0M447 459h0M505 512h0M208 506h0M304 503h0M399 525h0M570 494h0M470 515h0M396 538h0M202 439h0M465 513h0M287 515h0M497 511h0M444 441h0M328 549h0M546 476h0M546 460h0M445 523h0M317 449h0M473 503h0M286 500h0M433 502h0M461 549h0M572 511h0M624 493h0M503 515h0M531 542h0M307 452h0M273 492h0M495 435h0M286 509h0M556 434h0M578 527h0M191 489h0M273 522h0M518 516h0M283 440h0M276 520h0M226 486h0M600 440h0M391 479h0M256 503h0M453 556h0M431 562h0M463 538h0M468 456h0M342 486h0M538 538h0M549 487h0M458 501h0M503 464h0M368 485h0M260 536h0M616 520h0M493 459h0M526 531h0M558 518h0M374 552h0M537 474h0M537 532h0M480 537h0M515 449h0M535 539h0M279 535h0M431 484h0M374 528h0M242 448h0M369 566h0M478 527h0M544 537h0M275 492h0M385 545h0M658 434h0M234 450h0M447 530h0M489 499h0M352 510h0M370 438h0M355 524h0M383 486h0M485 512h0M535 475h0M372 453h0M437 530h0M434 495h0M527 534h0M605 508h0M591 452h0M504 528h0M451 567h0M372 544h0M450 525h0M422 498h0M376 572h0M573 444h0M436 448h0M262 466h0M522 496h0M453 447h0M433 483h0M623 521h0M448 464h0M334 487h0M223 460h0M475 454h0M496 469h0M234 444h0M396 582h0M636 475h0M463 456h0M640 515h0M276 533h0M602 525h0M210 473h0M354 495h0M517 521h0M288 465h0M469 519h0M316 501h0M578 494h0M240 479h0M383 553h0M333 473h0M540 537h0M234 463h0M601 529h0M369 456h0M384 435h0M565 479h0M349 554h0M544 441h0M520 536h0M522 469h0M350 518h0M273 544h0M481 449h0M339 480h0M281 436h0M324 515h0M429 502h0M417 555h0M602 465h0M539 518h0M462 471h0M646 473h0M550 528h0M310 546h0M580 499h0M264 537h0M340 506h0M528 476h0M224 471h0M443 549h0M419 569h0M237 455h0M266 505h0M211 435h0M546 542h0M613 474h0M613 496h0M519 501h0M291 434h0M605 449h0M237 437h0M475 497h0M428 534h0M529 537h0M266 535h0M307 544h0M285 434h0M366 511h0M214 462h0M550 476h0M338 434h0M372 525h0M468 503h0M373 571h0M249 458h0M567 455h0M311 478h0M208 494h0M397 512h0M435 443h0M512 520h0M586 513h0M486 543h0M592 447h0M296 445h0M453 507h0M215 498h0M579 446h0M574 436h0M472 561h0M621 505h0M371 521h0M565 456h0M259 508h0M562 454h0M453 502h0M532 484h0M624 493h0M502 522h0M229 458h0M503 477h0M290 496h0M363 521h0M204 527h0M507 543h0M611 514h0M455 565h0M286 488h0M496 525h0M435 510h0M507 553h0M389 461h0M475 481h0M424 554h0M444 462h0M521 502h0M475 480h0M273 442h0M499 540h0M578 538h0M294 453h0M238 472h0M224 499h0M573 485h0M285 536h0M447 456h0M376 485h0M248 481h0M322 468h0M260 474h0M578 534h0M287 511h0M280 507h0M591 532h0M256 538h0M511 524h0M564 494h0M379 512h0M382 451h0M353 465h0M580 499h0M328 494h0M261 505h0M520 486h0M592 529h0M598 480h0M596 469h0M571 524h0M458 480h0M428 521h0M429 475h0M261 514h0M319 550h0M512 473h0M299 458h0M346 563h0M438 514h0M573 532h0M277 451h0M468 539h0M379 434h0M482 461h0M381 527h0M500 542h0M525 446h0M493 483h0M448 456h0M579 532h0M518 534h0M550 459h0M460 516h0M433 491h0M252 472h0M494 434h0M419 581h0M513 506h0M539 491h0M247 443h0M492 511h0M195 495h0M351 474h0M363 475h0M225 469h0M554 537h0M359 492h0M308 480h0M206 490h0M269 444h0M471 439h0M582 530h0M351 476h0M457 461h0M590 502h0" stroke="#c9c9c9" stroke-width="13"/>
<path d="M543 535h0M231 486h0M554 452h0M528 534h0M318 542h0M584 446h0M574 530h0M432 552h0M544 509h0M618 523h0M424 556h0M556 531h0M468 438h0M434 480h0M540 478h0M281 451h0M510 521h0M620 525h0M332 441h0M246 537h0M592 481h0M334 532h0M481 486h0M288 448h0M369 509h0M451 503h0M503 548h0M385 459h0M557 539h0M585 480h0M460 563h0M563 460h0M255 442h0M358 552h0M249 444h0M621 466h0M501 546h0M335 449h0M598 461h0M214 435h0M214 500h0M210 436h0M536 495h0M276 464h0M362 549h0M335 434h0M425 553h0M216 468h0M505 517h0M429 508h0M391 537h0M453 505h0M448 466h0M281 514h0M385 463h0M377 440h0M434 563h0M574 446h0M478 554h0M373 475h0M303 478h0M464 563h0M358 476h0M468 471h0M585 485h0M510 545h0M316 517h0M525 448h0M448 538h0M536 452h0M483 522h0M450 491h0M472 551h0M490 509h0M593 437h0M551 478h0M206 472h0M402 583h0M278 528h0M265 526h0M523 480h0M364 497h0M460 515h0M185 505h0M484 492h0M386 559h0M348 443h0M240 510h0M358 492h0M460 513h0M596 447h0M299 439h0M317 560h0M391 522h0M564 464h0M531 543h0M197 490h0M372 540h0M626 457h0M447 468h0M591 497h0M225 451h0M478 491h0M446 550h0M310 544h0M378 532h0M214 477h0M285 441h0M454 490h0M385 576h0M607 508h0M612 436h0M283 528h0M611 529h0M541 544h0M587 474h0M270 485h0M508 450h0M246 443h0M280 493h0M287 491h0M320 449h0M597 450h0M198 486h0M490 554h0M483 459h0M290 548h0M380 467h0M406 568h0M630 464h0M594 455h0M576 502h0M256 531h0M445 469h0M536 542h0M565 448h0M446 458h0M506 486h0M306 506h0M241 514h0M528 475h0M291 465h0M453 505h0M548 535h0M238 528h0M549 522h0M211 508h0M417 556h0M626 500h0M588 440h0M327 542h0M388 539h0M559 535h0M393 525h0M272 541h0M253 444h0M544 547h0M565 529h0M505 456h0M522 479h0M277 538h0M578 486h0M251 483h0M577 520h0M491 477h0M585 517h0M464 462h0M603 508h0M560 522h0M209 473h0M255 510h0M400 541h0M596 456h0M245 486h0M235 480h0M196 443h0M226 529h0M451 557h0M396 514h0M367 520h0M193 453h0M548 538h0M537 537h0M190 441h0M566 454h0M393 501h0M478 455h0M503 511h0M286 439h0M274 543h0M411 571h0M369 543h0M610 527h0M458 501h0M354 524h0M490 548h0M348 471h0M507 538h0M534 491h0M296 539h0M287 441h0M306 515h0M605 518h0M141 462h0M438 557h0M472 530h0M282 448h0M564 462h0M564 449h0M549 543h0M604 462h0M283 454h0M277 538h0M494 452h0M242 449h0M486 529h0M325 510h0M462 490h0M423 504h0M594 482h0M494 499h0M483 494h0M457 511h0M256 441h0M573 524h0M213 465h0M385 577h0M510 472h0M253 481h0M513 486h0M325 447h0M439 547h0M603 525h0M537 440h0M423 569h0M545 472h0M341 555h0M205 504h0M466 491h0M488 505h0M377 466h0M602 504h0M506 473h0M293 464h0M276 467h0M525 507h0M605 445h0M279 439h0M402 579h0M559 469h0M284 523h0M493 547h0M272 453h0M288 528h0M639 493h0M546 460h0M636 500h0M280 541h0M518 458h0M347 516h0M204 476h0M358 489h0M519 496h0M377 539h0M439 531h0M545 438h0M338 484h0M454 537h0M603 471h0M610 496h0M556 442h0M550 439h0M437 461h0M333 539h0M295 549h0M375 528h0M556 490h0M557 542h0M387 445h0M213 459h0M236 435h0M378 476h0M428 561h0M306 453h0M320 467h0M503 497h0M634 488h0M447 459h0M505 512h0M208 506h0M304 503h0M399 525h0M570 494h0M470 515h0M396 538h0M202 439h0M465 513h0M287 515h0M497 511h0M444 441h0M328 549h0M546 476h0M546 460h0M445 523h0M317 449h0M473 503h0M286 500h0M433 502h0M461 549h0M572 511h0M624 493h0M503 515h0M531 542h0M307 452h0M273 492h0M495 435h0M286 509h0M556 434h0M578 527h0M191 489h0M273 522h0M518 516h0M283 440h0M276 520h0M226 486h0M600 440h0M391 479h0M256 503h0M453 556h0M431 562h0M463 538h0M468 456h0M342 486h0M538 538h0M549 487h0M458 501h0M503 464h0M368 485h0M260 536h0M616 520h0M493 459h0M526 531h0M558 518h0M374 552h0M537 474h0M537 532h0M480 537h0M515 449h0M535 539h0M279 535h0M431 484h0M374 528h0M242 448h0M369 566h0M478 527h0M544 537h0M275 492h0M385 545h0M658 434h0M234 450h0M447 530h0M489 499h0M352 510h0M370 438h0M355 524h0M383 486h0M485 512h0M535 475h0M372 453h0M437 530h0M434 495h0M527 534h0M605 508h0M591 452h0M504 528h0M451 567h0M372 544h0M450 525h0M422 498h0M376 572h0M573 444h0M436 448h0M262 466h0M522 496h0M453 447h0M433 483h0M623 521h0M448 464h0M334 487h0M223 460h0M475 454h0M496 469h0M234 444h0M396 582h0M636 475h0M463 456h0M640 515h0M276 533h0M602 525h0M210 473h0M354 495h0M517 521h0M288 465h0M469 519h0M316 501h0M578 494h0M240 479h0M383 553h0M333 473h0M540 537h0M234 463h0M601 529h0M369 456h0M384 435h0M565 479h0M349 554h0M544 441h0M520 536h0M522 469h0M350 518h0M273 544h0M481 449h0M339 480h0M281 436h0M324 515h0M429 502h0M417 555h0M602 465h0M539 518h0M462 471h0M646 473h0M550 528h0M310 546h0M580 499h0M264 537h0M340 506h0M528 476h0M224 471h0M443 549h0M419 569h0M237 455h0M266 505h0M211 435h0M546 542h0M613 474h0M613 496h0M519 501h0M291 434h0M605 449h0M237 437h0M475 497h0M428 534h0M529 537h0M266 535h0M307 544h0M285 434h0M366 511h0M214 462h0M550 476h0M338 434h0M372 525h0M468 503h0M373 571h0M249 458h0M567 455h0M311 478h0M208 494h0M397 512h0M435 443h0M512 520h0M586 513h0M486 543h0M592 447h0M296 445h0M453 507h0M215 498h0M579 446h0M574 436h0M472 561h0M621 505h0M371 521h0M565 456h0M259 508h0M562 454h0M453 502h0M532 484h0M624 493h0M502 522h0M229 458h0M503 477h0M290 496h0M363 521h0M204 527h0M507 543h0M611 514h0M455 565h0M286 488h0M496 525h0M435 510h0M507 553h0M389 461h0M475 481h0M424 554h0M444 462h0M521 502h0M475 480h0M273 442h0M499 540h0M578 538h0M294 453h0M238 472h0M224 499h0M573 485h0M285 536h0M447 456h0M376 485h0M248 481h0M322 468h0M260 474h0M578 534h0M287 511h0M280 507h0M591 532h0M256 538h0M511 524h0M564 494h0M379 512h0M382 451h0M353 465h0M580 499h0M328 494h0M261 505h0M520 486h0M592 529h0M598 480h0M596 469h0M571 524h0M458 480h0M428 521h0M429 475h0M261 514h0M319 550h0M512 473h0M299 458h0M346 563h0M438 514h0M573 532h0M277 451h0M468 539h0M379 434h0M482 461h0M381 527h0M500 542h0M525 446h0M493 483h0M448 456h0M579 532h0M518 534h0M550 459h0M460 516h0M433 491h0M252 472h0M494 434h0M419 581h0M513 506h0M539 491h0M247 443h0M492 511h0M195 495h0M351 474h0M363 475h0M225 469h0M554 537h0M359 492h0M308 480h0M206 490h0M269 444h0M471 439h0M582 530h0M351 476h0M457 461h0M590 502h0" stroke="#afafaf" stroke-width="10.4"/>
<path d="M479 486h0M535 443h0M637 493h0M328 527h0M494 542h0M660 507h0M629 483h0M298 465h0M363 437h0M500 502h0M386 536h0M210 475h0M463 554h0M474 530h0M217 513h0M487 439h0M542 539h0M536 529h0M606 511h0M607 515h0M583 475h0M142 441h0M306 530h0M207 486h0M212 530h0M518 551h0M480 495h0M282 524h0M503 547h0M396 535h0M497 507h0M390 479h0M554 531h0M527 549h0M527 532h0M503 461h0M418 569h0M439 497h0M485 502h0M275 453h0M499 467h0M329 473h0M561 532h0M367 499h0M502 557h0M494 550h0M334 538h0M501 532h0M374 485h0M249 531h0M230 488h0M310 474h0M319 540h0M433 454h0M538 502h0M484 505h0M387 520h0M319 494h0M240 469h0M277 507h0M236 466h0M332 462h0M319 541h0M375 469h0M458 504h0M328 448h0M508 547h0M567 472h0M286 528h0M492 473h0M400 533h0M380 510h0M285 452h0M539 473h0M441 501h0M638 520h0M213 469h0M302 473h0M465 465h0M337 516h0M244 444h0M285 443h0M530 446h0M206 481h0M474 451h0M519 503h0M339 557h0M508 536h0M354 441h0M583 456h0M235 509h0M211 502h0M455 559h0M249 525h0M354 534h0M520 527h0M296 521h0M450 507h0M480 442h0M476 525h0M628 440h0M532 437h0M383 566h0M630 465h0M530 544h0M543 456h0M550 458h0M301 482h0M474 506h0M501 548h0M448 440h0M233 523h0M331 552h0M320 516h0M477 481h0M536 548h0M485 460h0M299 532h0M251 523h0M568 490h0M263 502h0M244 462h0M287 505h0M520 532h0M439 564h0M544 548h0M529 469h0M516 443h0M219 499h0M309 533h0M364 454h0M308 507h0M299 446h0M292 465h0M249 447h0M360 453h0M504 464h0M345 502h0M469 451h0M593 443h0M433 497h0M499 438h0M461 505h0M549 522h0M272 507h0M211 444h0M384 535h0M632 445h0M349 557h0M489 472h0M537 464h0M301 455h0M613 500h0M575 437h0M482 476h0M394 555h0M306 527h0M320 455h0M226 480h0M528 539h0M266 496h0M444 477h0M472 568h0M250 451h0M352 528h0M267 497h0M350 494h0M519 519h0M268 462h0M329 490h0M295 500h0M570 445h0M559 490h0M645 464h0M435 447h0M229 530h0M558 526h0M349 500h0M196 438h0M558 462h0M448 446h0M344 457h0M439 545h0M494 462h0M256 469h0M356 459h0M197 486h0M223 523h0M493 462h0M285 486h0M509 539h0M502 447h0M478 553h0M307 464h0M438 487h0M229 435h0M480 439h0M578 497h0M358 530h0M558 489h0M455 554h0M478 446h0M264 489h0M550 541h0M583 496h0M259 483h0M482 563h0M379 570h0M286 450h0M581 537h0M386 541h0M305 444h0M428 460h0M450 510h0M578 500h0M328 515h0M542 471h0M445 561h0M219 486h0M317 449h0M481 484h0M255 435h0M329 440h0M232 445h0M508 547h0M613 464h0M360 484h0M514 525h0M210 466h0M268 483h0M376 504h0M211 462h0M548 461h0M461 469h0M293 468h0M517 506h0M460 498h0M576 522h0M460 558h0M375 481h0M606 492h0M470 435h0M343 539h0M248 447h0M337 504h0M513 457h0M453 442h0M389 560h0M485 496h0M393 517h0M355 455h0M330 445h0M526 507h0M423 570h0M601 463h0M472 446h0M312 440h0M270 505h0M537 446h0M345 454h0M455 500h0M258 454h0M657 501h0M339 502h0M389 562h0M290 530h0M634 477h0M349 544h0M278 519h0M383 553h0M422 505h0M456 446h0M473 497h0M406 569h0M450 509h0M553 509h0M314 444h0M319 476h0M536 450h0M480 493h0M582 460h0M434 491h0M227 460h0M598 437h0M538 509h0M262 498h0M513 456h0M500 531h0M419 572h0M230 493h0M489 461h0M404 575h0M463 476h0M372 491h0M303 512h0M232 535h0M272 489h0M299 452h0M583 522h0M235 527h0M376 455h0M206 439h0M382 540h0M308 435h0M411 578h0M464 465h0M271 495h0M302 462h0M276 545h0M584 475h0M278 493h0M457 523h0M528 509h0M329 458h0M568 434h0M616 528h0M444 499h0M452 521h0M452 483h0M465 448h0M617 448h0M575 539h0M309 516h0M524 546h0M269 517h0M362 502h0M338 538h0M222 462h0M271 457h0M609 458h0M540 523h0M213 465h0M293 515h0M468 445h0M340 490h0M519 506h0M555 468h0M466 555h0M447 542h0M236 506h0M590 479h0M642 466h0M581 526h0M488 513h0M389 576h0M488 439h0M529 500h0M348 561h0M421 558h0M560 462h0M231 526h0M499 536h0M606 497h0M526 512h0M234 480h0M577 517h0M549 503h0M360 537h0M271 545h0M366 561h0M448 505h0M568 481h0M280 467h0M585 467h0M519 525h0M479 441h0M602 531h0M283 472h0M502 496h0M546 542h0M613 475h0M352 531h0M296 447h0M575 463h0M464 552h0M464 471h0M370 469h0M334 451h0M193 468h0M433 481h0M202 492h0M470 488h0M222 510h0M555 472h0M269 538h0M496 480h0M307 554h0M235 468h0M227 534h0M543 440h0M467 563h0M345 473h0M515 542h0M343 545h0M339 558h0M193 518h0M373 508h0M574 507h0M607 448h0M480 487h0M295 480h0M324 505h0M479 558h0M647 487h0M339 438h0M479 509h0M526 544h0M445 548h0M277 486h0M334 468h0M522 536h0M478 563h0M476 559h0M464 456h0M598 453h0M473 564h0M520 521h0M533 531h0M528 461h0M428 574h0M451 556h0M316 492h0M357 524h0M546 468h0M642 520h0M488 530h0M200 482h0M423 522h0M314 548h0M276 535h0M541 448h0M293 448h0M378 489h0M534 499h0M512 481h0M621 510h0M472 500h0M471 472h0M359 458h0M188 458h0M437 534h0M475 519h0M548 545h0M465 570h0M503 555h0M389 527h0M529 532h0M505 472h0M239 459h0M290 533h0M569 515h0M544 520h0M316 542h0M374 458h0M299 490h0M508 534h0M577 532h0M223 492h0M362 530h0M442 545h0M527 502h0M275 453h0M234 530h0M610 499h0M442 561h0M495 537h0M428 490h0M552 467h0M662 473h0M334 510h0M267 525h0M573 445h0M605 516h0M445 490h0M450 558h0M606 502h0M492 509h0M395 526h0M578 534h0M429 518h0M514 462h0M214 474h0M208 440h0M506 472h0M249 448h0M490 541h0M648 490h0M474 444h0M242 486h0M522 500h0M246 447h0M423 543h0M332 474h0M551 488h0M418 582h0M333 545h0M381 486h0M371 470h0M546 447h0M472 449h0M510 536h0M532 546h0M527 478h0M525 445h0M501 535h0M278 533h0M576 498h0M624 511h0M597 488h0M287 481h0M206 516h0M452 449h0M556 534h0M499 475h0M274 512h0M597 471h0M258 454h0M227 446h0M190 510h0M538 482h0M479 484h0M355 554h0M516 505h0M298 447h0M437 461h0M379 453h0M320 521h0M467 461h0M367 490h0M316 540h0M312 555h0M505 456h0M278 479h0M232 470h0M569 497h0M216 532h0M393 549h0M295 535h0M616 507h0M527 493h0M614 514h0M457 497h0M345 466h0M508 545h0M528 479h0M455 443h0M547 508h0M536 540h0M528 438h0M211 522h0M535 500h0M379 573h0M356 474h0M621 452h0M218 438h0M626 500h0M414 573h0M476 490h0M580 498h0M462 533h0M370 467h0M469 563h0M430 490h0M202 471h0M246 462h0M322 528h0M328 514h0M663 451h0M364 512h0M344 478h0M658 490h0M572 525h0M342 446h0M598 444h0M404 568h0M594 439h0M244 516h0M480 447h0M372 492h0M341 485h0M533 550h0" stroke="#c9c9c9" stroke-width="13"/>
<path d="M479 486h0M535 443h0M637 493h0M328 527h0M494 542h0M660 507h0M629 483h0M298 465h0M363 437h0M500 502h0M386 536h0M210 475h0M463 554h0M474 530h0M217 513h0M487 439h0M542 539h0M536 529h0M606 511h0M607 515h0M583 475h0M142 441h0M306 530h0M207 486h0M212 530h0M518 551h0M480 495h0M282 524h0M503 547h0M396 535h0M497 507h0M390 479h0M554 531h0M527 549h0M527 532h0M503 461h0M418 569h0M439 497h0M485 502h0M275 453h0M499 467h0M329 473h0M561 532h0M367 499h0M502 557h0M494 550h0M334 538h0M501 532h0M374 485h0M249 531h0M230 488h0M310 474h0M319 540h0M433 454h0M538 502h0M484 505h0M387 520h0M319 494h0M240 469h0M277 507h0M236 466h0M332 462h0M319 541h0M375 469h0M458 504h0M328 448h0M508 547h0M567 472h0M286 528h0M492 473h0M400 533h0M380 510h0M285 452h0M539 473h0M441 501h0M638 520h0M213 469h0M302 473h0M465 465h0M337 516h0M244 444h0M285 443h0M530 446h0M206 481h0M474 451h0M519 503h0M339 557h0M508 536h0M354 441h0M583 456h0M235 509h0M211 502h0M455 559h0M249 525h0M354 534h0M520 527h0M296 521h0M450 507h0M480 442h0M476 525h0M628 440h0M532 437h0M383 566h0M630 465h0M530 544h0M543 456h0M550 458h0M301 482h0M474 506h0M501 548h0M448 440h0M233 523h0M331 552h0M320 516h0M477 481h0M536 548h0M485 460h0M299 532h0M251 523h0M568 490h0M263 502h0M244 462h0M287 505h0M520 532h0M439 564h0M544 548h0M529 469h0M516 443h0M219 499h0M309 533h0M364 454h0M308 507h0M299 446h0M292 465h0M249 447h0M360 453h0M504 464h0M345 502h0M469 451h0M593 443h0M433 497h0M499 438h0M461 505h0M549 522h0M272 507h0M211 444h0M384 535h0M632 445h0M349 557h0M489 472h0M537 464h0M301 455h0M613 500h0M575 437h0M482 476h0M394 555h0M306 527h0M320 455h0M226 480h0M528 539h0M266 496h0M444 477h0M472 568h0M250 451h0M352 528h0M267 497h0M350 494h0M519 519h0M268 462h0M329 490h0M295 500h0M570 445h0M559 490h0M645 464h0M435 447h0M229 530h0M558 526h0M349 500h0M196 438h0M558 462h0M448 446h0M344 457h0M439 545h0M494 462h0M256 469h0M356 459h0M197 486h0M223 523h0M493 462h0M285 486h0M509 539h0M502 447h0M478 553h0M307 464h0M438 487h0M229 435h0M480 439h0M578 497h0M358 530h0M558 489h0M455 554h0M478 446h0M264 489h0M550 541h0M583 496h0M259 483h0M482 563h0M379 570h0M286 450h0M581 537h0M386 541h0M305 444h0M428 460h0M450 510h0M578 500h0M328 515h0M542 471h0M445 561h0M219 486h0M317 449h0M481 484h0M255 435h0M329 440h0M232 445h0M508 547h0M613 464h0M360 484h0M514 525h0M210 466h0M268 483h0M376 504h0M211 462h0M548 461h0M461 469h0M293 468h0M517 506h0M460 498h0M576 522h0M460 558h0M375 481h0M606 492h0M470 435h0M343 539h0M248 447h0M337 504h0M513 457h0M453 442h0M389 560h0M485 496h0M393 517h0M355 455h0M330 445h0M526 507h0M423 570h0M601 463h0M472 446h0M312 440h0M270 505h0M537 446h0M345 454h0M455 500h0M258 454h0M657 501h0M339 502h0M389 562h0M290 530h0M634 477h0M349 544h0M278 519h0M383 553h0M422 505h0M456 446h0M473 497h0M406 569h0M450 509h0M553 509h0M314 444h0M319 476h0M536 450h0M480 493h0M582 460h0M434 491h0M227 460h0M598 437h0M538 509h0M262 498h0M513 456h0M500 531h0M419 572h0M230 493h0M489 461h0M404 575h0M463 476h0M372 491h0M303 512h0M232 535h0M272 489h0M299 452h0M583 522h0M235 527h0M376 455h0M206 439h0M382 540h0M308 435h0M411 578h0M464 465h0M271 495h0M302 462h0M276 545h0M584 475h0M278 493h0M457 523h0M528 509h0M329 458h0M568 434h0M616 528h0M444 499h0M452 521h0M452 483h0M465 448h0M617 448h0M575 539h0M309 516h0M524 546h0M269 517h0M362 502h0M338 538h0M222 462h0M271 457h0M609 458h0M540 523h0M213 465h0M293 515h0M468 445h0M340 490h0M519 506h0M555 468h0M466 555h0M447 542h0M236 506h0M590 479h0M642 466h0M581 526h0M488 513h0M389 576h0M488 439h0M529 500h0M348 561h0M421 558h0M560 462h0M231 526h0M499 536h0M606 497h0M526 512h0M234 480h0M577 517h0M549 503h0M360 537h0M271 545h0M366 561h0M448 505h0M568 481h0M280 467h0M585 467h0M519 525h0M479 441h0M602 531h0M283 472h0M502 496h0M546 542h0M613 475h0M352 531h0M296 447h0M575 463h0M464 552h0M464 471h0M370 469h0M334 451h0M193 468h0M433 481h0M202 492h0M470 488h0M222 510h0M555 472h0M269 538h0M496 480h0M307 554h0M235 468h0M227 534h0M543 440h0M467 563h0M345 473h0M515 542h0M343 545h0M339 558h0M193 518h0M373 508h0M574 507h0M607 448h0M480 487h0M295 480h0M324 505h0M479 558h0M647 487h0M339 438h0M479 509h0M526 544h0M445 548h0M277 486h0M334 468h0M522 536h0M478 563h0M476 559h0M464 456h0M598 453h0M473 564h0M520 521h0M533 531h0M528 461h0M428 574h0M451 556h0M316 492h0M357 524h0M546 468h0M642 520h0M488 530h0M200 482h0M423 522h0M314 548h0M276 535h0M541 448h0M293 448h0M378 489h0M534 499h0M512 481h0M621 510h0M472 500h0M471 472h0M359 458h0M188 458h0M437 534h0M475 519h0M548 545h0M465 570h0M503 555h0M389 527h0M529 532h0M505 472h0M239 459h0M290 533h0M569 515h0M544 520h0M316 542h0M374 458h0M299 490h0M508 534h0M577 532h0M223 492h0M362 530h0M442 545h0M527 502h0M275 453h0M234 530h0M610 499h0M442 561h0M495 537h0M428 490h0M552 467h0M662 473h0M334 510h0M267 525h0M573 445h0M605 516h0M445 490h0M450 558h0M606 502h0M492 509h0M395 526h0M578 534h0M429 518h0M514 462h0M214 474h0M208 440h0M506 472h0M249 448h0M490 541h0M648 490h0M474 444h0M242 486h0M522 500h0M246 447h0M423 543h0M332 474h0M551 488h0M418 582h0M333 545h0M381 486h0M371 470h0M546 447h0M472 449h0M510 536h0M532 546h0M527 478h0M525 445h0M501 535h0M278 533h0M576 498h0M624 511h0M597 488h0M287 481h0M206 516h0M452 449h0M556 534h0M499 475h0M274 512h0M597 471h0M258 454h0M227 446h0M190 510h0M538 482h0M479 484h0M355 554h0M516 505h0M298 447h0M437 461h0M379 453h0M320 521h0M467 461h0M367 490h0M316 540h0M312 555h0M505 456h0M278 479h0M232 470h0M569 497h0M216 532h0M393 549h0M295 535h0M616 507h0M527 493h0M614 514h0M457 497h0M345 466h0M508 545h0M528 479h0M455 443h0M547 508h0M536 540h0M528 438h0M211 522h0M535 500h0M379 573h0M356 474h0M621 452h0M218 438h0M626 500h0M414 573h0M476 490h0M580 498h0M462 533h0M370 467h0M469 563h0M430 490h0M202 471h0M246 462h0M322 528h0M328 514h0M663 451h0M364 512h0M344 478h0M658 490h0M572 525h0M342 446h0M598 444h0M404 568h0M594 439h0M244 516h0M480 447h0M372 492h0M341 485h0M533 550h0" stroke="#afafaf" stroke-width="10.4"/>
<path d="M596 346h0M285 396h0M451 363h0M195 429h0M544 371h0M479 404h0M352 379h0M625 433h0M324 315h0M535 389h0M187 410h0M464 400h0M537 320h0M674 257h0M519 430h0M720 102h0M510 348h0M605 372h0M341 384h0M523 432h0M644 386h0M449 420h0M601 330h0M280 375h0M245 395h0M621 292h0M264 388h0M614 303h0M666 314h0M275 419h0M538 346h0M492 405h0M354 433h0M359 389h0M533 405h0M326 362h0M537 400h0M598 414h0M587 329h0M325 375h0M499 425h0M557 342h0M199 324h0M546 352h0M274 409h0M578 391h0M529 363h0M511 356h0M614 294h0M770 168h0M313 335h0M586 318h0M239 411h0M269 425h0M303 427h0M464 397h0M335 399h0M572 379h0M608 368h0M636 404h0M181 413h0M613 322h0M502 385h0M309 384h0M577 356h0M541 397h0M546 359h0M563 395h0M181 225h0M258 397h0M585 316h0M536 315h0M491 308h0M622 287h0M287 365h0M651 308h0M446 411h0M224 412h0M260 327h0M290 337h0M445 398h0M652 416h0M254 400h0M554 355h0M306 377h0M533 320h0M357 394h0M670 387h0M532 379h0M707 191h0M218 293h0M521 409h0M688 250h0M264 345h0M591 332h0M300 379h0M489 361h0M321 177h0M489 387h0M212 336h0M329 423h0M580 368h0M673 273h0M186 257h0M234 327h0M461 380h0M606 401h0M649 330h0M659 249h0M546 429h0M497 424h0M321 379h0M521 420h0M458 412h0M284 427h0M608 340h0M489 388h0M626 301h0M178 342h0M599 329h0M236 366h0M304 393h0M186 308h0M268 169h0M300 345h0M368 398h0M481 410h0M224 325h0M285 363h0M268 401h0M453 388h0M240 346h0M376 425h0M611 429h0M597 356h0M512 311h0M224 390h0M480 345h0M609 424h0M245 432h0M461 413h0M472 418h0M676 185h0M537 188h0M689 386h0M592 354h0M538 374h0M212 395h0M277 388h0M353 369h0M235 300h0M550 333h0M502 417h0M509 403h0M211 303h0M473 404h0M280 390h0M635 285h0M639 380h0M473 383h0M260 424h0M156 269h0M376 425h0M544 385h0M440 433h0M541 348h0M300 393h0M312 363h0M675 350h0M179 231h0M142 303h0M598 419h0M557 345h0M240 344h0M224 397h0M593 366h0M541 311h0M509 415h0M516 319h0M310 398h0M553 427h0M588 361h0M374 415h0M647 373h0M505 397h0M613 366h0M313 358h0M534 382h0M527 350h0M544 373h0M483 404h0M487 365h0M498 422h0M579 408h0M259 336h0M485 406h0M551 329h0M533 333h0M540 397h0M264 414h0M599 396h0M335 411h0M243 348h0M218 302h0M553 403h0M84 252h0M534 422h0M359 375h0M577 308h0M569 372h0M635 385h0M191 418h0M222 322h0M469 387h0M227 354h0M560 323h0M523 338h0M575 366h0M469 352h0M617 386h0M247 388h0M179 376h0M618 284h0M534 361h0M552 384h0M505 422h0M277 363h0M175 426h0M184 414h0M567 250h0M160 252h0M494 352h0M302 374h0M471 411h0M203 419h0M230 313h0M636 233h0M335 395h0M493 426h0M353 430h0M508 354h0M213 332h0M535 322h0M512 416h0M521 343h0M517 352h0M572 354h0M319 418h0M138 265h0M519 434h0M376 421h0M612 263h0M213 354h0M522 415h0M476 374h0M486 372h0M111 206h0M617 301h0M659 380h0M639 315h0M517 372h0M481 303h0M683 351h0M496 374h0M258 388h0M596 316h0M156 419h0M505 399h0M491 378h0M365 357h0M546 346h0M625 274h0M499 408h0M603 339h0M291 402h0M502 419h0M566 405h0M605 383h0M208 408h0M459 385h0M90 143h0M594 345h0M597 374h0M562 417h0M635 312h0M147 370h0M517 326h0M366 383h0M590 424h0M263 333h0M253 361h0M557 420h0M574 388h0M318 427h0M677 377h0M339 424h0M250 373h0M624 298h0M629 133h0M597 299h0M525 367h0M316 414h0M289 424h0M324 363h0M491 393h0M651 416h0M678 353h0M337 344h0M283 388h0M577 418h0M277 423h0M461 392h0M242 371h0M623 392h0M600 411h0M497 385h0M562 404h0M695 305h0M247 287h0M557 400h0M578 360h0M467 405h0M661 424h0M545 425h0M677 314h0M492 424h0M316 401h0M343 366h0M342 421h0M605 414h0M256 321h0M632 329h0M156 364h0M547 368h0M338 394h0M329 400h0M542 371h0M577 363h0M147 312h0M638 333h0M337 363h0M517 366h0M246 340h0M447 413h0M559 308h0M555 379h0M540 326h0M638 404h0M245 397h0M290 399h0M656 376h0M563 345h0M461 425h0M665 231h0M323 380h0M265 323h0M296 403h0M271 292h0M237 363h0M302 419h0M700 394h0M159 405h0M640 305h0M240 370h0M574 302h0M296 429h0M299 373h0M550 369h0M667 432h0M495 415h0M201 376h0M520 399h0M736 90h0M725 267h0M451 390h0M614 357h0M544 407h0M663 315h0M530 361h0M592 325h0M375 397h0M597 427h0M213 336h0M558 334h0M462 386h0M190 340h0M221 426h0M344 377h0M256 361h0M753 403h0M249 394h0M311 419h0M587 378h0M611 294h0M672 433h0M509 333h0M310 199h0M576 329h0M548 389h0M184 400h0M456 381h0M241 312h0M153 389h0M660 278h0M235 411h0M235 351h0M253 414h0M222 433h0M508 349h0M179 346h0M528 304h0M327 401h0M541 374h0M550 432h0M586 302h0M227 357h0M249 370h0M154 402h0M548 405h0M525 332h0M443 377h0M578 410h0M578 345h0M444 366h0M626 332h0M638 315h0M291 403h0M286 337h0M627 355h0M263 417h0M280 327h0M322 358h0M688 386h0M577 430h0M648 371h0M555 303h0M151 377h0M549 377h0M568 398h0M256 408h0M597 388h0M646 365h0M87 262h0M582 241h0M246 400h0M588 320h0M601 392h0M585 343h0M297 400h0M229 386h0M576 370h0M152 392h0M479 214h0M584 370h0M533 327h0M640 366h0M300 347h0M590 433h0M372 419h0M635 88h0M227 375h0M289 431h0M162 256h0M646 254h0M332 372h0M529 329h0M629 328h0M570 329h0M567 433h0M240 432h0M243 325h0M643 431h0M230 383h0M241 236h0M287 424h0M539 303h0M611 372h0M504 343h0M304 366h0M622 423h0M518 433h0M651 313h0M574 383h0M741 315h0M650 302h0M498 361h0M469 424h0M674 375h0M179 172h0M181 257h0M528 364h0M315 376h0M598 352h0M586 297h0M626 262h0M628 345h0M458 405h0M530 412h0M701 276h0M296 339h0M678 315h0M184 328h0M604 371h0M528 333h0M243 409h0M471 397h0M554 396h0M253 326h0M381 421h0M484 401h0M600 311h0M226 172h0M465 428h0M582 406h0M337 432h0M645 356h0M164 345h0M558 267h0M485 408h0M511 340h0M653 264h0M520 433h0M509 357h0M688 320h0M555 368h0M605 385h0M472 414h0M568 357h0M635 346h0M473 400h0M589 348h0M138 377h0M546 398h0M542 324h0M297 380h0M256 374h0M495 346h0M619 341h0M501 325h0M359 411h0M485 426h0M350 384h0M288 336h0M264 369h0M486 420h0M466 390h0M647 422h0M588 335h0M520 388h0M300 359h0M570 406h0M522 347h0M543 353h0M483 396h0M296 400h0M381 411h0M531 415h0M566 390h0M320 416h0M606 245h0M353 422h0M645 286h0M296 416h0M576 374h0M357 390h0M531 412h0M475 384h0M313 404h0M280 362h0M200 361h0M495 403h0" stroke="#a3c8ec" stroke-width="13"/>
<path d="M596 346h0M285 396h0M451 363h0M195 429h0M544 371h0M479 404h0M352 379h0M625 433h0M324 315h0M535 389h0M187 410h0M464 400h0M537 320h0M674 257h0M519 430h0M720 102h0M510 348h0M605 372h0M341 384h0M523 432h0M644 386h0M449 420h0M601 330h0M280 375h0M245 395h0M621 292h0M264 388h0M614 303h0M666 314h0M275 419h0M538 346h0M492 405h0M354 433h0M359 389h0M533 405h0M326 362h0M537 400h0M598 414h0M587 329h0M325 375h0M499 425h0M557 342h0M199 324h0M546 352h0M274 409h0M578 391h0M529 363h0M511 356h0M614 294h0M770 168h0M313 335h0M586 318h0M239 411h0M269 425h0M303 427h0M464 397h0M335 399h0M572 379h0M608 368h0M636 404h0M181 413h0M613 322h0M502 385h0M309 384h0M577 356h0M541 397h0M546 359h0M563 395h0M181 225h0M258 397h0M585 316h0M536 315h0M491 308h0M622 287h0M287 365h0M651 308h0M446 411h0M224 412h0M260 327h0M290 337h0M445 398h0M652 416h0M254 400h0M554 355h0M306 377h0M533 320h0M357 394h0M670 387h0M532 379h0M707 191h0M218 293h0M521 409h0M688 250h0M264 345h0M591 332h0M300 379h0M489 361h0M321 177h0M489 387h0M212 336h0M329 423h0M580 368h0M673 273h0M186 257h0M234 327h0M461 380h0M606 401h0M649 330h0M659 249h0M546 429h0M497 424h0M321 379h0M521 420h0M458 412h0M284 427h0M608 340h0M489 388h0M626 301h0M178 342h0M599 329h0M236 366h0M304 393h0M186 308h0M268 169h0M300 345h0M368 398h0M481 410h0M224 325h0M285 363h0M268 401h0M453 388h0M240 346h0M376 425h0M611 429h0M597 356h0M512 311h0M224 390h0M480 345h0M609 424h0M245 432h0M461 413h0M472 418h0M676 185h0M537 188h0M689 386h0M592 354h0M538 374h0M212 395h0M277 388h0M353 369h0M235 300h0M550 333h0M502 417h0M509 403h0M211 303h0M473 404h0M280 390h0M635 285h0M639 380h0M473 383h0M260 424h0M156 269h0M376 425h0M544 385h0M440 433h0M541 348h0M300 393h0M312 363h0M675 350h0M179 231h0M142 303h0M598 419h0M557 345h0M240 344h0M224 397h0M593 366h0M541 311h0M509 415h0M516 319h0M310 398h0M553 427h0M588 361h0M374 415h0M647 373h0M505 397h0M613 366h0M313 358h0M534 382h0M527 350h0M544 373h0M483 404h0M487 365h0M498 422h0M579 408h0M259 336h0M485 406h0M551 329h0M533 333h0M540 397h0M264 414h0M599 396h0M335 411h0M243 348h0M218 302h0M553 403h0M84 252h0M534 422h0M359 375h0M577 308h0M569 372h0M635 385h0M191 418h0M222 322h0M469 387h0M227 354h0M560 323h0M523 338h0M575 366h0M469 352h0M617 386h0M247 388h0M179 376h0M618 284h0M534 361h0M552 384h0M505 422h0M277 363h0M175 426h0M184 414h0M567 250h0M160 252h0M494 352h0M302 374h0M471 411h0M203 419h0M230 313h0M636 233h0M335 395h0M493 426h0M353 430h0M508 354h0M213 332h0M535 322h0M512 416h0M521 343h0M517 352h0M572 354h0M319 418h0M138 265h0M519 434h0M376 421h0M612 263h0M213 354h0M522 415h0M476 374h0M486 372h0M111 206h0M617 301h0M659 380h0M639 315h0M517 372h0M481 303h0M683 351h0M496 374h0M258 388h0M596 316h0M156 419h0M505 399h0M491 378h0M365 357h0M546 346h0M625 274h0M499 408h0M603 339h0M291 402h0M502 419h0M566 405h0M605 383h0M208 408h0M459 385h0M90 143h0M594 345h0M597 374h0M562 417h0M635 312h0M147 370h0M517 326h0M366 383h0M590 424h0M263 333h0M253 361h0M557 420h0M574 388h0M318 427h0M677 377h0M339 424h0M250 373h0M624 298h0M629 133h0M597 299h0M525 367h0M316 414h0M289 424h0M324 363h0M491 393h0M651 416h0M678 353h0M337 344h0M283 388h0M577 418h0M277 423h0M461 392h0M242 371h0M623 392h0M600 411h0M497 385h0M562 404h0M695 305h0M247 287h0M557 400h0M578 360h0M467 405h0M661 424h0M545 425h0M677 314h0M492 424h0M316 401h0M343 366h0M342 421h0M605 414h0M256 321h0M632 329h0M156 364h0M547 368h0M338 394h0M329 400h0M542 371h0M577 363h0M147 312h0M638 333h0M337 363h0M517 366h0M246 340h0M447 413h0M559 308h0M555 379h0M540 326h0M638 404h0M245 397h0M290 399h0M656 376h0M563 345h0M461 425h0M665 231h0M323 380h0M265 323h0M296 403h0M271 292h0M237 363h0M302 419h0M700 394h0M159 405h0M640 305h0M240 370h0M574 302h0M296 429h0M299 373h0M550 369h0M667 432h0M495 415h0M201 376h0M520 399h0M736 90h0M725 267h0M451 390h0M614 357h0M544 407h0M663 315h0M530 361h0M592 325h0M375 397h0M597 427h0M213 336h0M558 334h0M462 386h0M190 340h0M221 426h0M344 377h0M256 361h0M753 403h0M249 394h0M311 419h0M587 378h0M611 294h0M672 433h0M509 333h0M310 199h0M576 329h0M548 389h0M184 400h0M456 381h0M241 312h0M153 389h0M660 278h0M235 411h0M235 351h0M253 414h0M222 433h0M508 349h0M179 346h0M528 304h0M327 401h0M541 374h0M550 432h0M586 302h0M227 357h0M249 370h0M154 402h0M548 405h0M525 332h0M443 377h0M578 410h0M578 345h0M444 366h0M626 332h0M638 315h0M291 403h0M286 337h0M627 355h0M263 417h0M280 327h0M322 358h0M688 386h0M577 430h0M648 371h0M555 303h0M151 377h0M549 377h0M568 398h0M256 408h0M597 388h0M646 365h0M87 262h0M582 241h0M246 400h0M588 320h0M601 392h0M585 343h0M297 400h0M229 386h0M576 370h0M152 392h0M479 214h0M584 370h0M533 327h0M640 366h0M300 347h0M590 433h0M372 419h0M635 88h0M227 375h0M289 431h0M162 256h0M646 254h0M332 372h0M529 329h0M629 328h0M570 329h0M567 433h0M240 432h0M243 325h0M643 431h0M230 383h0M241 236h0M287 424h0M539 303h0M611 372h0M504 343h0M304 366h0M622 423h0M518 433h0M651 313h0M574 383h0M741 315h0M650 302h0M498 361h0M469 424h0M674 375h0M179 172h0M181 257h0M528 364h0M315 376h0M598 352h0M586 297h0M626 262h0M628 345h0M458 405h0M530 412h0M701 276h0M296 339h0M678 315h0M184 328h0M604 371h0M528 333h0M243 409h0M471 397h0M554 396h0M253 326h0M381 421h0M484 401h0M600 311h0M226 172h0M465 428h0M582 406h0M337 432h0M645 356h0M164 345h0M558 267h0M485 408h0M511 340h0M653 264h0M520 433h0M509 357h0M688 320h0M555 368h0M605 385h0M472 414h0M568 357h0M635 346h0M473 400h0M589 348h0M138 377h0M546 398h0M542 324h0M297 380h0M256 374h0M495 346h0M619 341h0M501 325h0M359 411h0M485 426h0M350 384h0M288 336h0M264 369h0M486 420h0M466 390h0M647 422h0M588 335h0M520 388h0M300 359h0M570 406h0M522 347h0M543 353h0M483 396h0M296 400h0M381 411h0M531 415h0M566 390h0M320 416h0M606 245h0M353 422h0M645 286h0M296 416h0M576 374h0M357 390h0M531 412h0M475 384h0M313 404h0M280 362h0M200 361h0M495 403h0" stroke="#689fd5" stroke-width="10.4"/>
<path d="M613 334h0M557 406h0M611 299h0M675 410h0M218 353h0M605 320h0M183 380h0M628 286h0M565 341h0M789 403h0M200 415h0M207 404h0M707 420h0M226 401h0M575 366h0M574 398h0M543 382h0M187 306h0M170 362h0M297 347h0M271 254h0M603 293h0M538 327h0M277 415h0M510 312h0M569 258h0M516 407h0M319 399h0M560 190h0M376 396h0M321 369h0M553 385h0M572 347h0M326 388h0M279 337h0M340 395h0M465 384h0M656 320h0M318 400h0M269 417h0M478 422h0M318 401h0M461 418h0M491 384h0M621 265h0M449 368h0M244 421h0M608 378h0M618 395h0M295 401h0M566 345h0M242 383h0M245 363h0M608 383h0M287 421h0M250 331h0M466 355h0M566 357h0M453 407h0M585 419h0M465 422h0M542 425h0M577 302h0M481 287h0M494 357h0M471 426h0M451 401h0M600 361h0M683 277h0M481 348h0M666 384h0M269 291h0M253 377h0M602 249h0M333 407h0M370 382h0M557 404h0M354 342h0M575 379h0M643 357h0M590 293h0M603 318h0M79 321h0M537 364h0M269 417h0M356 426h0M488 418h0M575 385h0M604 389h0M534 359h0M282 370h0M204 337h0M450 372h0M584 306h0M450 425h0M690 325h0M274 409h0M629 390h0M500 361h0M552 329h0M217 309h0M591 305h0M601 324h0M530 391h0M622 388h0M572 352h0M346 403h0M585 398h0M261 390h0M212 363h0M577 323h0M300 408h0M224 344h0M153 386h0M527 336h0M267 421h0M368 419h0M610 295h0M152 424h0M272 384h0M231 430h0M362 409h0M182 273h0M610 298h0M178 328h0M246 414h0M339 277h0M548 378h0M515 404h0M662 374h0M331 402h0M449 368h0M592 330h0M589 427h0M442 368h0M622 396h0M151 313h0M596 427h0M366 423h0M243 335h0M233 362h0M461 431h0M512 389h0M328 400h0M274 407h0M723 394h0M222 270h0M671 423h0M190 326h0M476 359h0M566 376h0M507 396h0M608 177h0M96 330h0M272 341h0M284 351h0M617 394h0M307 405h0M445 430h0M510 318h0M200 319h0M295 411h0M594 353h0M566 281h0M249 326h0M251 338h0M355 379h0M750 218h0M363 412h0M442 380h0M169 280h0M492 396h0M604 377h0M603 334h0M458 393h0M498 331h0M584 274h0M554 356h0M378 433h0M743 156h0M649 233h0M245 404h0M373 417h0M512 372h0M448 384h0M294 412h0M615 386h0M573 415h0M338 422h0M590 343h0M251 335h0M309 382h0M605 415h0M507 375h0M221 248h0M603 417h0M195 345h0M621 314h0M547 323h0M591 263h0M618 299h0M225 324h0M676 351h0M464 366h0M333 379h0M669 333h0M494 357h0M534 267h0M195 295h0M671 359h0M489 404h0M361 428h0M261 433h0M465 379h0M571 403h0M729 189h0M220 357h0M281 375h0M483 385h0M370 414h0M603 404h0M229 347h0M311 393h0M604 289h0M595 298h0M455 379h0M280 390h0M184 396h0M177 378h0M582 261h0M208 299h0M496 374h0M644 328h0M233 316h0M528 329h0M167 269h0M570 349h0M226 382h0M561 398h0M272 404h0M563 365h0M648 267h0M682 234h0M533 388h0M291 417h0M542 386h0M561 376h0M619 289h0M627 328h0M304 433h0M614 397h0M260 409h0M262 368h0M470 386h0M542 334h0M583 358h0M254 341h0M595 368h0M243 406h0M296 378h0M243 405h0M263 411h0M576 434h0M299 422h0M685 282h0M505 400h0M500 374h0M355 407h0M471 353h0M610 326h0M167 246h0M799 174h0M543 412h0M438 399h0M555 432h0M585 315h0M277 417h0M258 359h0M236 373h0M233 312h0M584 285h0M311 386h0M557 365h0M466 411h0M263 356h0M341 382h0M619 334h0M502 412h0M657 270h0M234 299h0M173 360h0M570 300h0M550 276h0M589 294h0M156 381h0M633 361h0M369 386h0M208 315h0M585 326h0M260 424h0M547 418h0M270 381h0M677 317h0M580 280h0M628 352h0M623 256h0M612 287h0M210 390h0M199 416h0M647 346h0M303 406h0M284 339h0M207 323h0M655 289h0M716 156h0M206 321h0M233 374h0M278 301h0M521 335h0M502 372h0M501 331h0M335 390h0M516 350h0M691 203h0M265 377h0M543 409h0M578 414h0M610 393h0M242 373h0M452 431h0M370 388h0M488 394h0M212 419h0M275 405h0M662 405h0M207 257h0M572 416h0M537 390h0M504 379h0M324 344h0M251 400h0M189 408h0M644 320h0M662 385h0M317 338h0M635 406h0M189 223h0M477 385h0M260 419h0M657 293h0M688 413h0M579 398h0M499 426h0M800 303h0M446 416h0M505 359h0M152 332h0M557 406h0M250 309h0M704 334h0M593 351h0M604 326h0M660 418h0M688 362h0M572 392h0M271 420h0M264 397h0M755 307h0M212 300h0M587 417h0M241 267h0M338 358h0M235 412h0M173 398h0M194 362h0M351 401h0M486 415h0M157 363h0M363 426h0M498 380h0M442 375h0M563 360h0M499 351h0M250 429h0M536 427h0M319 373h0M582 195h0M513 413h0M535 407h0M189 431h0M322 402h0M531 339h0M558 367h0M590 394h0M516 401h0M534 428h0M179 430h0M529 392h0M312 388h0M460 408h0M259 403h0M216 422h0M264 374h0M170 355h0M581 369h0M669 396h0M248 307h0M289 315h0M537 431h0M611 355h0M205 316h0M334 433h0M250 362h0M608 414h0M506 378h0M555 385h0M586 408h0M381 411h0M233 391h0M496 343h0M617 351h0M569 274h0M456 311h0M248 337h0M785 236h0M265 359h0M498 399h0M260 351h0M578 312h0M557 326h0M214 414h0M143 284h0M476 355h0M488 380h0M555 417h0M369 417h0M582 352h0M252 429h0M636 374h0M52 232h0M654 309h0M641 275h0M592 402h0M301 417h0M620 322h0M183 399h0M236 361h0M655 363h0M622 316h0M292 307h0M575 375h0M281 427h0M365 418h0M461 422h0M621 278h0M340 395h0M285 409h0M236 213h0M569 318h0M672 403h0M226 355h0M627 343h0M557 410h0M312 386h0M497 379h0M635 337h0M511 390h0M536 334h0M198 332h0M305 347h0M506 422h0M640 378h0M456 408h0M654 356h0M516 365h0M497 358h0M480 390h0M246 361h0M624 401h0M187 398h0M628 377h0M641 277h0M483 389h0M668 406h0M375 391h0M172 365h0M486 373h0M667 387h0M592 421h0M338 428h0M543 299h0M614 386h0M671 356h0M576 341h0M258 347h0M566 320h0M662 295h0M509 417h0M632 267h0M175 357h0M293 399h0M352 420h0M311 363h0M287 336h0M588 304h0M465 339h0M723 135h0M587 395h0M248 310h0M307 362h0M664 391h0M600 366h0M601 310h0M279 353h0M500 385h0M492 404h0M312 278h0M519 342h0M547 385h0M720 216h0M495 408h0M325 390h0M617 386h0M628 276h0M238 359h0M299 237h0M501 322h0M703 244h0M589 364h0M505 358h0M497 397h0M488 352h0M328 229h0M308 360h0M662 298h0M557 340h0M207 223h0M591 405h0M177 330h0M487 345h0M613 304h0M302 366h0M457 398h0M620 400h0M259 317h0M187 371h0M485 423h0M518 414h0M284 331h0M555 348h0M279 408h0M520 402h0M585 340h0M488 430h0M564 365h0M528 380h0M674 311h0M189 340h0M681 279h0M568 354h0M475 396h0M656 427h0M525 295h0M338 406h0M597 298h0M193 296h0M579 356h0M582 319h0M529 370h0M564 375h0M362 421h0" stroke="#a3c8ec" stroke-width="13"/>
<path d="M613 334h0M557 406h0M611 299h0M675 410h0M218 353h0M605 320h0M183 380h0M628 286h0M565 341h0M789 403h0M200 415h0M207 404h0M707 420h0M226 401h0M575 366h0M574 398h0M543 382h0M187 306h0M170 362h0M297 347h0M271 254h0M603 293h0M538 327h0M277 415h0M510 312h0M569 258h0M516 407h0M319 399h0M560 190h0M376 396h0M321 369h0M553 385h0M572 347h0M326 388h0M279 337h0M340 395h0M465 384h0M656 320h0M318 400h0M269 417h0M478 422h0M318 401h0M461 418h0M491 384h0M621 265h0M449 368h0M244 421h0M608 378h0M618 395h0M295 401h0M566 345h0M242 383h0M245 363h0M608 383h0M287 421h0M250 331h0M466 355h0M566 357h0M453 407h0M585 419h0M465 422h0M542 425h0M577 302h0M481 287h0M494 357h0M471 426h0M451 401h0M600 361h0M683 277h0M481 348h0M666 384h0M269 291h0M253 377h0M602 249h0M333 407h0M370 382h0M557 404h0M354 342h0M575 379h0M643 357h0M590 293h0M603 318h0M79 321h0M537 364h0M269 417h0M356 426h0M488 418h0M575 385h0M604 389h0M534 359h0M282 370h0M204 337h0M450 372h0M584 306h0M450 425h0M690 325h0M274 409h0M629 390h0M500 361h0M552 329h0M217 309h0M591 305h0M601 324h0M530 391h0M622 388h0M572 352h0M346 403h0M585 398h0M261 390h0M212 363h0M577 323h0M300 408h0M224 344h0M153 386h0M527 336h0M267 421h0M368 419h0M610 295h0M152 424h0M272 384h0M231 430h0M362 409h0M182 273h0M610 298h0M178 328h0M246 414h0M339 277h0M548 378h0M515 404h0M662 374h0M331 402h0M449 368h0M592 330h0M589 427h0M442 368h0M622 396h0M151 313h0M596 427h0M366 423h0M243 335h0M233 362h0M461 431h0M512 389h0M328 400h0M274 407h0M723 394h0M222 270h0M671 423h0M190 326h0M476 359h0M566 376h0M507 396h0M608 177h0M96 330h0M272 341h0M284 351h0M617 394h0M307 405h0M445 430h0M510 318h0M200 319h0M295 411h0M594 353h0M566 281h0M249 326h0M251 338h0M355 379h0M750 218h0M363 412h0M442 380h0M169 280h0M492 396h0M604 377h0M603 334h0M458 393h0M498 331h0M584 274h0M554 356h0M378 433h0M743 156h0M649 233h0M245 404h0M373 417h0M512 372h0M448 384h0M294 412h0M615 386h0M573 415h0M338 422h0M590 343h0M251 335h0M309 382h0M605 415h0M507 375h0M221 248h0M603 417h0M195 345h0M621 314h0M547 323h0M591 263h0M618 299h0M225 324h0M676 351h0M464 366h0M333 379h0M669 333h0M494 357h0M534 267h0M195 295h0M671 359h0M489 404h0M361 428h0M261 433h0M465 379h0M571 403h0M729 189h0M220 357h0M281 375h0M483 385h0M370 414h0M603 404h0M229 347h0M311 393h0M604 289h0M595 298h0M455 379h0M280 390h0M184 396h0M177 378h0M582 261h0M208 299h0M496 374h0M644 328h0M233 316h0M528 329h0M167 269h0M570 349h0M226 382h0M561 398h0M272 404h0M563 365h0M648 267h0M682 234h0M533 388h0M291 417h0M542 386h0M561 376h0M619 289h0M627 328h0M304 433h0M614 397h0M260 409h0M262 368h0M470 386h0M542 334h0M583 358h0M254 341h0M595 368h0M243 406h0M296 378h0M243 405h0M263 411h0M576 434h0M299 422h0M685 282h0M505 400h0M500 374h0M355 407h0M471 353h0M610 326h0M167 246h0M799 174h0M543 412h0M438 399h0M555 432h0M585 315h0M277 417h0M258 359h0M236 373h0M233 312h0M584 285h0M311 386h0M557 365h0M466 411h0M263 356h0M341 382h0M619 334h0M502 412h0M657 270h0M234 299h0M173 360h0M570 300h0M550 276h0M589 294h0M156 381h0M633 361h0M369 386h0M208 315h0M585 326h0M260 424h0M547 418h0M270 381h0M677 317h0M580 280h0M628 352h0M623 256h0M612 287h0M210 390h0M199 416h0M647 346h0M303 406h0M284 339h0M207 323h0M655 289h0M716 156h0M206 321h0M233 374h0M278 301h0M521 335h0M502 372h0M501 331h0M335 390h0M516 350h0M691 203h0M265 377h0M543 409h0M578 414h0M610 393h0M242 373h0M452 431h0M370 388h0M488 394h0M212 419h0M275 405h0M662 405h0M207 257h0M572 416h0M537 390h0M504 379h0M324 344h0M251 400h0M189 408h0M644 320h0M662 385h0M317 338h0M635 406h0M189 223h0M477 385h0M260 419h0M657 293h0M688 413h0M579 398h0M499 426h0M800 303h0M446 416h0M505 359h0M152 332h0M557 406h0M250 309h0M704 334h0M593 351h0M604 326h0M660 418h0M688 362h0M572 392h0M271 420h0M264 397h0M755 307h0M212 300h0M587 417h0M241 267h0M338 358h0M235 412h0M173 398h0M194 362h0M351 401h0M486 415h0M157 363h0M363 426h0M498 380h0M442 375h0M563 360h0M499 351h0M250 429h0M536 427h0M319 373h0M582 195h0M513 413h0M535 407h0M189 431h0M322 402h0M531 339h0M558 367h0M590 394h0M516 401h0M534 428h0M179 430h0M529 392h0M312 388h0M460 408h0M259 403h0M216 422h0M264 374h0M170 355h0M581 369h0M669 396h0M248 307h0M289 315h0M537 431h0M611 355h0M205 316h0M334 433h0M250 362h0M608 414h0M506 378h0M555 385h0M586 408h0M381 411h0M233 391h0M496 343h0M617 351h0M569 274h0M456 311h0M248 337h0M785 236h0M265 359h0M498 399h0M260 351h0M578 312h0M557 326h0M214 414h0M143 284h0M476 355h0M488 380h0M555 417h0M369 417h0M582 352h0M252 429h0M636 374h0M52 232h0M654 309h0M641 275h0M592 402h0M301 417h0M620 322h0M183 399h0M236 361h0M655 363h0M622 316h0M292 307h0M575 375h0M281 427h0M365 418h0M461 422h0M621 278h0M340 395h0M285 409h0M236 213h0M569 318h0M672 403h0M226 355h0M627 343h0M557 410h0M312 386h0M497 379h0M635 337h0M511 390h0M536 334h0M198 332h0M305 347h0M506 422h0M640 378h0M456 408h0M654 356h0M516 365h0M497 358h0M480 390h0M246 361h0M624 401h0M187 398h0M628 377h0M641 277h0M483 389h0M668 406h0M375 391h0M172 365h0M486 373h0M667 387h0M592 421h0M338 428h0M543 299h0M614 386h0M671 356h0M576 341h0M258 347h0M566 320h0M662 295h0M509 417h0M632 267h0M175 357h0M293 399h0M352 420h0M311 363h0M287 336h0M588 304h0M465 339h0M723 135h0M587 395h0M248 310h0M307 362h0M664 391h0M600 366h0M601 310h0M279 353h0M500 385h0M492 404h0M312 278h0M519 342h0M547 385h0M720 216h0M495 408h0M325 390h0M617 386h0M628 276h0M238 359h0M299 237h0M501 322h0M703 244h0M589 364h0M505 358h0M497 397h0M488 352h0M328 229h0M308 360h0M662 298h0M557 340h0M207 223h0M591 405h0M177 330h0M487 345h0M613 304h0M302 366h0M457 398h0M620 400h0M259 317h0M187 371h0M485 423h0M518 414h0M284 331h0M555 348h0M279 408h0M520 402h0M585 340h0M488 430h0M564 365h0M528 380h0M674 311h0M189 340h0M681 279h0M568 354h0M475 396h0M656 427h0M525 295h0M338 406h0M597 298h0M193 296h0M579 356h0M582 319h0M529 370h0M564 375h0M362 421h0" stroke="#689fd5" stroke-width="10.4"/>
<path d="M556 377h0M364 423h0M335 399h0M167 372h0M298 320h0M683 313h0M579 382h0M574 283h0M681 316h0M536 401h0M449 427h0M295 314h0M577 428h0M281 342h0M618 229h0M253 291h0M194 326h0M517 420h0M199 232h0M663 292h0M615 214h0M256 369h0M337 397h0M542 391h0M567 405h0M583 208h0M379 387h0M224 308h0M499 282h0M367 384h0M335 396h0M377 419h0M184 203h0M619 345h0M458 319h0M534 354h0M170 343h0M208 388h0M153 286h0M607 402h0M249 409h0M550 407h0M515 373h0M221 344h0M296 407h0M658 420h0M562 383h0M270 417h0M245 403h0M645 394h0M557 376h0M529 376h0M508 363h0M263 391h0M596 429h0M536 384h0M516 363h0M268 365h0M547 421h0M506 397h0M293 324h0M205 424h0M478 348h0M307 384h0M553 296h0M494 358h0M691 432h0M609 378h0M587 355h0M540 432h0M510 400h0M259 367h0M623 255h0M686 347h0M263 331h0M466 331h0M674 374h0M554 351h0M547 397h0M450 415h0M196 324h0M186 423h0M687 360h0M149 198h0M445 375h0M529 367h0M472 371h0M568 317h0M261 356h0M562 417h0M209 331h0M216 244h0M209 369h0M617 262h0M622 324h0M573 375h0M487 394h0M571 422h0M506 402h0M486 418h0M227 325h0M332 403h0M225 408h0M577 316h0M644 429h0M544 412h0M509 345h0M657 271h0M583 332h0M574 419h0M493 368h0M593 305h0M613 288h0M239 346h0M202 173h0M254 381h0M532 277h0M599 349h0M505 355h0M605 424h0M199 331h0M622 319h0M629 415h0M620 314h0M538 318h0M559 382h0M448 349h0M267 374h0M512 378h0M614 260h0M590 325h0M211 295h0M468 388h0M461 336h0M471 407h0M494 356h0M299 426h0M541 420h0M594 294h0M564 428h0M535 433h0M455 362h0M455 410h0M162 245h0M493 347h0M348 378h0M573 371h0M594 291h0M588 354h0M531 387h0M204 358h0M640 326h0M340 364h0M222 406h0M551 422h0M328 395h0M609 310h0M578 309h0M560 386h0M581 388h0M264 409h0M476 306h0M338 364h0M570 414h0M576 355h0M686 367h0M247 428h0M250 390h0M316 430h0M570 375h0M224 346h0M287 373h0M692 327h0M242 421h0M438 402h0M530 379h0M311 311h0M601 389h0M470 402h0M308 386h0M614 298h0M617 339h0M296 339h0M304 431h0M159 360h0M373 404h0M497 402h0M619 402h0M465 360h0M228 372h0M169 255h0M706 344h0M596 423h0M515 398h0M611 392h0M202 300h0M474 405h0M507 390h0M286 391h0M465 413h0M665 376h0M584 362h0M532 385h0M218 362h0M471 429h0M488 408h0M574 423h0M267 390h0M547 369h0M441 377h0M164 337h0M567 372h0M595 423h0M283 429h0M224 400h0M130 225h0M661 427h0M444 354h0M356 425h0M602 412h0M447 419h0M626 337h0M606 297h0M605 419h0M304 393h0M228 333h0M557 363h0M325 380h0M238 401h0M562 197h0M120 236h0M286 389h0M486 413h0M633 385h0M557 312h0M674 353h0M514 395h0M642 257h0M628 294h0M554 343h0M574 356h0M488 389h0M584 386h0M363 425h0M495 390h0M584 373h0M523 388h0M545 363h0M598 354h0M621 369h0M237 232h0M562 386h0M544 383h0M149 274h0M492 407h0M359 427h0M255 397h0M633 358h0M195 262h0M450 397h0M573 398h0M382 418h0M596 412h0M237 312h0M284 414h0M591 380h0M663 428h0M294 406h0M593 295h0M583 336h0M670 387h0M469 403h0M692 327h0M376 416h0M496 378h0M583 347h0M442 415h0M568 352h0M562 349h0M320 351h0M510 409h0M656 325h0M637 356h0M362 412h0M587 361h0M456 345h0M351 325h0M443 371h0M488 375h0M465 392h0M765 212h0M527 357h0M328 331h0M594 434h0M277 412h0M589 267h0M599 407h0M311 403h0M607 340h0M618 347h0M308 412h0M513 399h0M282 429h0M736 136h0M539 419h0M309 422h0M625 310h0M272 381h0M483 346h0M597 306h0M472 389h0M528 388h0M362 408h0M216 195h0M615 355h0M475 422h0M287 386h0M493 362h0M286 394h0M615 320h0M520 397h0M648 255h0M259 354h0M361 390h0M344 396h0M628 293h0M345 399h0M262 337h0M648 278h0M282 401h0M330 420h0M524 368h0M553 290h0M502 394h0M508 303h0M328 434h0M635 397h0M630 424h0M493 432h0M291 427h0M573 414h0M244 407h0M571 377h0M329 372h0M526 414h0M231 298h0M488 383h0M321 402h0M667 377h0M312 350h0M549 366h0M330 409h0M267 368h0M534 366h0M470 412h0M303 375h0M516 243h0M233 344h0M697 426h0M534 333h0M370 379h0M659 334h0M255 401h0M530 404h0M718 58h0M380 415h0M556 401h0M600 307h0M649 270h0M227 366h0M598 322h0M289 414h0M573 372h0M572 401h0M371 395h0M329 355h0M626 343h0M460 375h0M482 352h0M280 367h0M537 389h0M486 360h0M637 236h0M534 418h0M297 274h0M568 374h0M636 365h0M562 414h0M574 367h0M255 390h0M564 420h0M618 386h0M231 370h0M652 253h0M218 383h0M607 423h0M521 355h0M626 402h0M567 395h0M237 335h0M565 369h0M643 410h0M259 210h0M516 245h0M480 359h0M589 307h0M454 414h0M786 307h0M225 355h0M476 398h0M488 344h0M496 298h0M252 349h0M634 434h0M660 358h0M295 412h0M580 355h0M441 408h0M289 394h0M437 422h0M581 406h0M649 284h0M641 421h0M532 382h0M562 307h0M437 411h0M622 329h0M287 339h0M318 412h0M664 362h0M485 351h0M629 291h0M470 397h0M517 403h0M453 432h0M181 353h0M492 409h0M267 395h0M513 369h0M474 368h0M611 420h0M440 400h0M358 409h0M608 136h0M579 302h0M634 200h0M498 345h0M93 285h0M625 395h0M298 353h0M580 424h0M292 401h0M610 400h0M615 385h0M671 260h0M590 341h0M256 430h0M235 313h0M602 408h0M342 422h0M264 372h0M480 424h0M513 423h0M491 321h0M269 286h0M561 352h0M538 260h0M224 403h0M633 338h0M524 348h0M600 415h0M320 357h0M510 283h0M592 341h0M510 416h0M529 427h0M313 377h0M303 325h0M182 325h0M585 421h0M609 319h0M221 380h0M125 348h0M446 413h0M286 342h0M311 368h0M274 415h0M234 408h0M596 411h0M435 423h0M641 234h0M587 419h0M184 370h0M267 366h0M273 269h0M240 318h0M456 424h0M586 366h0M140 426h0M510 328h0M248 394h0M577 360h0M298 413h0M281 361h0M339 400h0M498 398h0M630 286h0M575 345h0M351 423h0M604 429h0M196 320h0M467 390h0M619 284h0M532 405h0M569 369h0M444 429h0M194 143h0M238 350h0M635 375h0M259 408h0M585 322h0M485 427h0M347 368h0M568 331h0M210 370h0M180 314h0M246 328h0M664 411h0M651 384h0M776 86h0M319 356h0M196 380h0M457 374h0M187 388h0M319 427h0M556 370h0M532 364h0M557 361h0M263 321h0M556 401h0M234 322h0M579 336h0M293 426h0M459 418h0M325 397h0M446 397h0M499 373h0M266 395h0M293 412h0M573 398h0M280 351h0M464 394h0M611 302h0M514 343h0M487 348h0M638 269h0M626 420h0M671 433h0M248 351h0M572 302h0M498 374h0M476 392h0M370 430h0M454 420h0M287 361h0M616 285h0M465 408h0M234 421h0M601 299h0M496 429h0M582 302h0" stroke="#a3c8ec" stroke-width="13"/>
<path d="M556 377h0M364 423h0M335 399h0M167 372h0M298 320h0M683 313h0M579 382h0M574 283h0M681 316h0M536 401h0M449 427h0M295 314h0M577 428h0M281 342h0M618 229h0M253 291h0M194 326h0M517 420h0M199 232h0M663 292h0M615 214h0M256 369h0M337 397h0M542 391h0M567 405h0M583 208h0M379 387h0M224 308h0M499 282h0M367 384h0M335 396h0M377 419h0M184 203h0M619 345h0M458 319h0M534 354h0M170 343h0M208 388h0M153 286h0M607 402h0M249 409h0M550 407h0M515 373h0M221 344h0M296 407h0M658 420h0M562 383h0M270 417h0M245 403h0M645 394h0M557 376h0M529 376h0M508 363h0M263 391h0M596 429h0M536 384h0M516 363h0M268 365h0M547 421h0M506 397h0M293 324h0M205 424h0M478 348h0M307 384h0M553 296h0M494 358h0M691 432h0M609 378h0M587 355h0M540 432h0M510 400h0M259 367h0M623 255h0M686 347h0M263 331h0M466 331h0M674 374h0M554 351h0M547 397h0M450 415h0M196 324h0M186 423h0M687 360h0M149 198h0M445 375h0M529 367h0M472 371h0M568 317h0M261 356h0M562 417h0M209 331h0M216 244h0M209 369h0M617 262h0M622 324h0M573 375h0M487 394h0M571 422h0M506 402h0M486 418h0M227 325h0M332 403h0M225 408h0M577 316h0M644 429h0M544 412h0M509 345h0M657 271h0M583 332h0M574 419h0M493 368h0M593 305h0M613 288h0M239 346h0M202 173h0M254 381h0M532 277h0M599 349h0M505 355h0M605 424h0M199 331h0M622 319h0M629 415h0M620 314h0M538 318h0M559 382h0M448 349h0M267 374h0M512 378h0M614 260h0M590 325h0M211 295h0M468 388h0M461 336h0M471 407h0M494 356h0M299 426h0M541 420h0M594 294h0M564 428h0M535 433h0M455 362h0M455 410h0M162 245h0M493 347h0M348 378h0M573 371h0M594 291h0M588 354h0M531 387h0M204 358h0M640 326h0M340 364h0M222 406h0M551 422h0M328 395h0M609 310h0M578 309h0M560 386h0M581 388h0M264 409h0M476 306h0M338 364h0M570 414h0M576 355h0M686 367h0M247 428h0M250 390h0M316 430h0M570 375h0M224 346h0M287 373h0M692 327h0M242 421h0M438 402h0M530 379h0M311 311h0M601 389h0M470 402h0M308 386h0M614 298h0M617 339h0M296 339h0M304 431h0M159 360h0M373 404h0M497 402h0M619 402h0M465 360h0M228 372h0M169 255h0M706 344h0M596 423h0M515 398h0M611 392h0M202 300h0M474 405h0M507 390h0M286 391h0M465 413h0M665 376h0M584 362h0M532 385h0M218 362h0M471 429h0M488 408h0M574 423h0M267 390h0M547 369h0M441 377h0M164 337h0M567 372h0M595 423h0M283 429h0M224 400h0M130 225h0M661 427h0M444 354h0M356 425h0M602 412h0M447 419h0M626 337h0M606 297h0M605 419h0M304 393h0M228 333h0M557 363h0M325 380h0M238 401h0M562 197h0M120 236h0M286 389h0M486 413h0M633 385h0M557 312h0M674 353h0M514 395h0M642 257h0M628 294h0M554 343h0M574 356h0M488 389h0M584 386h0M363 425h0M495 390h0M584 373h0M523 388h0M545 363h0M598 354h0M621 369h0M237 232h0M562 386h0M544 383h0M149 274h0M492 407h0M359 427h0M255 397h0M633 358h0M195 262h0M450 397h0M573 398h0M382 418h0M596 412h0M237 312h0M284 414h0M591 380h0M663 428h0M294 406h0M593 295h0M583 336h0M670 387h0M469 403h0M692 327h0M376 416h0M496 378h0M583 347h0M442 415h0M568 352h0M562 349h0M320 351h0M510 409h0M656 325h0M637 356h0M362 412h0M587 361h0M456 345h0M351 325h0M443 371h0M488 375h0M465 392h0M765 212h0M527 357h0M328 331h0M594 434h0M277 412h0M589 267h0M599 407h0M311 403h0M607 340h0M618 347h0M308 412h0M513 399h0M282 429h0M736 136h0M539 419h0M309 422h0M625 310h0M272 381h0M483 346h0M597 306h0M472 389h0M528 388h0M362 408h0M216 195h0M615 355h0M475 422h0M287 386h0M493 362h0M286 394h0M615 320h0M520 397h0M648 255h0M259 354h0M361 390h0M344 396h0M628 293h0M345 399h0M262 337h0M648 278h0M282 401h0M330 420h0M524 368h0M553 290h0M502 394h0M508 303h0M328 434h0M635 397h0M630 424h0M493 432h0M291 427h0M573 414h0M244 407h0M571 377h0M329 372h0M526 414h0M231 298h0M488 383h0M321 402h0M667 377h0M312 350h0M549 366h0M330 409h0M267 368h0M534 366h0M470 412h0M303 375h0M516 243h0M233 344h0M697 426h0M534 333h0M370 379h0M659 334h0M255 401h0M530 404h0M718 58h0M380 415h0M556 401h0M600 307h0M649 270h0M227 366h0M598 322h0M289 414h0M573 372h0M572 401h0M371 395h0M329 355h0M626 343h0M460 375h0M482 352h0M280 367h0M537 389h0M486 360h0M637 236h0M534 418h0M297 274h0M568 374h0M636 365h0M562 414h0M574 367h0M255 390h0M564 420h0M618 386h0M231 370h0M652 253h0M218 383h0M607 423h0M521 355h0M626 402h0M567 395h0M237 335h0M565 369h0M643 410h0M259 210h0M516 245h0M480 359h0M589 307h0M454 414h0M786 307h0M225 355h0M476 398h0M488 344h0M496 298h0M252 349h0M634 434h0M660 358h0M295 412h0M580 355h0M441 408h0M289 394h0M437 422h0M581 406h0M649 284h0M641 421h0M532 382h0M562 307h0M437 411h0M622 329h0M287 339h0M318 412h0M664 362h0M485 351h0M629 291h0M470 397h0M517 403h0M453 432h0M181 353h0M492 409h0M267 395h0M513 369h0M474 368h0M611 420h0M440 400h0M358 409h0M608 136h0M579 302h0M634 200h0M498 345h0M93 285h0M625 395h0M298 353h0M580 424h0M292 401h0M610 400h0M615 385h0M671 260h0M590 341h0M256 430h0M235 313h0M602 408h0M342 422h0M264 372h0M480 424h0M513 423h0M491 321h0M269 286h0M561 352h0M538 260h0M224 403h0M633 338h0M524 348h0M600 415h0M320 357h0M510 283h0M592 341h0M510 416h0M529 427h0M313 377h0M303 325h0M182 325h0M585 421h0M609 319h0M221 380h0M125 348h0M446 413h0M286 342h0M311 368h0M274 415h0M234 408h0M596 411h0M435 423h0M641 234h0M587 419h0M184 370h0M267 366h0M273 269h0M240 318h0M456 424h0M586 366h0M140 426h0M510 328h0M248 394h0M577 360h0M298 413h0M281 361h0M339 400h0M498 398h0M630 286h0M575 345h0M351 423h0M604 429h0M196 320h0M467 390h0M619 284h0M532 405h0M569 369h0M444 429h0M194 143h0M238 350h0M635 375h0M259 408h0M585 322h0M485 427h0M347 368h0M568 331h0M210 370h0M180 314h0M246 328h0M664 411h0M651 384h0M776 86h0M319 356h0M196 380h0M457 374h0M187 388h0M319 427h0M556 370h0M532 364h0M557 361h0M263 321h0M556 401h0M234 322h0M579 336h0M293 426h0M459 418h0M325 397h0M446 397h0M499 373h0M266 395h0M293 412h0M573 398h0M280 351h0M464 394h0M611 302h0M514 343h0M487 348h0M638 269h0M626 420h0M671 433h0M248 351h0M572 302h0M498 374h0M476 392h0M370 430h0M454 420h0M287 361h0M616 285h0M465 408h0M234 421h0M601 299h0M496 429h0M582 302h0" stroke="#689fd5" stroke-width="10.4"/>
</g>
<path d="M1936,317.2 H2362" stroke="#c4c4c4" stroke-width="1.2" stroke-dasharray="7 5" fill="none"/>
<path d="M1936.1,110.8 V412.5 H2361.7" stroke="#3a3a3a" stroke-width="1" fill="none"/>
<path d="M1936,392.7 h-3.2M1936,334.4 h-3.2M1936,276.1 h-3.2M1936,217.8 h-3.2M1936,159.5 h-3.2M2028.3,412.5 v3.2M2140.4,412.5 v3.2M2252.5,412.5 v3.2" stroke="#3a3a3a" stroke-width="1" fill="none"/>
<text x="1929.6" y="396.0" text-anchor="end" style="font-family:'DejaVu Sans',sans-serif" font-size="9.2" fill="#222">0</text>
<text x="1929.6" y="337.7" text-anchor="end" style="font-family:'DejaVu Sans',sans-serif" font-size="9.2" fill="#222">1</text>
<text x="1929.6" y="279.4" text-anchor="end" style="font-family:'DejaVu Sans',sans-serif" font-size="9.2" fill="#222">2</text>
<text x="1929.6" y="221.1" text-anchor="end" style="font-family:'DejaVu Sans',sans-serif" font-size="9.2" fill="#222">3</text>
<text x="1929.6" y="162.8" text-anchor="end" style="font-family:'DejaVu Sans',sans-serif" font-size="9.2" fill="#222">4</text>
<text x="2028.3" y="429.6" text-anchor="middle" style="font-family:'DejaVu Sans',sans-serif" font-size="9.2" fill="#222">−5</text>
<text x="2140.4" y="429.6" text-anchor="middle" style="font-family:'DejaVu Sans',sans-serif" font-size="9.2" fill="#222">0</text>
<text x="2252.5" y="429.6" text-anchor="middle" style="font-family:'DejaVu Sans',sans-serif" font-size="9.2" fill="#222">5</text>
<text x="2141.8" y="452.6" font-size="22.3" text-anchor="middle" fill="#111">log<tspan dy="4" font-size="15.5">2</tspan><tspan dy="-4">(Fold change)</tspan></text>
<text transform="translate(1906.5,284) rotate(-90)" font-size="22.3" text-anchor="middle" fill="#111">-log<tspan dy="4" font-size="15.5">10</tspan><tspan dy="-4">(P value)</tspan></text>
</g>
<g id="pca">
<text x="758.7" y="705.4" font-size="34" text-anchor="middle" fill="#1e1e1e" stroke="#1e1e1e" stroke-width="0.35" >R4RA Phosphoproteome</text>
<circle cx="702.8" cy="770.9" r="7.8" fill="#78a6d8" fill-opacity="0.95"/><circle cx="756.8" cy="774.4" r="7.8" fill="#78a6d8" fill-opacity="0.95"/><circle cx="793.6" cy="767.5" r="7.8" fill="#78a6d8" fill-opacity="0.95"/><circle cx="855.7" cy="816.1" r="7.8" fill="#78a6d8" fill-opacity="0.95"/><circle cx="704.7" cy="829.9" r="7.8" fill="#78a6d8" fill-opacity="0.95"/><circle cx="747.0" cy="828.4" r="7.8" fill="#78a6d8" fill-opacity="0.95"/><circle cx="650.7" cy="835.7" r="7.8" fill="#78a6d8" fill-opacity="0.95"/><circle cx="887.6" cy="844.1" r="7.8" fill="#78a6d8" fill-opacity="0.95"/><circle cx="611.5" cy="869.9" r="7.8" fill="#78a6d8" fill-opacity="0.95"/><circle cx="900.6" cy="884.8" r="7.8" fill="#78a6d8" fill-opacity="0.95"/><circle cx="898.8" cy="902.5" r="7.8" fill="#78a6d8" fill-opacity="0.95"/><circle cx="834.0" cy="911.0" r="7.8" fill="#78a6d8" fill-opacity="0.95"/><circle cx="879.0" cy="920.4" r="7.8" fill="#78a6d8" fill-opacity="0.95"/><circle cx="858.7" cy="962.5" r="7.8" fill="#78a6d8" fill-opacity="0.95"/><circle cx="866.6" cy="970.6" r="7.8" fill="#78a6d8" fill-opacity="0.95"/><circle cx="870.6" cy="970.6" r="7.8" fill="#78a6d8" fill-opacity="0.95"/><circle cx="707.2" cy="988.3" r="7.8" fill="#78a6d8" fill-opacity="0.95"/><circle cx="748.1" cy="1001.4" r="7.8" fill="#78a6d8" fill-opacity="0.95"/><circle cx="795.5" cy="994.9" r="7.8" fill="#78a6d8" fill-opacity="0.95"/><circle cx="854.0" cy="1008.0" r="7.8" fill="#78a6d8" fill-opacity="0.95"/><circle cx="702.7" cy="1108.7" r="7.8" fill="#78a6d8" fill-opacity="0.95"/>
<circle cx="625.7" cy="890.7" r="7.8" fill="#2d8a4e" fill-opacity="0.95"/><circle cx="580.0" cy="906.4" r="7.8" fill="#2d8a4e" fill-opacity="0.95"/><circle cx="599.4" cy="917.2" r="7.8" fill="#2d8a4e" fill-opacity="0.95"/><circle cx="586.2" cy="952.0" r="7.8" fill="#2d8a4e" fill-opacity="0.95"/><circle cx="619.4" cy="953.6" r="7.8" fill="#2d8a4e" fill-opacity="0.95"/>
<circle cx="680.2" cy="789.4" r="7.8" fill="#d8758a" fill-opacity="0.95"/><circle cx="710.9" cy="800.9" r="7.8" fill="#d8758a" fill-opacity="0.95"/><circle cx="603.9" cy="952.7" r="7.8" fill="#d8758a" fill-opacity="0.95"/><circle cx="593.9" cy="966.4" r="7.8" fill="#d8758a" fill-opacity="0.95"/><circle cx="725.7" cy="958.5" r="7.8" fill="#d8758a" fill-opacity="0.95"/><circle cx="727.8" cy="962.0" r="7.8" fill="#d8758a" fill-opacity="0.95"/><circle cx="749.4" cy="1052.3" r="7.8" fill="#d8758a" fill-opacity="0.95"/>
<path d="M544,910.9 H973.4 M740.2,736 V1126" stroke="#4a4a4a" stroke-width="2.0" stroke-dasharray="10.6 10.4" fill="none"/>
<ellipse cx="600.5" cy="924" rx="38" ry="53.3" transform="rotate(5 600.5 924)" fill="none" stroke="#2d8a4e" stroke-width="2.4"/>
<ellipse cx="690.2" cy="927.7" rx="114.5" ry="176.4" transform="rotate(-6.6 690.2 927.7)" fill="none" stroke="#d8758a" stroke-width="2.1"/>
<ellipse cx="803.5" cy="901.8" rx="170" ry="136.9" transform="rotate(49.9 803.5 901.8)" fill="none" stroke="#78a6d8" stroke-width="2.1"/>
<path d="M544,728.7 V1126.1 H973.4" stroke="#111" stroke-width="2.6" fill="none"/>
<text x="530.5" y="768.3000000000001" font-size="28.4" text-anchor="end" fill="#1e1e1e" stroke="#1e1e1e" stroke-width="0.35" >200</text>
<text x="530.5" y="846.3000000000001" font-size="28.4" text-anchor="end" fill="#1e1e1e" stroke="#1e1e1e" stroke-width="0.35" >100</text>
<text x="530.5" y="921.4" font-size="28.4" text-anchor="end" fill="#1e1e1e" stroke="#1e1e1e" stroke-width="0.35" >0</text>
<text x="530.5" y="1001.0" font-size="28.4" text-anchor="end" fill="#1e1e1e" stroke="#1e1e1e" stroke-width="0.35" >-100</text>
<text x="530.5" y="1077.8999999999999" font-size="28.4" text-anchor="end" fill="#1e1e1e" stroke="#1e1e1e" stroke-width="0.35" >-200</text>
<text x="577.6" y="1160" font-size="28.4" text-anchor="middle" fill="#1e1e1e" stroke="#1e1e1e" stroke-width="0.35" >-200</text>
<text x="644.5" y="1160" font-size="28.4" text-anchor="middle" fill="#1e1e1e" stroke="#1e1e1e" stroke-width="0.35" >-100</text>
<text x="730.9" y="1160" font-size="28.4" text-anchor="middle" fill="#1e1e1e" stroke="#1e1e1e" stroke-width="0.35" >0</text>
<text x="781" y="1160" font-size="28.4" text-anchor="middle" fill="#1e1e1e" stroke="#1e1e1e" stroke-width="0.35" >100</text>
<text x="846.9" y="1160" font-size="28.4" text-anchor="middle" fill="#1e1e1e" stroke="#1e1e1e" stroke-width="0.35" >200</text>
<text x="914" y="1160" font-size="28.4" text-anchor="middle" fill="#1e1e1e" stroke="#1e1e1e" stroke-width="0.35" >300</text>
<text x="758" y="1199" font-size="33.8" text-anchor="middle" fill="#1e1e1e" stroke="#1e1e1e" stroke-width="0.35" >PC1 (20.9%)</text>
<text transform="translate(455.5,926) rotate(-90)" font-size="33.8" text-anchor="middle" fill="#1e1e1e" stroke="#1e1e1e" stroke-width="0.35">PC2 (10.3%)</text>
<text x="1013.3" y="867.3" font-size="33.4" text-anchor="start" fill="#1e1e1e" stroke="#1e1e1e" stroke-width="0.35" >Pathotype</text><path d="M1018.9,909.7 H1052.7" stroke="#2d8a4e" stroke-width="2.2"/><circle cx="1035.6" cy="909.7" r="8" fill="#2d8a4e"/><text x="1074.8" y="922.8000000000001" font-size="33.7" text-anchor="start" fill="#1e1e1e" stroke="#1e1e1e" stroke-width="0.35" >Fibroid</text><path d="M1018.9,952.7 H1052.7" stroke="#78a6d8" stroke-width="2.2"/><circle cx="1035.6" cy="952.7" r="8" fill="#78a6d8"/><text x="1074.8" y="965.7500000000001" font-size="33.7" text-anchor="start" fill="#1e1e1e" stroke="#1e1e1e" stroke-width="0.35" >Lymphoid</text><path d="M1018.9,995.6 H1052.7" stroke="#d8758a" stroke-width="2.2"/><circle cx="1035.6" cy="995.6" r="8" fill="#d8758a"/><text x="1074.8" y="1008.7" font-size="33.7" text-anchor="start" fill="#1e1e1e" stroke="#1e1e1e" stroke-width="0.35" >Myeloid</text>
<text x="1624.8" y="705.4" font-size="34" text-anchor="middle" fill="#1e1e1e" stroke="#1e1e1e" stroke-width="0.35" >R4RA Total proteome</text>
<circle cx="1527.2" cy="747.1" r="7.8" fill="#78a6d8" fill-opacity="0.95"/><circle cx="1504.6" cy="782.2" r="7.8" fill="#78a6d8" fill-opacity="0.95"/><circle cx="1559.8" cy="784.7" r="7.8" fill="#78a6d8" fill-opacity="0.95"/><circle cx="1677.6" cy="836.7" r="7.8" fill="#78a6d8" fill-opacity="0.95"/><circle cx="1703.9" cy="818.8" r="7.8" fill="#78a6d8" fill-opacity="0.95"/><circle cx="1770.9" cy="886.3" r="7.8" fill="#78a6d8" fill-opacity="0.95"/><circle cx="1779.5" cy="884.6" r="7.8" fill="#78a6d8" fill-opacity="0.95"/><circle cx="1786.9" cy="889.5" r="7.8" fill="#78a6d8" fill-opacity="0.95"/><circle cx="1676.5" cy="910.0" r="7.8" fill="#78a6d8" fill-opacity="0.95"/><circle cx="1460.4" cy="924.0" r="7.8" fill="#78a6d8" fill-opacity="0.95"/><circle cx="1554.4" cy="930.7" r="7.8" fill="#78a6d8" fill-opacity="0.95"/><circle cx="1615.1" cy="931.1" r="7.8" fill="#78a6d8" fill-opacity="0.95"/><circle cx="1619.1" cy="943.3" r="7.8" fill="#78a6d8" fill-opacity="0.95"/><circle cx="1697.5" cy="937.4" r="7.8" fill="#78a6d8" fill-opacity="0.95"/><circle cx="1720.6" cy="936.1" r="7.8" fill="#78a6d8" fill-opacity="0.95"/><circle cx="1749.9" cy="929.9" r="7.8" fill="#78a6d8" fill-opacity="0.95"/><circle cx="1509.9" cy="947.3" r="7.8" fill="#78a6d8" fill-opacity="0.95"/><circle cx="1676.6" cy="984.3" r="7.8" fill="#78a6d8" fill-opacity="0.95"/><circle cx="1529.0" cy="998.8" r="7.8" fill="#78a6d8" fill-opacity="0.95"/><circle cx="1540.0" cy="984.3" r="7.8" fill="#78a6d8" fill-opacity="0.95"/><circle cx="1517.7" cy="1056.8" r="7.8" fill="#78a6d8" fill-opacity="0.95"/>
<circle cx="1446.9" cy="803.6" r="7.8" fill="#2d8a4e" fill-opacity="0.95"/><circle cx="1454.8" cy="802.9" r="7.8" fill="#2d8a4e" fill-opacity="0.95"/><circle cx="1447.6" cy="863.7" r="7.8" fill="#2d8a4e" fill-opacity="0.95"/><circle cx="1432.5" cy="911.7" r="7.8" fill="#2d8a4e" fill-opacity="0.95"/><circle cx="1437.6" cy="915.3" r="7.8" fill="#2d8a4e" fill-opacity="0.95"/>
<circle cx="1529.9" cy="791.8" r="7.8" fill="#d8758a" fill-opacity="0.95"/><circle cx="1496.0" cy="832.3" r="7.8" fill="#d8758a" fill-opacity="0.95"/><circle cx="1559.8" cy="860.0" r="7.8" fill="#d8758a" fill-opacity="0.95"/><circle cx="1540.8" cy="946.3" r="7.8" fill="#d8758a" fill-opacity="0.95"/><circle cx="1541.4" cy="987.0" r="7.8" fill="#d8758a" fill-opacity="0.95"/><circle cx="1460.5" cy="1027.3" r="7.8" fill="#d8758a" fill-opacity="0.95"/><circle cx="1471.8" cy="1032.3" r="7.8" fill="#d8758a" fill-opacity="0.95"/>
<path d="M1409.4,903.8 H1838.6 M1575.8,736 V1126" stroke="#4a4a4a" stroke-width="2.0" stroke-dasharray="10.6 10.4" fill="none"/>
<ellipse cx="1444.5" cy="860.3" rx="109.3" ry="8.4" transform="rotate(98 1444.5 860.3)" fill="none" stroke="#2d8a4e" stroke-width="2.6"/>
<ellipse cx="1516.4" cy="926.7" rx="185.3" ry="64.3" transform="rotate(102.3 1516.4 926.7)" fill="none" stroke="#d8758a" stroke-width="2.1"/>
<ellipse cx="1637.7" cy="914.75" rx="183.2" ry="118.7" transform="rotate(-9.6 1637.7 914.75)" fill="none" stroke="#78a6d8" stroke-width="2.1"/>
<path d="M1409.4,728.7 V1126.1 H1838.6" stroke="#111" stroke-width="2.6" fill="none"/>
<text x="1396" y="810.5" font-size="28.4" text-anchor="end" fill="#1e1e1e" stroke="#1e1e1e" stroke-width="0.35" >100</text>
<text x="1396" y="914.8000000000001" font-size="28.4" text-anchor="end" fill="#1e1e1e" stroke="#1e1e1e" stroke-width="0.35" >0</text>
<text x="1396" y="1020.8000000000001" font-size="28.4" text-anchor="end" fill="#1e1e1e" stroke="#1e1e1e" stroke-width="0.35" >-100</text>
<text x="1396" y="1127.1" font-size="28.4" text-anchor="end" fill="#1e1e1e" stroke="#1e1e1e" stroke-width="0.35" >-200</text>
<text x="1439.4" y="1160" font-size="28.4" text-anchor="middle" fill="#1e1e1e" stroke="#1e1e1e" stroke-width="0.35" >-100</text>
<text x="1565.9" y="1160" font-size="28.4" text-anchor="middle" fill="#1e1e1e" stroke="#1e1e1e" stroke-width="0.35" >0</text>
<text x="1658.1" y="1160" font-size="28.4" text-anchor="middle" fill="#1e1e1e" stroke="#1e1e1e" stroke-width="0.35" >100</text>
<text x="1762.2" y="1160" font-size="28.4" text-anchor="middle" fill="#1e1e1e" stroke="#1e1e1e" stroke-width="0.35" >200</text>
<text x="1623.2" y="1199" font-size="33.8" text-anchor="middle" fill="#1e1e1e" stroke="#1e1e1e" stroke-width="0.35" >PC1 (20.9%)</text>
<text transform="translate(1320.5,926) rotate(-90)" font-size="33.8" text-anchor="middle" fill="#1e1e1e" stroke="#1e1e1e" stroke-width="0.35">PC2 (10.8%)</text>
<text x="1878.8" y="867.3" font-size="33.4" text-anchor="start" fill="#1e1e1e" stroke="#1e1e1e" stroke-width="0.35" >Pathotype</text><path d="M1884.4,909.7 H1918.2" stroke="#2d8a4e" stroke-width="2.2"/><circle cx="1901.1" cy="909.7" r="8" fill="#2d8a4e"/><text x="1940.3" y="922.8000000000001" font-size="33.7" text-anchor="start" fill="#1e1e1e" stroke="#1e1e1e" stroke-width="0.35" >Fibroid</text><path d="M1884.4,952.7 H1918.2" stroke="#78a6d8" stroke-width="2.2"/><circle cx="1901.1" cy="952.7" r="8" fill="#78a6d8"/><text x="1940.3" y="965.7500000000001" font-size="33.7" text-anchor="start" fill="#1e1e1e" stroke="#1e1e1e" stroke-width="0.35" >Lymphoid</text><path d="M1884.4,995.6 H1918.2" stroke="#d8758a" stroke-width="2.2"/><circle cx="1901.1" cy="995.6" r="8" fill="#d8758a"/><text x="1940.3" y="1008.7" font-size="33.7" text-anchor="start" fill="#1e1e1e" stroke="#1e1e1e" stroke-width="0.35" >Myeloid</text>
</g>
<g id="text">
<text x="150.5" y="62.4" font-size="45" font-weight="bold">A</text>
<text x="449.8" y="655.8" font-size="45" font-weight="bold">B</text>
<text x="1291" y="655.8" font-size="45" font-weight="bold">C</text>
<text x="33" y="559.9" font-size="46" >33 synovial biopsies</text>
<text x="2124.8" y="531.7" font-size="46" text-anchor="middle">Differential</text>
<text x="2126" y="587" font-size="46" text-anchor="middle">expression analysis</text>
<text x="408.5" y="196.6" font-size="24.5" textLength="82.5" lengthAdjust="spacingAndGlyphs" fill="#111">Protein</text>
<text x="392.3" y="225.9" font-size="24.5" textLength="114.7" lengthAdjust="spacingAndGlyphs" fill="#111">extraction</text>
<text x="726.9" y="196.6" font-size="24.5" textLength="83.3" lengthAdjust="spacingAndGlyphs" fill="#111">Protein</text>
<text x="714.6" y="225.9" font-size="24.5" textLength="107.7" lengthAdjust="spacingAndGlyphs" fill="#111">digestion</text>
<text x="1059.3" y="196.8" font-size="24.5" textLength="133.9" lengthAdjust="spacingAndGlyphs" fill="#111">Enrichment</text>
<text x="1309.3" y="196.6" font-size="24.5" textLength="153.9" lengthAdjust="spacingAndGlyphs" fill="#111">Fractionation</text>
<text x="1601.5" y="411.7" font-size="25.5" textLength="177.0" lengthAdjust="spacingAndGlyphs" font-style="italic" fill="#111">Retention time</text>
<text transform="translate(1522,356.5) rotate(-90)" font-size="26.5" textLength="135" lengthAdjust="spacingAndGlyphs" font-style="italic" fill="#111">Abundance</text>
</g>
</svg>
</body></html>
